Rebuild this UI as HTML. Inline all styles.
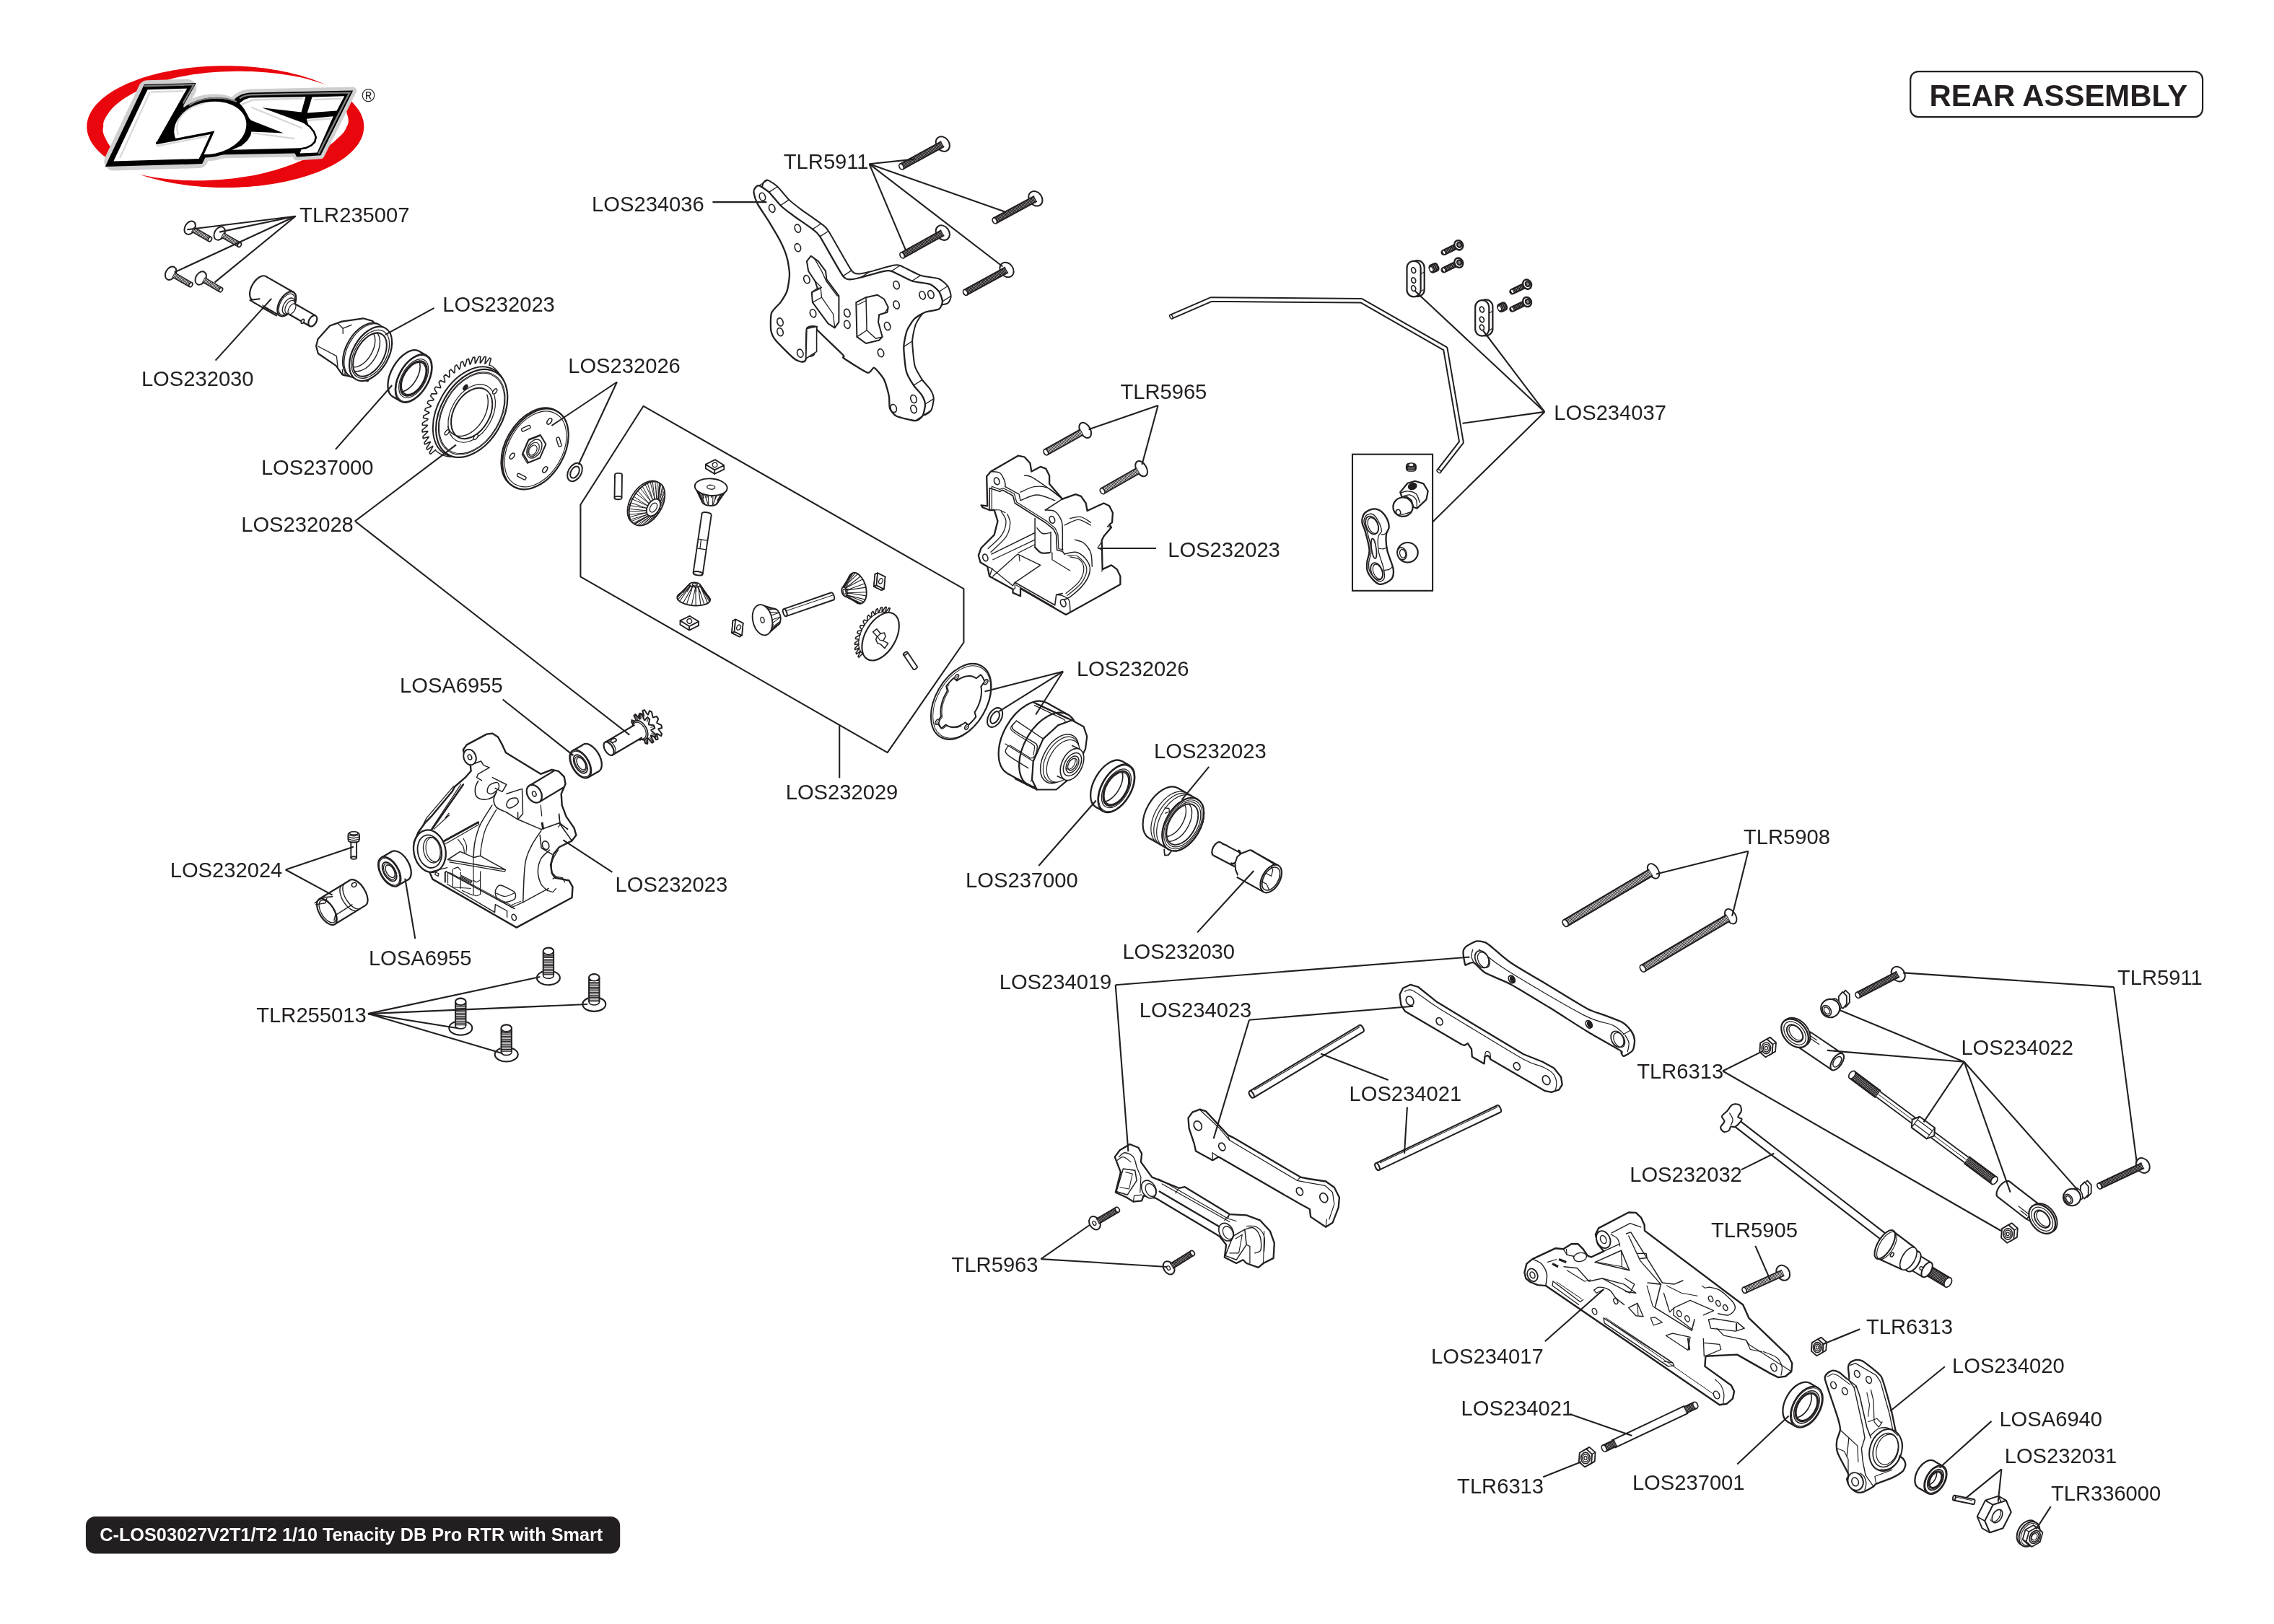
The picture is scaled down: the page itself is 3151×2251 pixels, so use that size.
<!DOCTYPE html>
<html><head><meta charset="utf-8"><title>REAR ASSEMBLY</title>
<style>
html,body{margin:0;padding:0;background:#fff;}
body{width:3151px;height:2251px;overflow:hidden;}
svg{display:block;font-family:"Liberation Sans",Arial,Helvetica,sans-serif;will-change:transform;transform:translateZ(0);}
</style></head><body>
<svg xmlns="http://www.w3.org/2000/svg" width="3151" height="2251" viewBox="0 0 3151 2251">
<rect width="3151" height="2251" fill="#fff"/>
<text x="415.1" y="307.5" font-size="29.17" font-weight="normal" fill="#231f20" text-anchor="start" >TLR235007</text>
<text x="613.2" y="431.6" font-size="29.17" font-weight="normal" fill="#231f20" text-anchor="start" >LOS232023</text>
<text x="195.9" y="535.0" font-size="29.17" font-weight="normal" fill="#231f20" text-anchor="start" >LOS232030</text>
<text x="1085.8" y="233.9" font-size="29.17" font-weight="normal" fill="#231f20" text-anchor="start" >TLR5911</text>
<text x="820.1" y="293.0" font-size="29.17" font-weight="normal" fill="#231f20" text-anchor="start" >LOS234036</text>
<text x="787.2" y="517.3" font-size="29.17" font-weight="normal" fill="#231f20" text-anchor="start" >LOS232026</text>
<text x="1552.4" y="553.1" font-size="29.17" font-weight="normal" fill="#231f20" text-anchor="start" >TLR5965</text>
<text x="2153.3" y="582.4" font-size="29.17" font-weight="normal" fill="#231f20" text-anchor="start" >LOS234037</text>
<text x="361.9" y="658.0" font-size="29.17" font-weight="normal" fill="#231f20" text-anchor="start" >LOS237000</text>
<text x="334.2" y="736.7" font-size="29.17" font-weight="normal" fill="#231f20" text-anchor="start" >LOS232028</text>
<text x="554.0" y="960.3" font-size="29.17" font-weight="normal" fill="#231f20" text-anchor="start" >LOSA6955</text>
<text x="235.7" y="1215.9" font-size="29.17" font-weight="normal" fill="#231f20" text-anchor="start" >LOS232024</text>
<text x="1088.7" y="1108.1" font-size="29.17" font-weight="normal" fill="#231f20" text-anchor="start" >LOS232029</text>
<text x="1491.9" y="937.4" font-size="29.17" font-weight="normal" fill="#231f20" text-anchor="start" >LOS232026</text>
<text x="1618.2" y="771.8" font-size="29.17" font-weight="normal" fill="#231f20" text-anchor="start" >LOS232023</text>
<text x="1599.0" y="1050.8" font-size="29.17" font-weight="normal" fill="#231f20" text-anchor="start" >LOS232023</text>
<text x="2416.0" y="1170.0" font-size="29.17" font-weight="normal" fill="#231f20" text-anchor="start" >TLR5908</text>
<text x="510.9" y="1337.7" font-size="29.17" font-weight="normal" fill="#231f20" text-anchor="start" >LOSA6955</text>
<text x="355.3" y="1416.9" font-size="29.17" font-weight="normal" fill="#231f20" text-anchor="start" >TLR255013</text>
<text x="852.6" y="1236.2" font-size="29.17" font-weight="normal" fill="#231f20" text-anchor="start" >LOS232023</text>
<text x="1338.1" y="1230.3" font-size="29.17" font-weight="normal" fill="#231f20" text-anchor="start" >LOS237000</text>
<text x="1384.7" y="1370.7" font-size="29.17" font-weight="normal" fill="#231f20" text-anchor="start" >LOS234019</text>
<text x="1318.6" y="1762.8" font-size="29.17" font-weight="normal" fill="#231f20" text-anchor="start" >TLR5963</text>
<text x="1555.4" y="1328.6" font-size="29.17" font-weight="normal" fill="#231f20" text-anchor="start" >LOS232030</text>
<text x="1578.7" y="1409.5" font-size="29.17" font-weight="normal" fill="#231f20" text-anchor="start" >LOS234023</text>
<text x="1869.5" y="1526.3" font-size="29.17" font-weight="normal" fill="#231f20" text-anchor="start" >LOS234021</text>
<text x="2268.2" y="1494.9" font-size="29.17" font-weight="normal" fill="#231f20" text-anchor="start" >TLR6313</text>
<text x="2258.2" y="1637.9" font-size="29.17" font-weight="normal" fill="#231f20" text-anchor="start" >LOS232032</text>
<text x="2371.0" y="1715.0" font-size="29.17" font-weight="normal" fill="#231f20" text-anchor="start" >TLR5905</text>
<text x="2933.9" y="1365.1" font-size="29.17" font-weight="normal" fill="#231f20" text-anchor="start" >TLR5911</text>
<text x="2717.4" y="1461.5" font-size="29.17" font-weight="normal" fill="#231f20" text-anchor="start" >LOS234022</text>
<text x="1983.1" y="1889.7" font-size="29.17" font-weight="normal" fill="#231f20" text-anchor="start" >LOS234017</text>
<text x="2024.6" y="1961.8" font-size="29.17" font-weight="normal" fill="#231f20" text-anchor="start" >LOS234021</text>
<text x="2019.1" y="2070.2" font-size="29.17" font-weight="normal" fill="#231f20" text-anchor="start" >TLR6313</text>
<text x="2261.9" y="2064.6" font-size="29.17" font-weight="normal" fill="#231f20" text-anchor="start" >LOS237001</text>
<text x="2586.0" y="1848.9" font-size="29.17" font-weight="normal" fill="#231f20" text-anchor="start" >TLR6313</text>
<text x="2705.0" y="1903.0" font-size="29.17" font-weight="normal" fill="#231f20" text-anchor="start" >LOS234020</text>
<text x="2770.4" y="1976.7" font-size="29.17" font-weight="normal" fill="#231f20" text-anchor="start" >LOSA6940</text>
<text x="2777.7" y="2027.9" font-size="29.17" font-weight="normal" fill="#231f20" text-anchor="start" >LOS232031</text>
<text x="2841.9" y="2080.0" font-size="29.17" font-weight="normal" fill="#231f20" text-anchor="start" >TLR336000</text>
<rect x="2647.2" y="99.1" width="404.9" height="63" rx="11" ry="11" fill="#fff" stroke="#231f20" stroke-width="2.2"/>
<text x="2673.5" y="146.8" font-size="41.9" font-weight="bold" fill="#231f20" text-anchor="start" >REAR ASSEMBLY</text>
<rect x="118.9" y="2102" width="740.3" height="51.5" rx="13" ry="13" fill="#231f20"/>
<text x="138.3" y="2136.4" font-size="25.25" font-weight="bold" fill="#fff" text-anchor="start" >C-LOS03027V2T1/T2 1/10 Tenacity DB Pro RTR with Smart</text>
<path d="M169.6,232.1 L164.7,229.6 L160.0,227.0 L155.6,224.4 L151.4,221.6 L147.4,218.8 L143.7,216.0 L140.2,213.0 L137.0,210.1 L134.1,207.0 L131.5,203.9 L129.1,200.8 L127.0,197.7 L125.2,194.5 L123.6,191.2 L122.4,188.0 L121.4,184.7 L120.8,181.4 L120.4,178.1 L120.3,174.8 L120.5,171.6 L121.0,168.3 L121.8,165.0 L122.9,161.7 L124.3,158.5 L126.0,155.3 L127.9,152.1 L130.1,148.9 L132.6,145.8 L135.4,142.8 L138.5,139.8 L141.8,136.8 L145.4,133.9 L149.2,131.1 L153.3,128.3 L157.6,125.6 L162.1,123.0 L166.9,120.5 L171.9,118.0 L177.2,115.6 L182.6,113.4 L188.2,111.2 L194.0,109.1 L200.0,107.1 L206.2,105.3 L212.5,103.5 L219.0,101.8 L225.6,100.3 L232.4,98.9 L239.3,97.5 L246.2,96.4 L253.3,95.3 L260.5,94.3 L267.8,93.5 L275.1,92.8 L282.5,92.2 L289.9,91.8 L297.4,91.5 L304.8,91.3 L312.3,91.2 L319.8,91.3 L327.3,91.5 L334.8,91.8 L342.2,92.2 L349.6,92.8 L356.9,93.5 L364.2,94.3 L371.4,95.3 L378.4,96.4 L385.4,97.6 L392.3,98.9 L399.1,100.3 L405.7,101.9 L412.2,103.5 L418.5,105.3 L424.6,107.2 L430.6,109.1 L436.5,111.2 L442.1,113.4 L447.5,115.7 L452.7,118.0 L452.7,118.0 L447.3,116.0 L441.8,114.2 L436.0,112.4 L430.1,110.7 L424.0,109.1 L417.8,107.6 L411.4,106.3 L404.9,105.1 L398.2,103.9 L391.5,102.9 L384.6,102.0 L377.6,101.3 L370.6,100.6 L363.5,99.9 L356.3,99.5 L349.0,99.1 L341.8,98.9 L334.4,98.8 L327.1,98.8 L319.7,98.9 L312.3,99.2 L305.0,99.5 L297.7,100.0 L290.4,100.6 L283.1,101.3 L275.9,102.2 L268.8,103.1 L261.7,104.2 L254.8,105.4 L247.9,106.7 L241.2,108.3 L234.6,110.1 L228.2,111.9 L221.9,113.8 L215.8,115.8 L209.9,117.9 L204.1,120.2 L198.6,122.5 L193.3,124.8 L188.2,127.3 L183.3,129.8 L178.7,132.4 L174.4,135.1 L170.3,137.8 L166.5,140.6 L163.0,143.3 L159.8,146.1 L156.9,148.8 L154.3,151.6 L152.1,154.3 L150.1,156.9 L148.5,159.4 L147.0,161.7 L145.7,163.9 L144.8,165.9 L144.0,167.8 L143.5,169.5 L143.2,171.2 L143.1,172.6 L143.1,174.0 L143.3,175.3 L143.0,176.6 L142.7,178.0 L142.5,179.5 L142.6,181.2 L142.8,183.0 L143.3,185.0 L144.0,187.2 L145.0,189.5 L146.3,191.9 L147.6,194.7 L149.2,197.7 L151.1,200.8 L153.4,203.9 L156.0,207.1 L159.0,210.3 L162.3,213.5 L165.9,216.7 L169.8,219.9 L174.0,223.1 Z" fill="#e9070d" stroke="none" stroke-width="0" stroke-linejoin="round" stroke-linecap="round" />
<path d="M463.6,123.6 L467.8,126.1 L471.8,128.6 L475.6,131.2 L479.1,133.8 L482.5,136.5 L485.6,139.2 L488.5,142.0 L491.1,144.9 L493.5,147.7 L495.7,150.7 L497.7,153.6 L499.4,156.6 L500.8,159.6 L502.0,162.6 L503.0,165.6 L503.7,168.7 L504.1,171.7 L504.3,174.8 L504.2,177.9 L503.9,180.9 L503.3,184.0 L502.5,187.0 L501.5,190.1 L500.1,193.1 L498.6,196.1 L496.8,199.0 L494.7,202.0 L492.4,204.8 L489.9,207.7 L487.1,210.5 L484.1,213.3 L480.9,216.0 L477.4,218.7 L473.8,221.3 L469.9,223.8 L465.8,226.3 L461.5,228.7 L457.0,231.1 L452.3,233.3 L447.5,235.5 L442.4,237.7 L437.2,239.7 L431.8,241.6 L426.3,243.5 L420.6,245.3 L414.8,247.0 L408.8,248.6 L402.7,250.1 L396.5,251.4 L390.2,252.7 L383.8,253.9 L377.3,255.0 L370.7,256.0 L364.0,256.9 L357.2,257.7 L350.4,258.3 L343.6,258.9 L336.7,259.3 L329.7,259.7 L322.8,259.9 L315.8,260.0 L308.8,260.0 L301.9,259.9 L294.9,259.7 L288.0,259.3 L281.1,258.9 L274.2,258.3 L267.4,257.7 L260.6,256.9 L254.0,256.0 L247.4,255.0 L240.8,253.9 L234.4,252.7 L228.1,251.5 L221.9,250.1 L215.8,248.6 L209.8,247.0 L204.0,245.3 L198.3,243.5 L192.8,241.7 L192.8,241.7 L198.5,242.9 L204.4,244.1 L210.3,245.2 L216.4,246.2 L222.6,247.0 L228.9,247.8 L235.2,248.5 L241.7,249.1 L248.2,249.5 L254.8,249.9 L261.5,250.1 L268.2,250.2 L274.9,250.2 L281.7,250.2 L288.5,250.0 L295.3,249.6 L302.1,249.2 L308.9,248.7 L315.7,248.1 L322.5,247.4 L329.2,246.5 L335.9,245.6 L342.5,244.6 L349.1,243.4 L355.6,242.2 L362.0,240.8 L368.3,239.3 L374.5,237.6 L380.6,235.9 L386.6,234.1 L392.4,232.2 L398.1,230.2 L403.6,228.2 L409.0,226.2 L414.2,224.1 L419.3,221.9 L424.2,219.7 L428.8,217.4 L433.3,215.1 L437.5,212.7 L441.6,210.5 L445.6,208.4 L449.3,206.2 L452.8,204.0 L456.0,201.8 L459.0,199.6 L461.7,197.4 L464.2,195.3 L466.4,193.1 L468.4,191.2 L470.4,189.5 L472.2,187.8 L473.7,186.3 L475.1,184.8 L476.2,183.4 L477.2,182.0 L478.0,180.8 L478.7,179.6 L479.3,178.5 L479.7,177.5 L480.1,176.4 L480.5,175.3 L481.3,174.1 L481.9,172.8 L482.4,171.2 L482.7,169.4 L482.8,167.5 L482.7,165.3 L482.4,163.0 L481.7,160.5 L480.8,157.9 L480.1,154.7 L479.2,151.1 L478.1,147.4 L476.5,143.6 L474.6,139.7 L472.3,135.7 L469.8,131.7 L466.8,127.7 L463.6,123.6 Z" fill="#e9070d" stroke="none" stroke-width="0" stroke-linejoin="round" stroke-linecap="round" />
<path d="M204.5,124.2 L259.2,122.7 L216.1,198.7 L293.5,184.2 L275.6,220.0 L157.3,223.5 Z" fill="#cfcfcf" stroke="#cfcfcf" stroke-width="26" stroke-linejoin="round"/>
<ellipse cx="291" cy="176.8" rx="60.5" ry="46" transform="rotate(-11 291 176.8)" fill="#cfcfcf"/>
<path d="M300,214.5 L408.4,212.6 L411.3,217.4 L444.4,215.3 L489.2,125.6 L346.4,128.6 C336,129.5 329,133 324,139 L300,150 Z" fill="#cfcfcf" stroke="#cfcfcf" stroke-width="10" stroke-linejoin="round"/>
<path d="M204.5,124.2 L259.2,122.7 L216.1,198.7 L293.5,184.2 L275.6,220.0 L157.3,223.5 Z" fill="#000" stroke="#000" stroke-width="14.5" stroke-linejoin="miter" stroke-miterlimit="6"/>
<path d="M199.5,119.3 L268.5,117.2 L252,146" fill="none" stroke="#7d7d7d" stroke-width="2.2"/>
<path d="M300,214.5 L408.4,212.6 L411.3,217.4 L444.4,215.3 L489.2,125.6 L346.4,128.6 C336,129.5 329,133 324,139 L300,150 Z" fill="#000"/>
<path d="M332,136.5 C338,132.5 342,131.6 348,131.4 L484.4,128.4 L441.5,213" fill="none" stroke="#7d7d7d" stroke-width="2.4"/>
<path d="M253,140 L216.1,198.7 L262,192 Z" fill="#000"/>
<ellipse cx="291" cy="176.8" rx="55.5" ry="41" transform="rotate(-11 291 176.8)" fill="#000"/>
<path d="M262,146 C280,134 310,133 328,141" fill="none" stroke="#7d7d7d" stroke-width="2.2"/>
<ellipse cx="291.3" cy="177.3" rx="50.5" ry="36" transform="rotate(-11 291.3 177.3)" fill="#fff"/>
<path d="M247,187 C240,168 255,149 283,143" fill="none" stroke="#d6d6d6" stroke-width="2"/>
<path d="M204.5,124.2 L259.2,122.7 L216.1,198.7 L293.5,184.2 L275.6,220.0 L157.3,223.5 Z" fill="#fff"/>
<path d="M216.1,198.7 L294.5,183.8 L277.5,221" fill="none" stroke="#000" stroke-width="3.4" stroke-linejoin="miter"/>
<path d="M209,127.5 L254,126.3" fill="none" stroke="#d9d9d9" stroke-width="2.6"/>
<path d="M207.5,128 L166,219" fill="none" stroke="#d9d9d9" stroke-width="2.2"/>
<path d="M217,202.5 L287,189" fill="none" stroke="#d9d9d9" stroke-width="2.4"/>
<path d="M432.5,134.4 L477.2,133.2 L466.6,153.5 L425.8,156.6 Z" fill="#fff" stroke="none" stroke-width="0" stroke-linejoin="round" stroke-linecap="round" />
<path d="M424.8,164.8 L461.8,161.3 L439.5,211.6 L415.6,212.6 L417.6,206.7 L428.7,177.7 Z" fill="#fff" stroke="none" stroke-width="0" stroke-linejoin="round" stroke-linecap="round" />
<path d="M420.5,170.5 L428.7,176.8 L434.0,183.5 L436.4,190.3 L435.0,196.1 L430.6,200.5 L423.8,203.7 L415.1,205.3" fill="none" stroke="#000" stroke-width="5.2" stroke-linejoin="round"/>
<path d="M331.9,142.9 L338.7,138.1 L346.4,135.6 L423.4,134.2 L417.6,155.5 L362.9,149.2 L420.5,170.5 L428.7,176.8 L434.0,183.5 L436.4,190.3 L435.0,196.1 L430.6,200.5 L423.8,203.7 L415.1,205.3 L321.3,207.7 L334.8,201.9 L342.6,195.1 L347.4,187.4 L348.4,182.6 L392.9,184.5 L348.4,167.1 L345.5,164.2 L342.6,158.4 L338.7,151.6 L334.8,146.3 Z" fill="#fff" stroke="none" stroke-width="0" stroke-linejoin="round" stroke-linecap="round" />
<path d="M334.8,144.8 L350.3,138.5 L420.0,136.6" fill="none" stroke="#d6d6d6" stroke-width="2.4"/>
<path d="M350.3,184.5 L408.4,192.2" fill="none" stroke="#d6d6d6" stroke-width="2.2"/>
<path d="M348.4,148.7 L419.0,177.7" fill="none" stroke="#d6d6d6" stroke-width="2.0"/>
<path d="M435.4,138.1 L473.2,136.6" fill="none" stroke="#d6d6d6" stroke-width="2.4"/>
<path d="M425.8,167.1 L458.7,164.2" fill="none" stroke="#d6d6d6" stroke-width="2.4"/>
<text x="501.3" y="141.0" font-size="25.0" font-weight="normal" fill="#231f20" text-anchor="start" >®</text>
<ellipse cx="263.2" cy="315.7" rx="6.9" ry="9.8" transform="rotate(29.8 263.2 315.7)" fill="#fff" stroke="#231f20" stroke-width="2.0"/>
<line x1="267.0" y1="317.9" x2="290.9" y2="331.6" stroke="#231f20" stroke-width="8.2"/>
<line x1="267.0" y1="317.9" x2="290.9" y2="331.6" stroke="#fff" stroke-width="4.9"/>
<line x1="267.0" y1="317.9" x2="290.9" y2="331.6" stroke="#231f20" stroke-width="4.9" stroke-dasharray="1.05 0.85"/>
<ellipse cx="290.9" cy="331.6" rx="2.3" ry="3.3" transform="rotate(29.8 290.9 331.6)" fill="#fff" stroke="#231f20" stroke-width="1.7"/>
<ellipse cx="304.2" cy="323.5" rx="6.9" ry="9.8" transform="rotate(29.8 304.2 323.5)" fill="#fff" stroke="#231f20" stroke-width="2.0"/>
<line x1="308.0" y1="325.7" x2="331.9" y2="339.3" stroke="#231f20" stroke-width="8.2"/>
<line x1="308.0" y1="325.7" x2="331.9" y2="339.3" stroke="#fff" stroke-width="4.9"/>
<line x1="308.0" y1="325.7" x2="331.9" y2="339.3" stroke="#231f20" stroke-width="4.9" stroke-dasharray="1.05 0.85"/>
<ellipse cx="331.9" cy="339.3" rx="2.3" ry="3.3" transform="rotate(29.8 331.9 339.3)" fill="#fff" stroke="#231f20" stroke-width="1.7"/>
<ellipse cx="236.6" cy="378.7" rx="6.9" ry="9.8" transform="rotate(30.1 236.6 378.7)" fill="#fff" stroke="#231f20" stroke-width="2.0"/>
<line x1="240.4" y1="380.9" x2="264.3" y2="394.7" stroke="#231f20" stroke-width="8.2"/>
<line x1="240.4" y1="380.9" x2="264.3" y2="394.7" stroke="#fff" stroke-width="4.9"/>
<line x1="240.4" y1="380.9" x2="264.3" y2="394.7" stroke="#231f20" stroke-width="4.9" stroke-dasharray="1.05 0.85"/>
<ellipse cx="264.3" cy="394.7" rx="2.3" ry="3.3" transform="rotate(30.1 264.3 394.7)" fill="#fff" stroke="#231f20" stroke-width="1.7"/>
<ellipse cx="278.2" cy="385.5" rx="6.9" ry="9.8" transform="rotate(30.3 278.2 385.5)" fill="#fff" stroke="#231f20" stroke-width="2.0"/>
<line x1="282.0" y1="387.7" x2="305.9" y2="401.7" stroke="#231f20" stroke-width="8.2"/>
<line x1="282.0" y1="387.7" x2="305.9" y2="401.7" stroke="#fff" stroke-width="4.9"/>
<line x1="282.0" y1="387.7" x2="305.9" y2="401.7" stroke="#231f20" stroke-width="4.9" stroke-dasharray="1.05 0.85"/>
<ellipse cx="305.9" cy="401.7" rx="2.3" ry="3.3" transform="rotate(30.3 305.9 401.7)" fill="#fff" stroke="#231f20" stroke-width="1.7"/>
<ellipse cx="359.0" cy="399.4" rx="10.3" ry="18.8" transform="rotate(29.9 359.0 399.4)" fill="#fff" stroke="#231f20" stroke-width="2.2"/>
<path d="M349.7,415.7 L387.9,437.6 L406.6,405.0 L368.4,383.1 Z" fill="#fff" stroke="none" stroke-width="0" stroke-linejoin="round" stroke-linecap="round" />
<line x1="349.7" y1="415.7" x2="387.9" y2="437.6" stroke="#231f20" stroke-width="2.2" />
<line x1="368.4" y1="383.1" x2="406.6" y2="405.0" stroke="#231f20" stroke-width="2.2" />
<ellipse cx="397.3" cy="421.3" rx="10.3" ry="18.8" transform="rotate(29.9 397.3 421.3)" fill="#fff" stroke="#231f20" stroke-width="2.2"/>
<path d="M359.6,414.3 L346.5,416.1 L365.1,427.2" fill="#fff" stroke="#231f20" stroke-width="2.0" stroke-linejoin="round" stroke-linecap="round" />
<path d="M349.8,418.5 L376.2,433.0" fill="none" stroke="#231f20" stroke-width="1.4" stroke-linejoin="round" stroke-linecap="round" />
<path d="M365.1,427.2 L382.9,437.4" fill="none" stroke="#231f20" stroke-width="2.2" stroke-linejoin="round" stroke-linecap="round" />
<ellipse cx="397.3" cy="421.9" rx="8.9" ry="16.2" transform="rotate(30.0 397.3 421.9)" fill="none" stroke="#231f20" stroke-width="1.2"/>
<ellipse cx="399.7" cy="424.1" rx="6.7" ry="12.2" transform="rotate(30.0 399.7 424.1)" fill="#fff" stroke="#231f20" stroke-width="1.3"/>
<ellipse cx="401.7" cy="425.4" rx="5.5" ry="10.0" transform="rotate(30.0 401.7 425.4)" fill="#fff" stroke="#231f20" stroke-width="1.2"/>
<path d="M399.8,435.2 L429.2,452.0 L437.4,437.6 L408.1,420.8 Z" fill="#fff" stroke="none" stroke-width="0" stroke-linejoin="round" stroke-linecap="round" />
<line x1="399.8" y1="435.2" x2="429.2" y2="452.0" stroke="#231f20" stroke-width="2.2" />
<line x1="408.1" y1="420.8" x2="437.4" y2="437.6" stroke="#231f20" stroke-width="2.2" />
<ellipse cx="433.3" cy="444.8" rx="5.1" ry="8.3" transform="rotate(29.8 433.3 444.8)" fill="#fff" stroke="#231f20" stroke-width="2.2"/>
<ellipse cx="404.5" cy="428.3" rx="4.2" ry="8.3" transform="rotate(30.0 404.5 428.3)" fill="none" stroke="#231f20" stroke-width="1.2"/>
<ellipse cx="419.4" cy="445.4" rx="1.8" ry="3.2" transform="rotate(25.0 419.4 445.4)" fill="#fff" stroke="#231f20" stroke-width="1.6"/>
<path d="M473.6,445.6 L457.1,451.5 L440.5,470.1 L438.1,479.7 L440.8,490.0 L465.6,506.9 L474.4,519.3 L509.6,528.1 L543.3,476.8 L516.0,444.8 L503.2,441.3 Z" fill="#fff" stroke="#231f20" stroke-width="2.2" stroke-linejoin="round" stroke-linecap="round" />
<path d="M457.1,451.5 L468.0,448.0 L475.2,455.2 L475.2,462.4" fill="none" stroke="#231f20" stroke-width="1.3" stroke-linejoin="round" stroke-linecap="round" />
<path d="M475.2,455.2 L487.2,450.4" fill="none" stroke="#231f20" stroke-width="1.3" stroke-linejoin="round" stroke-linecap="round" />
<path d="M440.8,480.0 L466.4,493.6 L468.0,508.9" fill="none" stroke="#231f20" stroke-width="1.3" stroke-linejoin="round" stroke-linecap="round" />
<path d="M474.4,512.1 L475.2,520.1 L478.4,520.9 L477.9,516.9" fill="none" stroke="#231f20" stroke-width="1.4" stroke-linejoin="round" stroke-linecap="round" />
<ellipse cx="504.5" cy="485.2" rx="24.6" ry="41.0" transform="rotate(30.0 504.5 485.2)" fill="#fff" stroke="#231f20" stroke-width="2.0"/>
<ellipse cx="506.4" cy="486.4" rx="24.6" ry="41.0" transform="rotate(30.0 506.4 486.4)" fill="#fff" stroke="#231f20" stroke-width="1.2"/>
<ellipse cx="513.6" cy="490.4" rx="24.6" ry="41.0" transform="rotate(30.0 513.6 490.4)" fill="#fff" stroke="#231f20" stroke-width="2.2"/>
<ellipse cx="513.3" cy="490.9" rx="21.9" ry="36.5" transform="rotate(30.0 513.3 490.9)" fill="none" stroke="#231f20" stroke-width="1.3"/>
<ellipse cx="512.5" cy="491.6" rx="19.1" ry="33.0" transform="rotate(30.0 512.5 491.6)" fill="#fff" stroke="#231f20" stroke-width="2.0"/>
<clipPath id="cpins"><ellipse cx="512.5" cy="491.6" rx="19.1" ry="33" transform="rotate(30 512.5 491.6)"/></clipPath>
<g clip-path="url(#cpins)">
<ellipse cx="504.5" cy="486.4" rx="18.0" ry="31.0" transform="rotate(30.0 504.5 486.4)" fill="none" stroke="#231f20" stroke-width="1.4"/>
<ellipse cx="500.0" cy="483.2" rx="16.2" ry="28.0" transform="rotate(30.0 500.0 483.2)" fill="none" stroke="#231f20" stroke-width="1.4"/>
</g>
<ellipse cx="562.8" cy="518.5" rx="20.4" ry="36.5" transform="rotate(30.0 562.8 518.5)" fill="#fff" stroke="#231f20" stroke-width="2.3"/>
<path d="M544.6,550.1 L554.9,556.1 L591.4,492.9 L581.1,486.9 Z" fill="#fff" stroke="none" stroke-width="0" stroke-linejoin="round" stroke-linecap="round" />
<line x1="544.6" y1="550.1" x2="554.9" y2="556.1" stroke="#231f20" stroke-width="2.3" />
<line x1="581.1" y1="486.9" x2="591.4" y2="492.9" stroke="#231f20" stroke-width="2.3" />
<ellipse cx="573.2" cy="524.5" rx="20.4" ry="36.5" transform="rotate(30.0 573.2 524.5)" fill="#fff" stroke="#231f20" stroke-width="2.3"/>
<ellipse cx="573.2" cy="524.5" rx="19.6" ry="35.0" transform="rotate(30.0 573.2 524.5)" fill="none" stroke="#231f20" stroke-width="1.0"/>
<ellipse cx="573.2" cy="524.5" rx="16.5" ry="29.5" transform="rotate(30.0 573.2 524.5)" fill="none" stroke="#231f20" stroke-width="1.2"/>
<ellipse cx="573.2" cy="524.5" rx="14.8" ry="26.5" transform="rotate(30.0 573.2 524.5)" fill="#fff" stroke="#231f20" stroke-width="2.3"/>
<clipPath id="cp573_524"><ellipse cx="573.2" cy="524.5" rx="14.8" ry="26.5" transform="rotate(30 573.2 524.5)"/></clipPath>
<g clip-path="url(#cp573_524)">
<ellipse cx="563.7" cy="519.0" rx="14.8" ry="26.5" transform="rotate(30.0 563.7 519.0)" fill="none" stroke="#231f20" stroke-width="1.6"/>
</g>
<ellipse cx="573.2" cy="524.5" rx="13.7" ry="24.5" transform="rotate(30.0 573.2 524.5)" fill="none" stroke="#231f20" stroke-width="1.6"/>
<ellipse cx="644.9" cy="567.8" rx="45.8" ry="70.5" transform="rotate(30.0 644.9 567.8)" fill="#fff" stroke="#231f20" stroke-width="1.4"/>
<path d="M603.6,623.5 L596.5,629.5 L595.0,627.7 L599.8,618.9 L599.4,618.4 L592.1,623.3 L590.9,621.2 L596.5,612.9 L596.2,612.3 L588.7,616.0 L587.8,613.7 L594.0,606.0 L593.9,605.3 L586.4,607.8 L585.9,605.2 L592.6,598.4 L592.5,597.6 L585.2,598.9 L585.1,596.1 L592.2,590.2 L592.2,589.3 L585.2,589.3 L585.4,586.3 L592.8,581.5 L592.9,580.6 L586.4,579.3 L586.9,576.3 L594.5,572.5 L594.7,571.6 L588.7,569.1 L589.6,566.0 L597.1,563.5 L597.4,562.6 L592.1,558.8 L593.3,555.8 L600.6,554.6 L601.0,553.7 L596.5,548.8 L598.0,545.8 L605.0,545.9 L605.5,545.0 L601.9,539.1 L603.6,536.3 L610.2,537.6 L610.8,536.8 L608.1,529.9 L610.1,527.3 L616.1,529.9 L616.7,529.2 L615.0,521.5 L617.2,519.2 L622.5,523.0 L623.1,522.3 L622.5,514.0 L624.8,512.0 L629.3,516.9 L630.0,516.3 L630.4,507.5 L632.9,505.8 L636.5,511.8 L637.2,511.4 L638.7,502.3 L641.2,500.9 L643.8,507.8 L644.6,507.5 L647.0,498.2 L649.5,497.3 L651.2,505.0 L651.9,504.8 L655.3,495.6 L657.8,495.1 L658.4,503.4 L659.1,503.3 L663.4,494.3 L665.8,494.2 L665.3,503.0 L666.0,503.1 L671.2,494.5 L673.4,494.8 L671.9,503.9 L672.5,504.1 L678.4,496.1 L680.4,496.9 L677.9,506.1 L678.5,506.4" fill="#fff" stroke="#231f20" stroke-width="1.6" stroke-linejoin="round" stroke-linecap="round" />
<ellipse cx="650.7" cy="570.9" rx="43.9" ry="67.5" transform="rotate(30.0 650.7 570.9)" fill="#fff" stroke="#231f20" stroke-width="2.0"/>
<ellipse cx="653.7" cy="572.9" rx="42.8" ry="65.8" transform="rotate(30.0 653.7 572.9)" fill="#fff" stroke="#231f20" stroke-width="2.2"/>
<ellipse cx="653.7" cy="572.9" rx="40.0" ry="61.5" transform="rotate(30.0 653.7 572.9)" fill="none" stroke="#231f20" stroke-width="1.1"/>
<ellipse cx="653.7" cy="572.9" rx="39.0" ry="60.0" transform="rotate(30.0 653.7 572.9)" fill="none" stroke="#231f20" stroke-width="1.1"/>
<ellipse cx="653.7" cy="572.9" rx="28.3" ry="43.5" transform="rotate(30.0 653.7 572.9)" fill="none" stroke="#231f20" stroke-width="1.2"/>
<ellipse cx="653.7" cy="572.9" rx="24.7" ry="38.0" transform="rotate(30.0 653.7 572.9)" fill="#fff" stroke="#231f20" stroke-width="2.0"/>
<path d="M674.9,547.1 L675.5,549.3 L675.9,551.6 L676.2,554.0 L676.3,556.5 L676.2,559.1 L676.0,561.8 L675.6,564.5 L675.0,567.3 L674.2,570.0 L673.3,572.8 L672.2,575.5 L671.0,578.2 L669.6,580.9 L668.1,583.4 L666.4,585.9 L664.7,588.3 L662.8,590.6 L660.9,592.7 L658.8,594.7 L656.7,596.5 L654.6,598.2 L652.4,599.7 L650.1,601.0 L647.9,602.1 L645.7,603.0 L643.4,603.7 L641.2,604.2 L639.1,604.5 L636.9,604.5 L634.9,604.4 L632.9,604.0 L631.1,603.4 L629.3,602.6 L627.6,601.6 L626.1,600.4 L624.7,599.0 L623.4,597.4 L622.3,595.7 L621.4,593.8 L620.6,591.7" fill="none" stroke="#231f20" stroke-width="1.4" stroke-linejoin="round" stroke-linecap="round" />
<ellipse cx="685.7" cy="542.5" rx="2.2" ry="4.2" transform="rotate(35.0 685.7 542.5)" fill="#fff" stroke="#231f20" stroke-width="1.4"/>
<ellipse cx="659.3" cy="605.7" rx="2.2" ry="4.2" transform="rotate(35.0 659.3 605.7)" fill="#fff" stroke="#231f20" stroke-width="1.4"/>
<ellipse cx="619.3" cy="599.3" rx="2.2" ry="4.2" transform="rotate(35.0 619.3 599.3)" fill="#fff" stroke="#231f20" stroke-width="1.4"/>
<ellipse cx="644.9" cy="536.9" rx="2.2" ry="4.2" transform="rotate(35.0 644.9 536.9)" fill="#231f20" stroke="#231f20" stroke-width="1.4"/>
<ellipse cx="740.1" cy="621.2" rx="39.7" ry="60.2" transform="rotate(30.0 740.1 621.2)" fill="#fff" stroke="#231f20" stroke-width="2.0"/>
<ellipse cx="742.0" cy="622.4" rx="39.7" ry="60.2" transform="rotate(30.0 742.0 622.4)" fill="#fff" stroke="#231f20" stroke-width="2.2"/>
<ellipse cx="742.0" cy="622.4" rx="37.3" ry="56.5" transform="rotate(30.0 742.0 622.4)" fill="none" stroke="#231f20" stroke-width="1.1"/>
<path d="M748.1,634.8 L732.2,641.2 L724.5,628.4 L732.7,609.3 L748.7,602.9 L756.4,615.7 Z" fill="#fff" stroke="#231f20" stroke-width="2.0" stroke-linejoin="round" stroke-linecap="round" />
<path d="M731.0,642.7 L723.3,629.9 L731.5,610.8 L747.5,604.4" fill="none" stroke="#231f20" stroke-width="1.2" stroke-linejoin="round" stroke-linecap="round" />
<ellipse cx="740.4" cy="622.0" rx="9.2" ry="14.0" transform="rotate(30.0 740.4 622.0)" fill="#fff" stroke="#231f20" stroke-width="1.4"/>
<ellipse cx="739.4" cy="623.0" rx="6.9" ry="10.5" transform="rotate(30.0 739.4 623.0)" fill="none" stroke="#231f20" stroke-width="1.2"/>
<ellipse cx="738.4" cy="624.0" rx="5.0" ry="7.5" transform="rotate(30.0 738.4 624.0)" fill="none" stroke="#231f20" stroke-width="1.2"/>
<rect x="768.0" y="610.4" width="13" height="4.4" rx="1.5" transform="rotate(73.3 774.5 612.6)" fill="#fff" stroke="#231f20" stroke-width="1.4"/>
<ellipse cx="755.2" cy="651.0" rx="2.6" ry="4.6" transform="rotate(35.0 755.2 651.0)" fill="#fff" stroke="#231f20" stroke-width="1.5"/>
<rect x="716.3" y="658.5" width="13" height="4.4" rx="1.5" transform="rotate(206.7 722.8 660.7)" fill="#fff" stroke="#231f20" stroke-width="1.4"/>
<ellipse cx="709.6" cy="632.1" rx="2.6" ry="4.6" transform="rotate(35.0 709.6 632.1)" fill="#fff" stroke="#231f20" stroke-width="1.5"/>
<rect x="722.3" y="591.6" width="13" height="4.4" rx="1.5" transform="rotate(-24.8 728.8 593.8)" fill="#fff" stroke="#231f20" stroke-width="1.4"/>
<ellipse cx="761.3" cy="584.0" rx="2.6" ry="4.6" transform="rotate(35.0 761.3 584.0)" fill="#fff" stroke="#231f20" stroke-width="1.5"/>
<ellipse cx="796.5" cy="654.5" rx="9.0" ry="13.6" transform="rotate(30.0 796.5 654.5)" fill="#fff" stroke="#231f20" stroke-width="2.0"/>
<ellipse cx="796.5" cy="654.5" rx="5.3" ry="8.8" transform="rotate(30.0 796.5 654.5)" fill="#fff" stroke="#231f20" stroke-width="2.0"/>
<ellipse cx="857.0" cy="658.1" rx="2.2" ry="5.0" transform="rotate(90.9 857.0 658.1)" fill="#fff" stroke="#231f20" stroke-width="1.9"/>
<path d="M852.0,658.0 L851.5,690.0 L861.5,690.2 L862.0,658.1 Z" fill="#fff" stroke="none" stroke-width="0" stroke-linejoin="round" stroke-linecap="round" />
<line x1="852.0" y1="658.0" x2="851.5" y2="690.0" stroke="#231f20" stroke-width="1.9" />
<line x1="862.0" y1="658.1" x2="861.5" y2="690.2" stroke="#231f20" stroke-width="1.9" />
<ellipse cx="856.5" cy="690.1" rx="2.2" ry="5.0" transform="rotate(90.9 856.5 690.1)" fill="#fff" stroke="#231f20" stroke-width="1.9"/>
<ellipse cx="894.1" cy="696.5" rx="20.5" ry="33.0" transform="rotate(-148.0 894.1 696.5)" fill="#fff" stroke="#231f20" stroke-width="1.8"/>
<path d="M909.5,686.1 L911.6,668.5 L876.6,724.5 L891.5,714.9 Z" fill="#fff" stroke="none" stroke-width="0" stroke-linejoin="round" stroke-linecap="round" />
<line x1="909.5" y1="686.1" x2="911.6" y2="668.5" stroke="#231f20" stroke-width="1.8" />
<line x1="876.6" y1="724.5" x2="891.5" y2="714.9" stroke="#231f20" stroke-width="1.8" />
<line x1="892.7" y1="693.2" x2="879.0" y2="682.3" stroke="#231f20" stroke-width="1.0" />
<line x1="894.1" y1="691.5" x2="879.0" y2="682.3" stroke="#231f20" stroke-width="1.0" />
<line x1="895.9" y1="689.6" x2="885.1" y2="675.4" stroke="#231f20" stroke-width="1.0" />
<line x1="897.4" y1="688.3" x2="885.1" y2="675.4" stroke="#231f20" stroke-width="1.0" />
<line x1="899.4" y1="687.0" x2="891.9" y2="670.3" stroke="#231f20" stroke-width="1.0" />
<line x1="901.0" y1="686.1" x2="891.9" y2="670.3" stroke="#231f20" stroke-width="1.0" />
<line x1="903.0" y1="685.4" x2="898.9" y2="667.2" stroke="#231f20" stroke-width="1.0" />
<line x1="904.6" y1="685.1" x2="898.9" y2="667.2" stroke="#231f20" stroke-width="1.0" />
<line x1="906.4" y1="685.1" x2="905.6" y2="666.5" stroke="#231f20" stroke-width="1.0" />
<line x1="907.8" y1="685.3" x2="905.6" y2="666.5" stroke="#231f20" stroke-width="1.0" />
<line x1="909.3" y1="686.0" x2="911.2" y2="668.3" stroke="#231f20" stroke-width="1.0" />
<line x1="910.4" y1="686.8" x2="911.2" y2="668.3" stroke="#231f20" stroke-width="1.0" />
<line x1="911.5" y1="688.0" x2="915.5" y2="672.3" stroke="#231f20" stroke-width="1.0" />
<line x1="912.3" y1="689.3" x2="915.5" y2="672.3" stroke="#231f20" stroke-width="1.0" />
<line x1="912.9" y1="691.1" x2="918.1" y2="678.3" stroke="#231f20" stroke-width="1.0" />
<line x1="913.1" y1="692.8" x2="918.1" y2="678.3" stroke="#231f20" stroke-width="1.0" />
<line x1="913.2" y1="695.0" x2="918.7" y2="685.8" stroke="#231f20" stroke-width="1.0" />
<line x1="913.0" y1="696.9" x2="918.7" y2="685.8" stroke="#231f20" stroke-width="1.0" />
<line x1="912.5" y1="699.3" x2="917.3" y2="694.1" stroke="#231f20" stroke-width="1.0" />
<line x1="911.8" y1="701.2" x2="917.3" y2="694.1" stroke="#231f20" stroke-width="1.0" />
<line x1="910.8" y1="703.6" x2="914.1" y2="702.6" stroke="#231f20" stroke-width="1.0" />
<line x1="909.8" y1="705.6" x2="914.1" y2="702.6" stroke="#231f20" stroke-width="1.0" />
<line x1="908.3" y1="707.8" x2="909.2" y2="710.7" stroke="#231f20" stroke-width="1.0" />
<line x1="906.9" y1="709.5" x2="909.2" y2="710.7" stroke="#231f20" stroke-width="1.0" />
<line x1="905.1" y1="711.3" x2="903.1" y2="717.5" stroke="#231f20" stroke-width="1.0" />
<line x1="903.6" y1="712.6" x2="903.1" y2="717.5" stroke="#231f20" stroke-width="1.0" />
<line x1="901.6" y1="714.0" x2="896.3" y2="722.7" stroke="#231f20" stroke-width="1.0" />
<line x1="900.0" y1="714.8" x2="896.3" y2="722.7" stroke="#231f20" stroke-width="1.0" />
<line x1="898.0" y1="715.6" x2="889.3" y2="725.8" stroke="#231f20" stroke-width="1.0" />
<line x1="896.4" y1="715.9" x2="889.3" y2="725.8" stroke="#231f20" stroke-width="1.0" />
<line x1="894.6" y1="715.9" x2="882.7" y2="726.4" stroke="#231f20" stroke-width="1.0" />
<line x1="893.2" y1="715.7" x2="882.7" y2="726.4" stroke="#231f20" stroke-width="1.0" />
<line x1="891.7" y1="715.0" x2="877.0" y2="724.7" stroke="#231f20" stroke-width="1.0" />
<line x1="890.6" y1="714.2" x2="877.0" y2="724.7" stroke="#231f20" stroke-width="1.0" />
<line x1="889.5" y1="712.9" x2="872.7" y2="720.6" stroke="#231f20" stroke-width="1.0" />
<line x1="888.8" y1="711.7" x2="872.7" y2="720.6" stroke="#231f20" stroke-width="1.0" />
<line x1="888.2" y1="709.8" x2="870.1" y2="714.7" stroke="#231f20" stroke-width="1.0" />
<line x1="887.9" y1="708.2" x2="870.1" y2="714.7" stroke="#231f20" stroke-width="1.0" />
<line x1="887.8" y1="706.0" x2="869.5" y2="707.2" stroke="#231f20" stroke-width="1.0" />
<line x1="888.0" y1="704.1" x2="869.5" y2="707.2" stroke="#231f20" stroke-width="1.0" />
<line x1="888.5" y1="701.7" x2="870.9" y2="698.9" stroke="#231f20" stroke-width="1.0" />
<line x1="889.2" y1="699.7" x2="870.9" y2="698.9" stroke="#231f20" stroke-width="1.0" />
<line x1="890.2" y1="697.3" x2="874.1" y2="690.3" stroke="#231f20" stroke-width="1.0" />
<line x1="891.3" y1="695.4" x2="874.1" y2="690.3" stroke="#231f20" stroke-width="1.0" />
<ellipse cx="900.5" cy="700.5" rx="10.5" ry="17.0" transform="rotate(-148.0 900.5 700.5)" fill="#fff" stroke="#231f20" stroke-width="1.8"/>
<ellipse cx="896.5" cy="698.0" rx="20.8" ry="33.5" transform="rotate(31.4 896.5 698.0)" fill="#fff" stroke="#231f20" stroke-width="1.8"/>
<path d="M879.0,726.6 L898.7,714.6 L912.3,692.4 L914.0,669.4 Z" fill="#fff" stroke="none" stroke-width="0" stroke-linejoin="round" stroke-linecap="round" />
<line x1="879.0" y1="726.6" x2="898.7" y2="714.6" stroke="#231f20" stroke-width="1.8" />
<line x1="912.3" y1="692.4" x2="914.0" y2="669.4" stroke="#231f20" stroke-width="1.8" />
<line x1="912.0" y1="712.2" x2="911.5" y2="709.0" stroke="#231f20" stroke-width="1.0" />
<line x1="909.3" y1="715.6" x2="911.5" y2="709.0" stroke="#231f20" stroke-width="1.0" />
<line x1="905.9" y1="719.3" x2="909.1" y2="711.7" stroke="#231f20" stroke-width="1.0" />
<line x1="902.8" y1="721.9" x2="909.1" y2="711.7" stroke="#231f20" stroke-width="1.0" />
<line x1="899.0" y1="724.6" x2="906.5" y2="713.8" stroke="#231f20" stroke-width="1.0" />
<line x1="895.8" y1="726.3" x2="906.5" y2="713.8" stroke="#231f20" stroke-width="1.0" />
<line x1="891.9" y1="727.7" x2="903.7" y2="715.0" stroke="#231f20" stroke-width="1.0" />
<line x1="888.8" y1="728.4" x2="903.7" y2="715.0" stroke="#231f20" stroke-width="1.0" />
<line x1="885.2" y1="728.5" x2="901.1" y2="715.3" stroke="#231f20" stroke-width="1.0" />
<line x1="882.5" y1="728.0" x2="901.1" y2="715.3" stroke="#231f20" stroke-width="1.0" />
<line x1="879.4" y1="726.8" x2="898.9" y2="714.7" stroke="#231f20" stroke-width="1.0" />
<line x1="877.2" y1="725.2" x2="898.9" y2="714.7" stroke="#231f20" stroke-width="1.0" />
<line x1="875.0" y1="722.7" x2="897.2" y2="713.1" stroke="#231f20" stroke-width="1.0" />
<line x1="873.6" y1="720.2" x2="897.2" y2="713.1" stroke="#231f20" stroke-width="1.0" />
<line x1="872.4" y1="716.7" x2="896.1" y2="710.7" stroke="#231f20" stroke-width="1.0" />
<line x1="871.8" y1="713.4" x2="896.1" y2="710.7" stroke="#231f20" stroke-width="1.0" />
<line x1="871.6" y1="709.1" x2="895.9" y2="707.8" stroke="#231f20" stroke-width="1.0" />
<line x1="872.0" y1="705.4" x2="895.9" y2="707.8" stroke="#231f20" stroke-width="1.0" />
<line x1="873.0" y1="700.6" x2="896.4" y2="704.5" stroke="#231f20" stroke-width="1.0" />
<line x1="874.2" y1="696.7" x2="896.4" y2="704.5" stroke="#231f20" stroke-width="1.0" />
<line x1="876.2" y1="691.9" x2="897.6" y2="701.1" stroke="#231f20" stroke-width="1.0" />
<line x1="878.2" y1="688.2" x2="897.6" y2="701.1" stroke="#231f20" stroke-width="1.0" />
<line x1="881.0" y1="683.7" x2="899.5" y2="698.0" stroke="#231f20" stroke-width="1.0" />
<line x1="883.7" y1="680.4" x2="899.5" y2="698.0" stroke="#231f20" stroke-width="1.0" />
<line x1="887.2" y1="676.7" x2="901.9" y2="695.2" stroke="#231f20" stroke-width="1.0" />
<line x1="890.2" y1="674.1" x2="901.9" y2="695.2" stroke="#231f20" stroke-width="1.0" />
<line x1="894.0" y1="671.4" x2="904.6" y2="693.2" stroke="#231f20" stroke-width="1.0" />
<line x1="897.2" y1="669.7" x2="904.6" y2="693.2" stroke="#231f20" stroke-width="1.0" />
<line x1="901.1" y1="668.2" x2="907.3" y2="691.9" stroke="#231f20" stroke-width="1.0" />
<line x1="904.2" y1="667.6" x2="907.3" y2="691.9" stroke="#231f20" stroke-width="1.0" />
<line x1="907.8" y1="667.5" x2="909.9" y2="691.6" stroke="#231f20" stroke-width="1.0" />
<line x1="910.6" y1="667.9" x2="909.9" y2="691.6" stroke="#231f20" stroke-width="1.0" />
<line x1="913.6" y1="669.2" x2="912.1" y2="692.3" stroke="#231f20" stroke-width="1.0" />
<line x1="915.8" y1="670.7" x2="912.1" y2="692.3" stroke="#231f20" stroke-width="1.0" />
<line x1="918.0" y1="673.2" x2="913.9" y2="693.9" stroke="#231f20" stroke-width="1.0" />
<line x1="919.4" y1="675.7" x2="913.9" y2="693.9" stroke="#231f20" stroke-width="1.0" />
<line x1="920.7" y1="679.3" x2="914.9" y2="696.2" stroke="#231f20" stroke-width="1.0" />
<line x1="921.2" y1="682.5" x2="914.9" y2="696.2" stroke="#231f20" stroke-width="1.0" />
<line x1="921.4" y1="686.9" x2="915.2" y2="699.2" stroke="#231f20" stroke-width="1.0" />
<line x1="921.0" y1="690.6" x2="915.2" y2="699.2" stroke="#231f20" stroke-width="1.0" />
<line x1="920.1" y1="695.3" x2="914.6" y2="702.5" stroke="#231f20" stroke-width="1.0" />
<line x1="918.8" y1="699.3" x2="914.6" y2="702.5" stroke="#231f20" stroke-width="1.0" />
<line x1="916.8" y1="704.0" x2="913.4" y2="705.8" stroke="#231f20" stroke-width="1.0" />
<line x1="914.8" y1="707.8" x2="913.4" y2="705.8" stroke="#231f20" stroke-width="1.0" />
<ellipse cx="905.5" cy="703.5" rx="8.1" ry="13.0" transform="rotate(31.4 905.5 703.5)" fill="#fff" stroke="#231f20" stroke-width="1.8"/>
<ellipse cx="905.5" cy="703.5" rx="4.3" ry="7.0" transform="rotate(31.4 905.5 703.5)" fill="#fff" stroke="#231f20" stroke-width="1.3"/>
<path d="M977.8,649.2 L990.8,642.8 L1003.2,650.4 L990.2,656.8 Z" fill="#fff" stroke="#231f20" stroke-width="1.7" stroke-linejoin="round" stroke-linecap="round" />
<path d="M977.8,643.7 L990.8,637.3 L990.8,642.8 L977.8,649.2 Z" fill="#fff" stroke="#231f20" stroke-width="1.7" stroke-linejoin="round" stroke-linecap="round" />
<path d="M990.8,637.3 L1003.2,644.9 L1003.2,650.4 L990.8,642.8 Z" fill="#fff" stroke="#231f20" stroke-width="1.7" stroke-linejoin="round" stroke-linecap="round" />
<path d="M1003.2,644.9 L990.2,651.3 L990.2,656.8 L1003.2,650.4 Z" fill="#fff" stroke="#231f20" stroke-width="1.7" stroke-linejoin="round" stroke-linecap="round" />
<path d="M990.2,651.3 L977.8,643.7 L977.8,649.2 L990.2,656.8 Z" fill="#fff" stroke="#231f20" stroke-width="1.7" stroke-linejoin="round" stroke-linecap="round" />
<path d="M977.8,643.7 L990.8,637.3 L1003.2,644.9 L990.2,651.3 Z" fill="#fff" stroke="#231f20" stroke-width="1.7" stroke-linejoin="round" stroke-linecap="round" />
<ellipse cx="990.5" cy="644.3" rx="3.3" ry="3.3" transform="rotate(-26.2 990.5 644.3)" fill="#fff" stroke="#231f20" stroke-width="1.3"/>
<path d="M942.6,865.8 L955.6,859.4 L968.0,867.0 L955.0,873.4 Z" fill="#fff" stroke="#231f20" stroke-width="1.7" stroke-linejoin="round" stroke-linecap="round" />
<path d="M942.6,860.3 L955.6,853.9 L955.6,859.4 L942.6,865.8 Z" fill="#fff" stroke="#231f20" stroke-width="1.7" stroke-linejoin="round" stroke-linecap="round" />
<path d="M955.6,853.9 L968.0,861.5 L968.0,867.0 L955.6,859.4 Z" fill="#fff" stroke="#231f20" stroke-width="1.7" stroke-linejoin="round" stroke-linecap="round" />
<path d="M968.0,861.5 L955.0,867.9 L955.0,873.4 L968.0,867.0 Z" fill="#fff" stroke="#231f20" stroke-width="1.7" stroke-linejoin="round" stroke-linecap="round" />
<path d="M955.0,867.9 L942.6,860.3 L942.6,865.8 L955.0,873.4 Z" fill="#fff" stroke="#231f20" stroke-width="1.7" stroke-linejoin="round" stroke-linecap="round" />
<path d="M942.6,860.3 L955.6,853.9 L968.0,861.5 L955.0,867.9 Z" fill="#fff" stroke="#231f20" stroke-width="1.7" stroke-linejoin="round" stroke-linecap="round" />
<ellipse cx="955.3" cy="860.9" rx="3.3" ry="3.3" transform="rotate(-26.2 955.3 860.9)" fill="#fff" stroke="#231f20" stroke-width="1.3"/>
<path d="M1015.6,860.2 L1026.0,865.4 L1024.4,882.4 L1014.0,877.2 Z" fill="#fff" stroke="#231f20" stroke-width="1.7" stroke-linejoin="round" stroke-linecap="round" />
<path d="M1019.2,858.6 L1029.6,863.8 L1026.0,865.4 L1015.6,860.2 Z" fill="#fff" stroke="#231f20" stroke-width="1.7" stroke-linejoin="round" stroke-linecap="round" />
<path d="M1029.6,863.8 L1028.0,880.8 L1024.4,882.4 L1026.0,865.4 Z" fill="#fff" stroke="#231f20" stroke-width="1.7" stroke-linejoin="round" stroke-linecap="round" />
<path d="M1028.0,880.8 L1017.6,875.6 L1014.0,877.2 L1024.4,882.4 Z" fill="#fff" stroke="#231f20" stroke-width="1.7" stroke-linejoin="round" stroke-linecap="round" />
<path d="M1017.6,875.6 L1019.2,858.6 L1015.6,860.2 L1014.0,877.2 Z" fill="#fff" stroke="#231f20" stroke-width="1.7" stroke-linejoin="round" stroke-linecap="round" />
<path d="M1019.2,858.6 L1029.6,863.8 L1028.0,880.8 L1017.6,875.6 Z" fill="#fff" stroke="#231f20" stroke-width="1.7" stroke-linejoin="round" stroke-linecap="round" />
<ellipse cx="1023.6" cy="869.7" rx="2.6" ry="3.8" transform="rotate(26.6 1023.6 869.7)" fill="#fff" stroke="#231f20" stroke-width="1.3"/>
<path d="M1212.5,795.9 L1222.9,801.1 L1221.3,818.1 L1210.9,812.9 Z" fill="#fff" stroke="#231f20" stroke-width="1.7" stroke-linejoin="round" stroke-linecap="round" />
<path d="M1216.1,794.3 L1226.5,799.5 L1222.9,801.1 L1212.5,795.9 Z" fill="#fff" stroke="#231f20" stroke-width="1.7" stroke-linejoin="round" stroke-linecap="round" />
<path d="M1226.5,799.5 L1224.9,816.5 L1221.3,818.1 L1222.9,801.1 Z" fill="#fff" stroke="#231f20" stroke-width="1.7" stroke-linejoin="round" stroke-linecap="round" />
<path d="M1224.9,816.5 L1214.5,811.3 L1210.9,812.9 L1221.3,818.1 Z" fill="#fff" stroke="#231f20" stroke-width="1.7" stroke-linejoin="round" stroke-linecap="round" />
<path d="M1214.5,811.3 L1216.1,794.3 L1212.5,795.9 L1210.9,812.9 Z" fill="#fff" stroke="#231f20" stroke-width="1.7" stroke-linejoin="round" stroke-linecap="round" />
<path d="M1216.1,794.3 L1226.5,799.5 L1224.9,816.5 L1214.5,811.3 Z" fill="#fff" stroke="#231f20" stroke-width="1.7" stroke-linejoin="round" stroke-linecap="round" />
<ellipse cx="1220.5" cy="805.4" rx="2.6" ry="3.8" transform="rotate(26.6 1220.5 805.4)" fill="#fff" stroke="#231f20" stroke-width="1.3"/>
<ellipse cx="983.6" cy="695.2" rx="5.7" ry="11.0" transform="rotate(94.6 983.6 695.2)" fill="#fff" stroke="#231f20" stroke-width="1.9"/>
<path d="M962.8,673.4 L972.7,694.4 L994.6,696.1 L1007.7,677.0 Z" fill="#fff" stroke="none" stroke-width="0" stroke-linejoin="round" stroke-linecap="round" />
<line x1="962.8" y1="673.4" x2="972.7" y2="694.4" stroke="#231f20" stroke-width="1.9" />
<line x1="994.6" y1="696.1" x2="1007.7" y2="677.0" stroke="#231f20" stroke-width="1.9" />
<line x1="981.6" y1="686.6" x2="981.8" y2="700.8" stroke="#231f20" stroke-width="1.1" />
<line x1="976.5" y1="685.5" x2="981.8" y2="700.8" stroke="#231f20" stroke-width="1.1" />
<line x1="971.0" y1="683.5" x2="976.7" y2="699.3" stroke="#231f20" stroke-width="1.1" />
<line x1="967.3" y1="681.3" x2="976.7" y2="699.3" stroke="#231f20" stroke-width="1.1" />
<line x1="964.2" y1="678.1" x2="973.4" y2="696.7" stroke="#231f20" stroke-width="1.1" />
<line x1="963.0" y1="675.4" x2="973.4" y2="696.7" stroke="#231f20" stroke-width="1.1" />
<line x1="963.1" y1="672.0" x2="972.8" y2="693.7" stroke="#231f20" stroke-width="1.1" />
<line x1="964.5" y1="669.5" x2="972.8" y2="693.7" stroke="#231f20" stroke-width="1.1" />
<line x1="967.9" y1="666.8" x2="975.1" y2="691.1" stroke="#231f20" stroke-width="1.1" />
<line x1="971.7" y1="665.1" x2="975.1" y2="691.1" stroke="#231f20" stroke-width="1.1" />
<line x1="977.3" y1="663.8" x2="979.8" y2="689.6" stroke="#231f20" stroke-width="1.1" />
<line x1="982.4" y1="663.4" x2="979.8" y2="689.6" stroke="#231f20" stroke-width="1.1" />
<line x1="988.9" y1="663.9" x2="985.4" y2="689.7" stroke="#231f20" stroke-width="1.1" />
<line x1="994.0" y1="664.9" x2="985.4" y2="689.7" stroke="#231f20" stroke-width="1.1" />
<line x1="999.5" y1="667.0" x2="990.6" y2="691.2" stroke="#231f20" stroke-width="1.1" />
<line x1="1003.1" y1="669.2" x2="990.6" y2="691.2" stroke="#231f20" stroke-width="1.1" />
<line x1="1006.2" y1="672.3" x2="993.9" y2="693.8" stroke="#231f20" stroke-width="1.1" />
<line x1="1007.5" y1="675.1" x2="993.9" y2="693.8" stroke="#231f20" stroke-width="1.1" />
<line x1="1007.4" y1="678.4" x2="994.5" y2="696.8" stroke="#231f20" stroke-width="1.1" />
<line x1="1005.9" y1="681.0" x2="994.5" y2="696.8" stroke="#231f20" stroke-width="1.1" />
<line x1="1002.6" y1="683.7" x2="992.1" y2="699.4" stroke="#231f20" stroke-width="1.1" />
<line x1="998.8" y1="685.4" x2="992.1" y2="699.4" stroke="#231f20" stroke-width="1.1" />
<line x1="993.1" y1="686.7" x2="987.5" y2="700.8" stroke="#231f20" stroke-width="1.1" />
<line x1="988.0" y1="687.0" x2="987.5" y2="700.8" stroke="#231f20" stroke-width="1.1" />
<ellipse cx="985.2" cy="675.2" rx="11.7" ry="22.5" transform="rotate(94.6 985.2 675.2)" fill="#fff" stroke="#231f20" stroke-width="1.9"/>
<ellipse cx="985.2" cy="675.2" rx="2.9" ry="5.5" transform="rotate(94.6 985.2 675.2)" fill="#fff" stroke="#231f20" stroke-width="1.3"/>
<ellipse cx="979.1" cy="712.8" rx="2.6" ry="6.6" transform="rotate(98.3 979.1 712.8)" fill="#fff" stroke="#231f20" stroke-width="1.9"/>
<path d="M972.6,711.9 L960.6,793.8 L973.7,795.8 L985.7,713.8 Z" fill="#fff" stroke="none" stroke-width="0" stroke-linejoin="round" stroke-linecap="round" />
<line x1="972.6" y1="711.9" x2="960.6" y2="793.8" stroke="#231f20" stroke-width="1.9" />
<line x1="985.7" y1="713.8" x2="973.7" y2="795.8" stroke="#231f20" stroke-width="1.9" />
<ellipse cx="967.1" cy="794.8" rx="2.6" ry="6.6" transform="rotate(98.3 967.1 794.8)" fill="#fff" stroke="#231f20" stroke-width="1.9"/>
<line x1="966.9" y1="747.1" x2="980.1" y2="749.1" stroke="#231f20" stroke-width="1.4" />
<line x1="965.3" y1="759.9" x2="978.5" y2="761.9" stroke="#231f20" stroke-width="1.4" />
<line x1="971.5" y1="748.1" x2="969.9" y2="760.9" stroke="#231f20" stroke-width="1.2" />
<ellipse cx="961.2" cy="829.7" rx="9.7" ry="23.0" transform="rotate(-85.2 961.2 829.7)" fill="#fff" stroke="#231f20" stroke-width="1.9"/>
<path d="M984.1,831.6 L970.3,811.1 L955.3,809.9 L938.3,827.8 Z" fill="#fff" stroke="none" stroke-width="0" stroke-linejoin="round" stroke-linecap="round" />
<line x1="984.1" y1="831.6" x2="970.3" y2="811.1" stroke="#231f20" stroke-width="1.9" />
<line x1="955.3" y1="809.9" x2="938.3" y2="827.8" stroke="#231f20" stroke-width="1.9" />
<line x1="964.8" y1="820.4" x2="964.0" y2="807.5" stroke="#231f20" stroke-width="1.1" />
<line x1="970.4" y1="821.5" x2="964.0" y2="807.5" stroke="#231f20" stroke-width="1.1" />
<line x1="976.5" y1="823.5" x2="967.8" y2="808.5" stroke="#231f20" stroke-width="1.1" />
<line x1="980.3" y1="825.7" x2="967.8" y2="808.5" stroke="#231f20" stroke-width="1.1" />
<line x1="983.3" y1="828.6" x2="970.0" y2="810.1" stroke="#231f20" stroke-width="1.1" />
<line x1="984.1" y1="831.1" x2="970.0" y2="810.1" stroke="#231f20" stroke-width="1.1" />
<line x1="983.1" y1="834.1" x2="970.0" y2="811.9" stroke="#231f20" stroke-width="1.1" />
<line x1="980.7" y1="836.2" x2="970.0" y2="811.9" stroke="#231f20" stroke-width="1.1" />
<line x1="976.0" y1="838.1" x2="967.6" y2="813.2" stroke="#231f20" stroke-width="1.1" />
<line x1="971.0" y1="839.1" x2="967.6" y2="813.2" stroke="#231f20" stroke-width="1.1" />
<line x1="964.2" y1="839.5" x2="963.8" y2="813.7" stroke="#231f20" stroke-width="1.1" />
<line x1="958.3" y1="839.1" x2="963.8" y2="813.7" stroke="#231f20" stroke-width="1.1" />
<line x1="951.4" y1="837.8" x2="959.6" y2="813.1" stroke="#231f20" stroke-width="1.1" />
<line x1="946.4" y1="836.1" x2="959.6" y2="813.1" stroke="#231f20" stroke-width="1.1" />
<line x1="941.7" y1="833.5" x2="956.5" y2="811.7" stroke="#231f20" stroke-width="1.1" />
<line x1="939.3" y1="831.1" x2="956.5" y2="811.7" stroke="#231f20" stroke-width="1.1" />
<line x1="938.3" y1="828.0" x2="955.3" y2="809.9" stroke="#231f20" stroke-width="1.1" />
<line x1="939.1" y1="825.6" x2="955.3" y2="809.9" stroke="#231f20" stroke-width="1.1" />
<line x1="942.1" y1="823.0" x2="956.6" y2="808.3" stroke="#231f20" stroke-width="1.1" />
<line x1="946.0" y1="821.4" x2="956.6" y2="808.3" stroke="#231f20" stroke-width="1.1" />
<line x1="952.0" y1="820.2" x2="959.8" y2="807.4" stroke="#231f20" stroke-width="1.1" />
<line x1="957.6" y1="819.9" x2="959.8" y2="807.4" stroke="#231f20" stroke-width="1.1" />
<ellipse cx="962.8" cy="810.5" rx="3.1" ry="7.5" transform="rotate(-85.2 962.8 810.5)" fill="#fff" stroke="#231f20" stroke-width="1.9"/>
<ellipse cx="962.8" cy="810.5" rx="1.5" ry="3.5" transform="rotate(-85.2 962.8 810.5)" fill="#fff" stroke="#231f20" stroke-width="1.3"/>
<ellipse cx="1074.1" cy="855.3" rx="7.4" ry="12.0" transform="rotate(-12.8 1074.1 855.3)" fill="#fff" stroke="#231f20" stroke-width="1.9"/>
<path d="M1061.2,880.3 L1076.7,867.0 L1071.4,843.6 L1051.7,838.3 Z" fill="#fff" stroke="none" stroke-width="0" stroke-linejoin="round" stroke-linecap="round" />
<line x1="1061.2" y1="880.3" x2="1076.7" y2="867.0" stroke="#231f20" stroke-width="1.9" />
<line x1="1071.4" y1="843.6" x2="1051.7" y2="838.3" stroke="#231f20" stroke-width="1.9" />
<line x1="1069.9" y1="858.9" x2="1081.6" y2="855.1" stroke="#231f20" stroke-width="1.1" />
<line x1="1070.3" y1="863.9" x2="1081.6" y2="855.1" stroke="#231f20" stroke-width="1.1" />
<line x1="1069.7" y1="869.6" x2="1081.5" y2="861.0" stroke="#231f20" stroke-width="1.1" />
<line x1="1068.4" y1="873.6" x2="1081.5" y2="861.0" stroke="#231f20" stroke-width="1.1" />
<line x1="1065.9" y1="877.5" x2="1079.4" y2="865.4" stroke="#231f20" stroke-width="1.1" />
<line x1="1063.3" y1="879.5" x2="1079.4" y2="865.4" stroke="#231f20" stroke-width="1.1" />
<line x1="1059.6" y1="880.5" x2="1075.8" y2="867.1" stroke="#231f20" stroke-width="1.1" />
<line x1="1056.4" y1="880.0" x2="1075.8" y2="867.1" stroke="#231f20" stroke-width="1.1" />
<line x1="1052.4" y1="877.8" x2="1071.8" y2="865.7" stroke="#231f20" stroke-width="1.1" />
<line x1="1049.5" y1="874.9" x2="1071.8" y2="865.7" stroke="#231f20" stroke-width="1.1" />
<line x1="1046.4" y1="870.2" x2="1068.4" y2="861.4" stroke="#231f20" stroke-width="1.1" />
<line x1="1044.4" y1="865.7" x2="1068.4" y2="861.4" stroke="#231f20" stroke-width="1.1" />
<line x1="1043.0" y1="859.7" x2="1066.5" y2="855.5" stroke="#231f20" stroke-width="1.1" />
<line x1="1042.6" y1="854.7" x2="1066.5" y2="855.5" stroke="#231f20" stroke-width="1.1" />
<line x1="1043.2" y1="849.1" x2="1066.7" y2="849.6" stroke="#231f20" stroke-width="1.1" />
<line x1="1044.5" y1="845.0" x2="1066.7" y2="849.6" stroke="#231f20" stroke-width="1.1" />
<line x1="1047.0" y1="841.2" x2="1068.8" y2="845.2" stroke="#231f20" stroke-width="1.1" />
<line x1="1049.6" y1="839.1" x2="1068.8" y2="845.2" stroke="#231f20" stroke-width="1.1" />
<line x1="1053.3" y1="838.1" x2="1072.3" y2="843.5" stroke="#231f20" stroke-width="1.1" />
<line x1="1056.5" y1="838.6" x2="1072.3" y2="843.5" stroke="#231f20" stroke-width="1.1" />
<line x1="1060.5" y1="840.8" x2="1076.3" y2="845.0" stroke="#231f20" stroke-width="1.1" />
<line x1="1063.5" y1="843.7" x2="1076.3" y2="845.0" stroke="#231f20" stroke-width="1.1" />
<line x1="1066.6" y1="848.4" x2="1079.7" y2="849.2" stroke="#231f20" stroke-width="1.1" />
<line x1="1068.5" y1="852.9" x2="1079.7" y2="849.2" stroke="#231f20" stroke-width="1.1" />
<ellipse cx="1056.5" cy="859.3" rx="13.3" ry="21.5" transform="rotate(-12.8 1056.5 859.3)" fill="#fff" stroke="#231f20" stroke-width="1.9"/>
<ellipse cx="1056.5" cy="859.3" rx="2.5" ry="4.0" transform="rotate(-12.8 1056.5 859.3)" fill="#fff" stroke="#231f20" stroke-width="1.3"/>
<ellipse cx="1153.3" cy="826.5" rx="2.4" ry="5.3" transform="rotate(160.9 1153.3 826.5)" fill="#fff" stroke="#231f20" stroke-width="1.9"/>
<path d="M1151.6,821.5 L1085.9,844.2 L1089.4,854.2 L1155.0,831.5 Z" fill="#fff" stroke="none" stroke-width="0" stroke-linejoin="round" stroke-linecap="round" />
<line x1="1151.6" y1="821.5" x2="1085.9" y2="844.2" stroke="#231f20" stroke-width="1.9" />
<line x1="1155.0" y1="831.5" x2="1089.4" y2="854.2" stroke="#231f20" stroke-width="1.9" />
<ellipse cx="1087.7" cy="849.2" rx="2.4" ry="5.3" transform="rotate(160.9 1087.7 849.2)" fill="#fff" stroke="#231f20" stroke-width="1.9"/>
<line x1="1090.1" y1="846.5" x2="1154.1" y2="824.9" stroke="#231f20" stroke-width="1.0" />
<ellipse cx="1187.7" cy="815.3" rx="12.1" ry="22.0" transform="rotate(164.7 1187.7 815.3)" fill="#fff" stroke="#231f20" stroke-width="1.9"/>
<path d="M1181.9,794.1 L1168.4,813.8 L1171.8,826.4 L1193.5,836.5 Z" fill="#fff" stroke="none" stroke-width="0" stroke-linejoin="round" stroke-linecap="round" />
<line x1="1181.9" y1="794.1" x2="1168.4" y2="813.8" stroke="#231f20" stroke-width="1.9" />
<line x1="1171.8" y1="826.4" x2="1193.5" y2="836.5" stroke="#231f20" stroke-width="1.9" />
<line x1="1175.4" y1="815.9" x2="1166.5" y2="820.3" stroke="#231f20" stroke-width="1.1" />
<line x1="1174.7" y1="810.4" x2="1166.5" y2="820.3" stroke="#231f20" stroke-width="1.1" />
<line x1="1175.0" y1="804.2" x2="1166.4" y2="816.8" stroke="#231f20" stroke-width="1.1" />
<line x1="1176.2" y1="799.9" x2="1166.4" y2="816.8" stroke="#231f20" stroke-width="1.1" />
<line x1="1178.7" y1="796.0" x2="1167.4" y2="814.4" stroke="#231f20" stroke-width="1.1" />
<line x1="1181.4" y1="794.3" x2="1167.4" y2="814.4" stroke="#231f20" stroke-width="1.1" />
<line x1="1185.2" y1="794.0" x2="1169.4" y2="813.8" stroke="#231f20" stroke-width="1.1" />
<line x1="1188.5" y1="795.3" x2="1169.4" y2="813.8" stroke="#231f20" stroke-width="1.1" />
<line x1="1192.5" y1="798.7" x2="1171.5" y2="815.2" stroke="#231f20" stroke-width="1.1" />
<line x1="1195.4" y1="802.7" x2="1171.5" y2="815.2" stroke="#231f20" stroke-width="1.1" />
<line x1="1198.3" y1="808.7" x2="1173.2" y2="818.1" stroke="#231f20" stroke-width="1.1" />
<line x1="1199.9" y1="814.1" x2="1173.2" y2="818.1" stroke="#231f20" stroke-width="1.1" />
<line x1="1200.7" y1="820.8" x2="1174.0" y2="821.7" stroke="#231f20" stroke-width="1.1" />
<line x1="1200.5" y1="825.9" x2="1174.0" y2="821.7" stroke="#231f20" stroke-width="1.1" />
<line x1="1199.0" y1="831.1" x2="1173.5" y2="824.8" stroke="#231f20" stroke-width="1.1" />
<line x1="1197.0" y1="834.3" x2="1173.5" y2="824.8" stroke="#231f20" stroke-width="1.1" />
<line x1="1193.8" y1="836.4" x2="1171.9" y2="826.3" stroke="#231f20" stroke-width="1.1" />
<line x1="1190.6" y1="836.7" x2="1171.9" y2="826.3" stroke="#231f20" stroke-width="1.1" />
<line x1="1186.5" y1="835.0" x2="1169.8" y2="825.9" stroke="#231f20" stroke-width="1.1" />
<line x1="1183.3" y1="832.3" x2="1169.8" y2="825.9" stroke="#231f20" stroke-width="1.1" />
<line x1="1179.7" y1="827.4" x2="1167.8" y2="823.7" stroke="#231f20" stroke-width="1.1" />
<line x1="1177.4" y1="822.5" x2="1167.8" y2="823.7" stroke="#231f20" stroke-width="1.1" />
<ellipse cx="1170.1" cy="820.1" rx="3.6" ry="6.5" transform="rotate(164.7 1170.1 820.1)" fill="#fff" stroke="#231f20" stroke-width="1.9"/>
<ellipse cx="1170.1" cy="820.1" rx="1.9" ry="3.5" transform="rotate(164.7 1170.1 820.1)" fill="#fff" stroke="#231f20" stroke-width="1.3"/>
<path d="M1195.2,906.0 L1190.0,911.2 L1188.9,910.0 L1192.6,903.0 L1192.3,902.6 L1186.8,906.6 L1186.1,904.9 L1190.6,898.5 L1190.5,898.0 L1184.9,900.6 L1184.6,898.5 L1189.8,893.1 L1189.7,892.5 L1184.4,893.4 L1184.6,891.1 L1190.1,886.8 L1190.2,886.2 L1185.4,885.5 L1186.0,883.1 L1191.6,880.2 L1191.8,879.5 L1187.8,877.3 L1188.7,874.8 L1194.1,873.4 L1194.4,872.8 L1191.4,869.1 L1192.7,866.7 L1197.6,866.9 L1198.0,866.3 L1196.1,861.3 L1197.7,859.2 L1201.9,861.0 L1202.4,860.5 L1201.7,854.5 L1203.5,852.6 L1206.8,856.0 L1207.3,855.5 L1207.9,848.8 L1209.8,847.3 L1212.0,852.0 L1212.5,851.7 L1214.3,844.6 L1216.2,843.6 L1217.2,849.4 L1217.7,849.2 L1220.6,842.1 L1222.5,841.7 L1222.2,848.3 L1222.7,848.2 L1226.6,841.4 L1228.3,841.5 L1226.8,848.6 L1227.2,848.7 L1231.9,842.5 L1233.3,843.2 L1230.7,850.4 L1231.0,850.7" fill="#fff" stroke="#231f20" stroke-width="1.6" stroke-linejoin="round" stroke-linecap="round" />
<path d="M1195.2,906.0 L1194.1,905.0 L1193.1,903.8 L1192.2,902.4 L1191.4,900.9 L1190.8,899.3 L1190.3,897.5 L1190.0,895.6 L1189.8,893.6 L1189.7,891.6 L1189.8,889.4 L1190.0,887.2 L1190.4,884.9 L1190.9,882.5 L1191.6,880.2 L1192.3,877.8 L1193.2,875.5 L1194.3,873.1 L1195.4,870.8 L1196.7,868.5 L1198.0,866.3 L1199.5,864.2 L1201.0,862.1 L1202.6,860.2 L1204.3,858.4 L1206.0,856.7 L1207.8,855.1 L1209.6,853.7 L1211.4,852.4 L1213.3,851.3 L1215.1,850.3 L1216.9,849.5 L1218.7,848.9 L1220.5,848.5 L1222.2,848.3 L1223.9,848.2 L1225.5,848.3 L1227.0,848.7 L1228.4,849.2 L1229.8,849.9 L1231.0,850.7" fill="none" stroke="#231f20" stroke-width="1.2" stroke-linejoin="round" stroke-linecap="round" />
<ellipse cx="1220.1" cy="882.3" rx="21.1" ry="36.3" transform="rotate(30.0 1220.1 882.3)" fill="#fff" stroke="#231f20" stroke-width="2.1"/>
<path d="M1209.6,875.9 L1214.8,871.8 L1220.1,878.3 L1225.4,877.1 L1227.1,882.3 L1223.6,888.2 L1230.6,891.7 L1226.0,898.7 L1220.1,892.9 L1216.0,891.7 L1213.7,886.4 L1215.4,882.3 Z" fill="#fff" stroke="#231f20" stroke-width="1.5" stroke-linejoin="round" stroke-linecap="round" />
<path d="M1220.1,878.3 L1216.0,882.3 L1218.9,887.0 L1223.6,888.2" fill="none" stroke="#231f20" stroke-width="1.2" stroke-linejoin="round" stroke-linecap="round" />
<ellipse cx="1268.1" cy="925.6" rx="1.6" ry="3.3" transform="rotate(-124.1 1268.1 925.6)" fill="#fff" stroke="#231f20" stroke-width="1.8"/>
<path d="M1270.8,923.8 L1257.4,903.9 L1251.9,907.6 L1265.4,927.5 Z" fill="#fff" stroke="none" stroke-width="0" stroke-linejoin="round" stroke-linecap="round" />
<line x1="1270.8" y1="923.8" x2="1257.4" y2="903.9" stroke="#231f20" stroke-width="1.8" />
<line x1="1265.4" y1="927.5" x2="1251.9" y2="907.6" stroke="#231f20" stroke-width="1.8" />
<ellipse cx="1254.6" cy="905.8" rx="1.6" ry="3.3" transform="rotate(-124.1 1254.6 905.8)" fill="#fff" stroke="#231f20" stroke-width="1.8"/>
<path d="M641.8,1039.3 L646.7,1032.4 L674.3,1017.6 L682.2,1016.6 L690.0,1021.5 L696.0,1032.4 L700.9,1043.2 L749.2,1072.8 L764.9,1066.8 L773.8,1068.8 L781.7,1076.7 L783.6,1086.6 L777.7,1100.3 L778.7,1116.1 L784.6,1131.9 L795.5,1147.6 L798.4,1157.5 L792.5,1165.4 L774.8,1174.2 L766.9,1184.1 L763.0,1198.9 L764.9,1210.7 L768.9,1216.6 L788.6,1220.5 L793.5,1229.4 L792.5,1244.2 L715.7,1285.6 L599.4,1218.6 L594.5,1206.7 L581.7,1196.9 L574.2,1179.2 L573.8,1167.3 L579.7,1153.5 L589.6,1139.8 L597.4,1131.9 L627.0,1096.4 L630.0,1090.5 L644.7,1077.7 L652.6,1068.8 L651.6,1058.0 L644.7,1051.1 Z" fill="#fff" stroke="#231f20" stroke-width="2.4" stroke-linejoin="round" stroke-linecap="round" />
<ellipse cx="651.0" cy="1049.5" rx="8.5" ry="11.0" transform="rotate(-20.0 651.0 1049.5)" fill="#fff" stroke="#231f20" stroke-width="2.0"/>
<ellipse cx="651.0" cy="1049.5" rx="2.6" ry="3.6" transform="rotate(-20.0 651.0 1049.5)" fill="#fff" stroke="#231f20" stroke-width="1.5"/>
<path d="M658.5,1058.0 L666.4,1055.0 L670.3,1060.9 L678.2,1063.9 L662.5,1072.8 L660.5,1077.7 L667.4,1081.6" fill="none" stroke="#231f20" stroke-width="1.5" stroke-linejoin="round" stroke-linecap="round" />
<path d="M662.5,1082.6 C661.8,1084.3 658.9,1088.9 658.5,1092.5 C658.2,1096.1 658.5,1101.7 660.5,1104.3 C662.5,1106.9 666.7,1108.1 670.3,1108.2 C674.0,1108.4 679.2,1107.1 682.2,1105.3 C685.1,1103.5 687.1,1098.7 688.1,1097.4" fill="none" stroke="#231f20" stroke-width="1.6" stroke-linejoin="round" stroke-linecap="round" />
<path d="M682.2,1077.7 L701.9,1087.5 L696.0,1097.4 L686.1,1092.5" fill="none" stroke="#231f20" stroke-width="1.5" stroke-linejoin="round" stroke-linecap="round" />
<path d="M689.1,1084.6 C686.9,1083.9 680.5,1086.4 678.2,1088.5 C675.9,1090.7 674.8,1095.4 675.3,1097.4 C675.8,1099.4 678.6,1101.2 681.2,1100.3 C683.8,1099.5 689.7,1095.1 691.0,1092.5 C692.3,1089.8 691.2,1085.2 689.1,1084.6 Z" fill="none" stroke="#231f20" stroke-width="1.5" stroke-linejoin="round" stroke-linecap="round" />
<path d="M688.1,1097.4 C687.4,1099.2 684.1,1104.6 684.1,1108.2 C684.1,1111.8 685.1,1116.1 688.1,1119.1 C691.0,1122.0 699.6,1124.8 701.9,1126.0" fill="none" stroke="#231f20" stroke-width="1.6" stroke-linejoin="round" stroke-linecap="round" />
<path d="M701.9,1100.3 L723.5,1093.4 L724.5,1127.9 L717.6,1135.8 L701.9,1126.0" fill="none" stroke="#231f20" stroke-width="1.5" stroke-linejoin="round" stroke-linecap="round" />
<path d="M715.7,1106.3 C713.7,1105.4 708.1,1106.6 705.8,1108.2 C703.5,1109.9 701.7,1114.1 701.9,1116.1 C702.0,1118.1 704.2,1120.5 706.8,1120.0 C709.4,1119.6 716.2,1115.5 717.6,1113.2 C719.1,1110.9 717.6,1107.1 715.7,1106.3 Z" fill="none" stroke="#231f20" stroke-width="1.5" stroke-linejoin="round" stroke-linecap="round" />
<path d="M717.6,1126.0 L717.6,1135.8 L750.1,1149.6" fill="none" stroke="#231f20" stroke-width="1.5" stroke-linejoin="round" stroke-linecap="round" />
<path d="M768.0,1068.3 L733.5,1089.0 L747.1,1111.7 L781.6,1091.0 Z" fill="#fff" stroke="none" stroke-width="0" stroke-linejoin="round" stroke-linecap="round" />
<line x1="768.0" y1="1068.3" x2="733.5" y2="1089.0" stroke="#231f20" stroke-width="2.2" />
<line x1="781.6" y1="1091.0" x2="747.1" y2="1111.7" stroke="#231f20" stroke-width="2.2" />
<ellipse cx="740.3" cy="1100.3" rx="9.5" ry="13.2" transform="rotate(149.0 740.3 1100.3)" fill="#fff" stroke="#231f20" stroke-width="2.2"/>
<ellipse cx="740.3" cy="1100.3" rx="2.6" ry="3.6" transform="rotate(-20.0 740.3 1100.3)" fill="#fff" stroke="#231f20" stroke-width="1.5"/>
<path d="M750.1,1149.6 L774.8,1140.7 L792.5,1165.4" fill="none" stroke="#231f20" stroke-width="1.6" stroke-linejoin="round" stroke-linecap="round" />
<path d="M748.2,1157.5 L750.1,1175.2 L764.9,1184.1" fill="none" stroke="#231f20" stroke-width="1.6" stroke-linejoin="round" stroke-linecap="round" />
<ellipse cx="756.1" cy="1171.7" rx="4.5" ry="6.0" transform="rotate(-20.0 756.1 1171.7)" fill="#fff" stroke="#231f20" stroke-width="1.6"/>
<path d="M774.8,1127.9 L775.8,1140.7 L786.6,1149.6" fill="none" stroke="#231f20" stroke-width="1.4" stroke-linejoin="round" stroke-linecap="round" />
<line x1="751.1" y1="1139.8" x2="752.7" y2="1149.6" stroke="#231f20" stroke-width="3.0" />
<path d="M749.2,1116.1 L750.7,1130.9" fill="none" stroke="#231f20" stroke-width="1.2" stroke-linejoin="round" stroke-linecap="round" />
<path d="M681.9,1116.2 C679.2,1120.6 669.6,1134.4 665.6,1142.8 C661.7,1151.1 659.8,1159.0 658.2,1166.4 C656.6,1173.8 656.4,1183.6 656.0,1187.1" fill="none" stroke="#231f20" stroke-width="1.5" stroke-linejoin="round" stroke-linecap="round" />
<path d="M687.8,1122.1 C685.3,1126.5 676.4,1140.3 673.0,1148.7 C669.6,1157.0 668.3,1166.2 667.1,1172.3 C665.9,1178.5 665.9,1183.4 665.6,1185.6" fill="none" stroke="#231f20" stroke-width="1.3" stroke-linejoin="round" stroke-linecap="round" />
<path d="M749.8,1151.6 C747.6,1155.1 740.2,1164.7 736.5,1172.3 C732.8,1179.9 729.6,1184.4 727.7,1197.4 C725.7,1210.5 725.2,1241.8 724.7,1250.6" fill="none" stroke="#231f20" stroke-width="1.5" stroke-linejoin="round" stroke-linecap="round" />
<path d="M761.7,1178.2 C759.7,1180.2 752.6,1185.1 749.8,1190.0 C747.1,1195.0 745.4,1201.9 745.4,1207.8 C745.4,1213.7 747.6,1221.1 749.8,1225.5 C752.1,1229.9 757.2,1232.9 758.7,1234.4" fill="none" stroke="#231f20" stroke-width="1.5" stroke-linejoin="round" stroke-linecap="round" />
<path d="M773.5,1178.2 C772.1,1180.7 766.8,1188.1 765.4,1193.0 C763.9,1197.9 763.8,1204.1 764.6,1207.8 C765.5,1211.5 769.5,1213.9 770.5,1215.2" fill="none" stroke="#231f20" stroke-width="1.2" stroke-linejoin="round" stroke-linecap="round" />
<path d="M766.1,1218.1 L770.5,1215.2 L779.4,1216.6 L782.4,1222.6" fill="none" stroke="#231f20" stroke-width="1.3" stroke-linejoin="round" stroke-linecap="round" />
<path d="M758.7,1234.4 L766.1,1236.6 L770.5,1231.4" fill="none" stroke="#231f20" stroke-width="1.2" stroke-linejoin="round" stroke-linecap="round" />
<path d="M724.7,1250.6 L760.2,1231.4" fill="none" stroke="#231f20" stroke-width="1.4" stroke-linejoin="round" stroke-linecap="round" />
<path d="M724.7,1250.6 L708.5,1258.0" fill="none" stroke="#231f20" stroke-width="1.3" stroke-linejoin="round" stroke-linecap="round" />
<path d="M707.0,1255.1 L721.8,1249.2" fill="none" stroke="#231f20" stroke-width="1.0" stroke-linejoin="round" stroke-linecap="round" />
<path d="M599.1,1148.7 L642.0,1087.3" fill="none" stroke="#231f20" stroke-width="2.4" stroke-linejoin="round" stroke-linecap="round" />
<path d="M596.9,1150.4 L638.7,1086.9" fill="none" stroke="#231f20" stroke-width="1.1" stroke-linejoin="round" stroke-linecap="round" />
<path d="M601.3,1149.4 L622.8,1129.5 L616.8,1133.9 L622.0,1127.2" fill="none" stroke="#231f20" stroke-width="1.1" stroke-linejoin="round" stroke-linecap="round" />
<path d="M584.3,1147.2 L591.0,1133.9 L628.7,1089.6" fill="none" stroke="#231f20" stroke-width="1.3" stroke-linejoin="round" stroke-linecap="round" />
<path d="M615.4,1165.7 L662.7,1139.8" fill="none" stroke="#231f20" stroke-width="2.8" stroke-linejoin="round" stroke-linecap="round" />
<path d="M617.6,1169.6 L663.8,1142.8 L662.7,1139.8" fill="none" stroke="#231f20" stroke-width="1.2" stroke-linejoin="round" stroke-linecap="round" />
<path d="M620.5,1191.5 L700.3,1205.6 L665.6,1186.3 L656.7,1188.6 L637.5,1180.4 L620.5,1191.5" fill="none" stroke="#231f20" stroke-width="1.5" stroke-linejoin="round" stroke-linecap="round" />
<path d="M622.8,1194.8 L699.6,1208.1 L700.3,1205.6" fill="none" stroke="#231f20" stroke-width="1.2" stroke-linejoin="round" stroke-linecap="round" />
<path d="M634.6,1163.4 C635.8,1165.2 640.5,1170.6 642.0,1173.8 C643.4,1177.0 643.2,1181.2 643.4,1182.7" fill="none" stroke="#231f20" stroke-width="1.2" stroke-linejoin="round" stroke-linecap="round" />
<path d="M642.0,1162.0 C642.7,1163.7 645.8,1168.9 646.4,1172.3 C647.0,1175.8 645.8,1180.9 645.7,1182.7" fill="none" stroke="#231f20" stroke-width="1.1" stroke-linejoin="round" stroke-linecap="round" />
<ellipse cx="595.4" cy="1179.7" rx="22.0" ry="29.5" transform="rotate(-12.0 595.4 1179.7)" fill="#fff" stroke="#231f20" stroke-width="2.3"/>
<ellipse cx="595.4" cy="1180.2" rx="16.5" ry="23.0" transform="rotate(-12.0 595.4 1180.2)" fill="#fff" stroke="#231f20" stroke-width="1.8"/>
<ellipse cx="598.4" cy="1178.2" rx="11.5" ry="18.0" transform="rotate(-12.0 598.4 1178.2)" fill="none" stroke="#231f20" stroke-width="1.3"/>
<ellipse cx="600.9" cy="1177.7" rx="10.5" ry="17.0" transform="rotate(-12.0 600.9 1177.7)" fill="none" stroke="#231f20" stroke-width="1.1"/>
<path d="M598.4,1207.8 L619.8,1202.6" fill="none" stroke="#231f20" stroke-width="1.2" stroke-linejoin="round" stroke-linecap="round" />
<path d="M616.8,1209.3 L616.8,1222.6" fill="none" stroke="#231f20" stroke-width="2.0" stroke-linejoin="round" stroke-linecap="round" />
<path d="M620.5,1210.7 L620.5,1224.0" fill="none" stroke="#231f20" stroke-width="1.2" stroke-linejoin="round" stroke-linecap="round" />
<path d="M627.2,1204.8 L627.2,1229.9" fill="none" stroke="#231f20" stroke-width="1.2" stroke-linejoin="round" stroke-linecap="round" />
<path d="M638.3,1209.3 L638.3,1231.4" fill="none" stroke="#231f20" stroke-width="1.2" stroke-linejoin="round" stroke-linecap="round" />
<path d="M628.7,1204.1 L634.6,1201.9 L638.3,1206.3" fill="none" stroke="#231f20" stroke-width="1.2" stroke-linejoin="round" stroke-linecap="round" />
<line x1="637.8" y1="1214.4" x2="653.8" y2="1222.6" stroke="#231f20" stroke-width="4.2" />
<line x1="637.8" y1="1214.4" x2="653.8" y2="1222.6" stroke="#fff" stroke-width="2.6" stroke-dasharray="0.5 1.3"/>
<path d="M656.0,1188.6 L656.0,1240.3" fill="none" stroke="#231f20" stroke-width="1.2" stroke-linejoin="round" stroke-linecap="round" />
<path d="M665.6,1207.8 L665.6,1239.5" fill="none" stroke="#231f20" stroke-width="1.2" stroke-linejoin="round" stroke-linecap="round" />
<path d="M656.0,1220.3 C656.7,1220.7 658.8,1222.7 660.4,1222.6 C662.0,1222.4 664.7,1220.1 665.6,1219.6" fill="none" stroke="#231f20" stroke-width="1.1" stroke-linejoin="round" stroke-linecap="round" />
<path d="M656.0,1240.3 C656.7,1240.5 658.8,1241.9 660.4,1241.8 C662.0,1241.6 664.7,1239.9 665.6,1239.5" fill="none" stroke="#231f20" stroke-width="1.1" stroke-linejoin="round" stroke-linecap="round" />
<path d="M617.6,1207.8 L712.9,1259.5" fill="none" stroke="#231f20" stroke-width="1.6" stroke-linejoin="round" stroke-linecap="round" />
<path d="M619.8,1225.5 L685.6,1264.7 L686.3,1253.6 L702.6,1262.5 L702.6,1271.3" fill="none" stroke="#231f20" stroke-width="1.4" stroke-linejoin="round" stroke-linecap="round" />
<path d="M622.8,1209.3 L711.4,1256.5" fill="none" stroke="#231f20" stroke-width="1.0" stroke-linejoin="round" stroke-linecap="round" />
<path d="M628.7,1229.9 L652.3,1231.4" fill="none" stroke="#231f20" stroke-width="1.0" stroke-linejoin="round" stroke-linecap="round" />
<path d="M640.5,1234.4 L655.3,1241.0" fill="none" stroke="#231f20" stroke-width="1.1" stroke-linejoin="round" stroke-linecap="round" />
<path d="M686.3,1237.3 C686.1,1235.4 686.8,1232.8 687.8,1231.4 C688.8,1230.0 690.3,1226.3 693.7,1227.0 C697.0,1227.7 710.3,1234.0 712.9,1236.6 C715.5,1239.2 714.7,1244.3 712.9,1246.2 C711.1,1248.1 702.8,1250.6 699.6,1250.6 C696.4,1250.6 691.0,1248.0 689.3,1246.2 C687.5,1244.4 686.5,1239.3 686.3,1237.3 Z" fill="none" stroke="#231f20" stroke-width="1.5" stroke-linejoin="round" stroke-linecap="round" />
<path d="M687.8,1238.1 C689.7,1238.8 695.5,1242.5 699.6,1242.5 C703.7,1242.5 710.1,1238.8 712.2,1238.1" fill="none" stroke="#231f20" stroke-width="1.2" stroke-linejoin="round" stroke-linecap="round" />
<path d="M603.5,1209.3 L608.0,1210.7 L607.2,1214.4 L602.8,1212.2 L603.5,1209.3" fill="none" stroke="#231f20" stroke-width="1.2" stroke-linejoin="round" stroke-linecap="round" />
<ellipse cx="712.2" cy="1271.6" rx="3.0" ry="4.4" transform="rotate(-20.0 712.2 1271.6)" fill="#fff" stroke="#231f20" stroke-width="1.5"/>
<path d="M774.2,1129.5 L776.4,1142.8 L786.8,1148.7" fill="none" stroke="#231f20" stroke-width="1.2" stroke-linejoin="round" stroke-linecap="round" />
<path d="M776.4,1142.8 L773.5,1146.4" fill="none" stroke="#231f20" stroke-width="1.1" stroke-linejoin="round" stroke-linecap="round" />
<ellipse cx="819.0" cy="1050.5" rx="11.8" ry="21.5" transform="rotate(150.0 819.0 1050.5)" fill="#fff" stroke="#231f20" stroke-width="2.3"/>
<path d="M808.3,1031.9 L793.6,1040.4 L815.1,1077.6 L829.8,1069.1 Z" fill="#fff" stroke="none" stroke-width="0" stroke-linejoin="round" stroke-linecap="round" />
<line x1="808.3" y1="1031.9" x2="793.6" y2="1040.4" stroke="#231f20" stroke-width="2.3" />
<line x1="829.8" y1="1069.1" x2="815.1" y2="1077.6" stroke="#231f20" stroke-width="2.3" />
<ellipse cx="804.3" cy="1059.0" rx="11.8" ry="21.5" transform="rotate(150.0 804.3 1059.0)" fill="#fff" stroke="#231f20" stroke-width="2.3"/>
<ellipse cx="804.3" cy="1059.0" rx="10.8" ry="19.6" transform="rotate(-30.0 804.3 1059.0)" fill="none" stroke="#231f20" stroke-width="1.0"/>
<ellipse cx="804.3" cy="1059.0" rx="7.7" ry="14.0" transform="rotate(-30.0 804.3 1059.0)" fill="#fff" stroke="#231f20" stroke-width="1.8"/>
<ellipse cx="804.3" cy="1059.0" rx="6.3" ry="11.5" transform="rotate(-30.0 804.3 1059.0)" fill="none" stroke="#231f20" stroke-width="1.2"/>
<ellipse cx="805.3" cy="1058.5" rx="5.1" ry="9.3" transform="rotate(-30.0 805.3 1058.5)" fill="none" stroke="#231f20" stroke-width="1.4"/>
<path d="M910.6,1002.3 L916.4,1005.1 L917.2,1009.0 L912.4,1010.2 L912.4,1011.0 L917.1,1017.2 L916.1,1020.1 L910.3,1016.9 L909.9,1017.3 L911.7,1024.5 L909.2,1025.3 L904.7,1018.9 L904.0,1018.8 L902.3,1024.3 L899.2,1022.7 L897.7,1015.5 L897.0,1014.9 L892.4,1016.6 L889.9,1013.2 L891.9,1008.0 L891.5,1007.1 L885.8,1004.3 L884.9,1000.4 L889.7,999.2 L889.7,998.4 L885.0,992.2 L886.1,989.4 L891.8,992.5 L892.2,992.1 L890.4,984.9 L893.0,984.1 L897.4,990.5 L898.1,990.6 L899.9,985.2 L903.0,986.8 L904.5,993.9 L905.1,994.5 L909.8,992.9 L912.2,996.3 L910.2,1001.4 Z" fill="#fff" stroke="#231f20" stroke-width="2.0" stroke-linejoin="round" stroke-linecap="round" />
<path d="M899.3,1004.6 L905.7,1005.2 L907.3,1009.1 L902.4,1011.9 L902.5,1012.8 L908.9,1018.2 L908.6,1021.7 L902.0,1019.3 L901.7,1019.9 L905.7,1028.1 L903.6,1029.8 L897.8,1023.1 L897.2,1023.2 L897.3,1031.0 L894.2,1030.3 L891.4,1021.8 L890.8,1021.4 L886.9,1025.9 L884.0,1023.0 L885.3,1016.0 L884.8,1015.3 L878.4,1014.6 L876.8,1010.7 L881.8,1007.9 L881.6,1007.1 L875.2,1001.6 L875.5,998.1 L882.2,1000.5 L882.4,1000.0 L878.4,991.8 L880.5,990.0 L886.3,996.7 L886.9,996.6 L886.8,988.8 L889.9,989.6 L892.7,998.0 L893.4,998.4 L897.2,994.0 L900.2,996.9 L898.8,1003.8 Z" fill="#fff" stroke="#231f20" stroke-width="2.0" stroke-linejoin="round" stroke-linecap="round" />
<line x1="901.2" y1="1008.2" x2="906.6" y2="1007.2" stroke="#231f20" stroke-width="1.1" />
<line x1="902.7" y1="1016.3" x2="908.9" y2="1020.0" stroke="#231f20" stroke-width="1.1" />
<line x1="900.1" y1="1022.0" x2="904.8" y2="1029.0" stroke="#231f20" stroke-width="1.1" />
<line x1="894.4" y1="1023.0" x2="895.8" y2="1030.7" stroke="#231f20" stroke-width="1.1" />
<line x1="887.9" y1="1019.1" x2="885.4" y2="1024.5" stroke="#231f20" stroke-width="1.1" />
<line x1="882.9" y1="1011.7" x2="877.6" y2="1012.7" stroke="#231f20" stroke-width="1.1" />
<line x1="881.5" y1="1003.5" x2="875.3" y2="999.8" stroke="#231f20" stroke-width="1.1" />
<line x1="884.1" y1="997.9" x2="879.4" y2="990.8" stroke="#231f20" stroke-width="1.1" />
<line x1="889.7" y1="996.8" x2="888.3" y2="989.1" stroke="#231f20" stroke-width="1.1" />
<line x1="896.3" y1="1000.7" x2="898.7" y2="995.3" stroke="#231f20" stroke-width="1.1" />
<ellipse cx="887.1" cy="1012.1" rx="9.0" ry="14.5" transform="rotate(-30.0 887.1 1012.1)" fill="#fff" stroke="#231f20" stroke-width="1.8"/>
<ellipse cx="886.1" cy="1012.7" rx="7.8" ry="12.6" transform="rotate(-30.0 886.1 1012.7)" fill="none" stroke="#231f20" stroke-width="1.2"/>
<path d="M879.4,1004.7 L838.4,1029.0 L848.7,1046.5 L889.8,1022.3 Z" fill="#fff" stroke="none" stroke-width="0" stroke-linejoin="round" stroke-linecap="round" />
<line x1="879.4" y1="1004.7" x2="838.4" y2="1029.0" stroke="#231f20" stroke-width="2.2" />
<line x1="889.8" y1="1022.3" x2="848.7" y2="1046.5" stroke="#231f20" stroke-width="2.2" />
<ellipse cx="843.6" cy="1037.7" rx="5.6" ry="10.2" transform="rotate(149.4 843.6 1037.7)" fill="#fff" stroke="#231f20" stroke-width="2.2"/>
<path d="M841.0,1027.4 L841.4,1027.2 L841.8,1027.1 L842.2,1027.0 L842.7,1027.0 L843.2,1027.0 L843.7,1027.1 L844.2,1027.2 L844.8,1027.4 L845.3,1027.7 L845.9,1028.0 L846.4,1028.4 L847.0,1028.8 L847.5,1029.2 L848.1,1029.7 L848.6,1030.3 L849.1,1030.8 L849.6,1031.4 L850.1,1032.1 L850.5,1032.7 L850.9,1033.4 L851.3,1034.1 L851.7,1034.8 L852.0,1035.6 L852.3,1036.3 L852.5,1037.0 L852.7,1037.7 L852.9,1038.5 L853.0,1039.2 L853.1,1039.8 L853.1,1040.5 L853.1,1041.1 L853.0,1041.7 L852.9,1042.3 L852.8,1042.8 L852.6,1043.3 L852.4,1043.8 L852.2,1044.2 L851.9,1044.5 L851.5,1044.8 L851.2,1045.1" fill="none" stroke="#231f20" stroke-width="1.2" stroke-linejoin="round" stroke-linecap="round" />
<ellipse cx="850.2" cy="1026.3" rx="4.0" ry="2.4" transform="rotate(-20.0 850.2 1026.3)" fill="#fff" stroke="#231f20" stroke-width="1.7"/>
<ellipse cx="759.9" cy="1355.3" rx="16.0" ry="9.9" transform="rotate(0.0 759.9 1355.3)" fill="#fff" stroke="#231f20" stroke-width="2.1"/>
<rect x="751.9" y="1316.4" width="16" height="34.9" fill="#fff" stroke="none"/>
<line x1="759.9" y1="1317.4" x2="759.9" y2="1352.3" stroke="#231f20" stroke-width="14.5" stroke-dasharray="1.35 0.95"/>
<path d="M752.7,1352.3 L752.7,1318.4 A7.2,5 0 0 1 767.1,1318.4 L767.1,1352.3" fill="none" stroke="#231f20" stroke-width="2.0"/>
<ellipse cx="759.9" cy="1318.4" rx="7.2" ry="4.6" transform="rotate(0.0 759.9 1318.4)" fill="#fff" stroke="#231f20" stroke-width="1.8"/>
<path d="M752.7,1352.3 A7.2,4 0 0 0 767.1,1352.3" fill="none" stroke="#231f20" stroke-width="1.6"/>
<ellipse cx="823.3" cy="1392.0" rx="16.0" ry="9.9" transform="rotate(0.0 823.3 1392.0)" fill="#fff" stroke="#231f20" stroke-width="2.1"/>
<rect x="815.3" y="1353.0" width="16" height="35.0" fill="#fff" stroke="none"/>
<line x1="823.3" y1="1354.0" x2="823.3" y2="1389.0" stroke="#231f20" stroke-width="14.5" stroke-dasharray="1.35 0.95"/>
<path d="M816.1,1389.0 L816.1,1355.0 A7.2,5 0 0 1 830.5,1355.0 L830.5,1389.0" fill="none" stroke="#231f20" stroke-width="2.0"/>
<ellipse cx="823.3" cy="1355.0" rx="7.2" ry="4.6" transform="rotate(0.0 823.3 1355.0)" fill="#fff" stroke="#231f20" stroke-width="1.8"/>
<path d="M816.1,1389.0 A7.2,4 0 0 0 830.5,1389.0" fill="none" stroke="#231f20" stroke-width="1.6"/>
<ellipse cx="638.3" cy="1424.9" rx="16.0" ry="9.9" transform="rotate(0.0 638.3 1424.9)" fill="#fff" stroke="#231f20" stroke-width="2.1"/>
<rect x="630.3" y="1386.6" width="16" height="34.3" fill="#fff" stroke="none"/>
<line x1="638.3" y1="1387.6" x2="638.3" y2="1421.9" stroke="#231f20" stroke-width="14.5" stroke-dasharray="1.35 0.95"/>
<path d="M631.1,1421.9 L631.1,1388.6 A7.2,5 0 0 1 645.5,1388.6 L645.5,1421.9" fill="none" stroke="#231f20" stroke-width="2.0"/>
<ellipse cx="638.3" cy="1388.6" rx="7.2" ry="4.6" transform="rotate(0.0 638.3 1388.6)" fill="#fff" stroke="#231f20" stroke-width="1.8"/>
<path d="M631.1,1421.9 A7.2,4 0 0 0 645.5,1421.9" fill="none" stroke="#231f20" stroke-width="1.6"/>
<ellipse cx="701.7" cy="1461.6" rx="16.0" ry="9.9" transform="rotate(0.0 701.7 1461.6)" fill="#fff" stroke="#231f20" stroke-width="2.1"/>
<rect x="693.7" y="1423.2" width="16" height="34.4" fill="#fff" stroke="none"/>
<line x1="701.7" y1="1424.2" x2="701.7" y2="1458.6" stroke="#231f20" stroke-width="14.5" stroke-dasharray="1.35 0.95"/>
<path d="M694.5,1458.6 L694.5,1425.2 A7.2,5 0 0 1 708.9,1425.2 L708.9,1458.6" fill="none" stroke="#231f20" stroke-width="2.0"/>
<ellipse cx="701.7" cy="1425.2" rx="7.2" ry="4.6" transform="rotate(0.0 701.7 1425.2)" fill="#fff" stroke="#231f20" stroke-width="1.8"/>
<path d="M694.5,1458.6 A7.2,4 0 0 0 708.9,1458.6" fill="none" stroke="#231f20" stroke-width="1.6"/>
<ellipse cx="490.2" cy="1166.0" rx="1.8" ry="3.9" transform="rotate(90.0 490.2 1166.0)" fill="#fff" stroke="#231f20" stroke-width="1.9"/>
<path d="M486.3,1166.0 L486.3,1189.1 L494.1,1189.1 L494.1,1166.0 Z" fill="#fff" stroke="none" stroke-width="0" stroke-linejoin="round" stroke-linecap="round" />
<line x1="486.3" y1="1166.0" x2="486.3" y2="1189.1" stroke="#231f20" stroke-width="1.9" />
<line x1="494.1" y1="1166.0" x2="494.1" y2="1189.1" stroke="#231f20" stroke-width="1.9" />
<ellipse cx="490.2" cy="1189.1" rx="1.8" ry="3.9" transform="rotate(90.0 490.2 1189.1)" fill="#fff" stroke="#231f20" stroke-width="1.9"/>
<rect x="482.4" y="1153.4" width="15.6" height="14" rx="4.5" fill="#fff" stroke="#231f20" stroke-width="1.9"/>
<path d="M482.4,1156.9 Q490.2,1160.4 498.0,1156.9" fill="none" stroke="#231f20" stroke-width="1.5"/>
<path d="M482.4,1159.9 Q490.2,1163.4 498.0,1159.9" fill="none" stroke="#231f20" stroke-width="1.5"/>
<path d="M482.4,1162.9 Q490.2,1166.4 498.0,1162.9" fill="none" stroke="#231f20" stroke-width="1.5"/>
<path d="M482.4,1165.9 Q490.2,1169.4 498.0,1165.9" fill="none" stroke="#231f20" stroke-width="1.5"/>
<ellipse cx="490.2" cy="1154.9" rx="5.5" ry="2.2" transform="rotate(0.0 490.2 1154.9)" fill="#fff" stroke="#231f20" stroke-width="1.5"/>
<ellipse cx="495.7" cy="1237.4" rx="10.2" ry="20.5" transform="rotate(148.4 495.7 1237.4)" fill="#fff" stroke="#231f20" stroke-width="2.2"/>
<path d="M485.0,1220.0 L442.1,1246.3 L463.6,1281.3 L506.5,1254.9 Z" fill="#fff" stroke="none" stroke-width="0" stroke-linejoin="round" stroke-linecap="round" />
<line x1="485.0" y1="1220.0" x2="442.1" y2="1246.3" stroke="#231f20" stroke-width="2.2" />
<line x1="506.5" y1="1254.9" x2="463.6" y2="1281.3" stroke="#231f20" stroke-width="2.2" />
<ellipse cx="452.9" cy="1263.8" rx="10.2" ry="20.5" transform="rotate(148.4 452.9 1263.8)" fill="#fff" stroke="#231f20" stroke-width="2.2"/>
<ellipse cx="453.9" cy="1263.3" rx="8.8" ry="17.5" transform="rotate(-31.6 453.9 1263.3)" fill="none" stroke="#231f20" stroke-width="1.3"/>
<path d="M499.5,1259.2 L498.8,1259.6 L498.0,1259.8 L497.1,1260.0 L496.3,1260.0 L495.3,1259.9 L494.3,1259.7 L493.3,1259.4 L492.3,1259.0 L491.2,1258.5 L490.2,1257.9 L489.1,1257.1 L488.0,1256.3 L486.9,1255.4 L485.8,1254.4 L484.8,1253.4 L483.8,1252.2 L482.8,1251.0 L481.8,1249.8 L480.9,1248.4 L480.0,1247.1 L479.2,1245.7 L478.4,1244.3 L477.7,1242.9 L477.1,1241.4 L476.6,1240.0 L476.1,1238.6 L475.7,1237.2 L475.4,1235.8 L475.1,1234.5 L475.0,1233.2 L474.9,1231.9 L474.9,1230.8 L475.0,1229.6 L475.2,1228.6 L475.5,1227.6 L475.8,1226.8 L476.3,1226.0 L476.8,1225.3 L477.3,1224.7 L478.0,1224.3" fill="none" stroke="#231f20" stroke-width="1.4" stroke-linejoin="round" stroke-linecap="round" />
<path d="M495.5,1261.7 L494.8,1262.1 L494.0,1262.3 L493.1,1262.5 L492.3,1262.5 L491.3,1262.4 L490.3,1262.2 L489.3,1261.9 L488.3,1261.5 L487.2,1261.0 L486.2,1260.4 L485.1,1259.6 L484.0,1258.8 L482.9,1257.9 L481.8,1256.9 L480.8,1255.9 L479.8,1254.7 L478.8,1253.5 L477.8,1252.3 L476.9,1250.9 L476.0,1249.6 L475.2,1248.2 L474.4,1246.8 L473.7,1245.4 L473.1,1243.9 L472.6,1242.5 L472.1,1241.1 L471.7,1239.7 L471.4,1238.3 L471.1,1237.0 L471.0,1235.7 L470.9,1234.4 L470.9,1233.3 L471.0,1232.1 L471.2,1231.1 L471.5,1230.1 L471.8,1229.3 L472.3,1228.5 L472.8,1227.8 L473.3,1227.2 L474.0,1226.8" fill="none" stroke="#231f20" stroke-width="1.4" stroke-linejoin="round" stroke-linecap="round" />
<ellipse cx="490.7" cy="1226.4" rx="3.5" ry="2.8" transform="rotate(-30.0 490.7 1226.4)" fill="#fff" stroke="#231f20" stroke-width="1.5"/>
<path d="M436.4,1251.7 L446.3,1244.0 L460.6,1242.9" fill="none" stroke="#231f20" stroke-width="1.6" stroke-linejoin="round" stroke-linecap="round" />
<path d="M437.5,1253.9 L450.7,1251.7 L452.9,1245.1" fill="none" stroke="#231f20" stroke-width="1.4" stroke-linejoin="round" stroke-linecap="round" />
<path d="M467.2,1267.1 L488.0,1253.9" fill="none" stroke="#231f20" stroke-width="1.3" stroke-linejoin="round" stroke-linecap="round" />
<path d="M462.8,1275.9 L465.0,1267.1 L467.2,1267.1" fill="none" stroke="#231f20" stroke-width="1.3" stroke-linejoin="round" stroke-linecap="round" />
<ellipse cx="554.2" cy="1199.8" rx="12.4" ry="22.5" transform="rotate(149.9 554.2 1199.8)" fill="#fff" stroke="#231f20" stroke-width="2.3"/>
<path d="M542.9,1180.3 L528.4,1188.7 L551.0,1227.6 L565.5,1219.2 Z" fill="#fff" stroke="none" stroke-width="0" stroke-linejoin="round" stroke-linecap="round" />
<line x1="542.9" y1="1180.3" x2="528.4" y2="1188.7" stroke="#231f20" stroke-width="2.3" />
<line x1="565.5" y1="1219.2" x2="551.0" y2="1227.6" stroke="#231f20" stroke-width="2.3" />
<ellipse cx="539.7" cy="1208.2" rx="12.4" ry="22.5" transform="rotate(149.9 539.7 1208.2)" fill="#fff" stroke="#231f20" stroke-width="2.3"/>
<ellipse cx="539.7" cy="1208.2" rx="11.3" ry="20.5" transform="rotate(-30.0 539.7 1208.2)" fill="none" stroke="#231f20" stroke-width="1.0"/>
<ellipse cx="539.7" cy="1208.2" rx="8.0" ry="14.5" transform="rotate(-30.0 539.7 1208.2)" fill="#fff" stroke="#231f20" stroke-width="1.8"/>
<ellipse cx="539.7" cy="1208.2" rx="6.6" ry="12.0" transform="rotate(-30.0 539.7 1208.2)" fill="none" stroke="#231f20" stroke-width="1.2"/>
<ellipse cx="540.7" cy="1207.7" rx="5.3" ry="9.6" transform="rotate(-30.0 540.7 1207.7)" fill="none" stroke="#231f20" stroke-width="1.4"/>
<path d="M1056.4,259.8 C1056.1,257.5 1057.3,254.1 1058.0,253.0 C1058.8,251.9 1061.7,249.0 1063.7,249.6 C1065.8,250.2 1074.2,255.8 1077.4,258.7 C1080.6,261.6 1089.8,273.5 1093.3,276.9 C1096.9,280.3 1105.7,287.1 1110.4,290.6 C1115.2,294.1 1133.8,306.8 1137.8,310.0 C1141.8,313.1 1143.5,313.3 1148.0,320.2 C1152.5,327.1 1175.3,368.6 1179.9,374.9 C1184.5,381.2 1188.6,379.2 1191.3,379.4 C1194.0,379.6 1200.1,377.9 1205.0,376.7 C1209.8,375.5 1232.4,369.0 1236.9,368.0 C1241.4,367.1 1243.0,366.6 1247.1,368.0 C1251.2,369.5 1269.9,379.8 1275.6,381.7 C1281.3,383.7 1296.6,384.7 1300.6,386.3 C1304.6,387.8 1311.3,394.0 1313.2,396.5 C1315.0,399.1 1317.7,407.6 1317.7,410.2 C1317.7,412.7 1315.7,418.9 1313.2,420.4 C1310.6,422.0 1297.4,423.5 1293.8,425.0 C1290.2,426.4 1281.7,431.4 1279.0,434.1 C1276.3,436.8 1270.3,445.9 1268.7,450.0 C1267.2,454.2 1264.3,466.8 1264.2,472.8 C1264.1,478.9 1266.2,501.3 1267.6,507.0 C1269.1,512.7 1275.6,522.8 1277.9,526.4 C1280.2,529.9 1287.5,537.2 1289.2,540.0 C1290.9,542.8 1293.7,549.5 1293.8,552.6 C1293.9,555.6 1291.8,566.1 1290.4,568.5 C1288.9,570.9 1284.0,575.3 1280.1,575.3 C1276.2,575.4 1257.7,570.8 1253.9,569.0 C1250.2,567.1 1245.9,561.2 1244.8,558.2 C1243.7,555.3 1244.5,545.4 1243.7,541.2 C1242.8,536.9 1239.0,522.6 1236.9,518.4 C1234.7,514.2 1225.6,503.0 1223.2,502.0 C1220.8,501.0 1218.6,510.2 1214.1,508.8 C1209.6,507.4 1184.7,491.4 1181.0,488.8 C1177.4,486.1 1183.8,488.3 1179.9,484.2 C1176.0,480.1 1148.5,454.2 1144.6,450.0 C1140.7,445.9 1145.0,445.3 1143.5,445.0 C1141.9,444.8 1131.4,443.1 1129.8,447.8 C1128.2,452.5 1129.4,484.3 1128.7,489.2 C1127.9,494.1 1124.8,493.8 1123.0,493.8 C1121.1,493.7 1115.5,492.0 1111.6,488.8 C1107.7,485.6 1089.9,467.8 1086.5,463.7 C1083.2,459.6 1080.7,454.1 1080.1,450.0 C1079.5,446.0 1079.4,430.3 1080.8,426.1 C1082.2,422.0 1091.0,414.6 1093.3,411.3 C1095.7,408.0 1101.1,399.5 1102.5,395.4 C1103.8,391.2 1105.9,377.5 1105.9,372.6 C1105.9,367.7 1103.8,354.7 1102.5,349.8 C1101.1,345.0 1096.0,332.4 1093.3,327.0 C1090.7,321.7 1080.8,305.3 1077.4,299.7 C1074.0,294.1 1063.7,278.9 1061.5,274.6 C1059.2,270.4 1056.8,262.1 1056.4,259.8 Z" fill="#fff" stroke="#231f20" stroke-width="2.0" stroke-linejoin="round" stroke-linecap="round" />
<path d="M1044.6,267.6 C1044.2,265.3 1045.4,261.8 1046.2,260.8 C1047.0,259.7 1049.8,256.7 1051.9,257.3 C1054.0,257.9 1062.4,263.5 1065.6,266.4 C1068.7,269.4 1078.0,281.3 1081.5,284.7 C1085.0,288.1 1093.8,294.8 1098.6,298.3 C1103.3,301.9 1121.9,314.5 1125.9,317.7 C1129.9,320.9 1131.7,321.0 1136.2,327.9 C1140.7,334.9 1163.4,376.3 1168.1,382.6 C1172.7,388.9 1176.8,387.0 1179.5,387.2 C1182.1,387.4 1188.3,385.7 1193.1,384.4 C1198.0,383.2 1220.5,376.7 1225.0,375.8 C1229.5,374.9 1231.1,374.3 1235.3,375.8 C1239.4,377.2 1258.0,387.5 1263.7,389.5 C1269.4,391.4 1284.8,392.4 1288.8,394.0 C1292.8,395.6 1299.5,401.7 1301.3,404.3 C1303.1,406.8 1305.9,415.4 1305.9,417.9 C1305.9,420.5 1303.9,426.6 1301.3,428.2 C1298.8,429.8 1285.6,431.3 1282.0,432.7 C1278.3,434.2 1269.8,439.2 1267.2,441.8 C1264.5,444.5 1258.5,453.7 1256.9,457.8 C1255.3,461.9 1252.5,474.5 1252.3,480.6 C1252.2,486.6 1254.3,509.0 1255.8,514.7 C1257.2,520.4 1263.7,530.6 1266.0,534.1 C1268.3,537.6 1275.7,545.0 1277.4,547.8 C1279.1,550.6 1281.8,557.3 1282.0,560.3 C1282.1,563.3 1280.0,573.8 1278.5,576.2 C1277.1,578.7 1272.2,583.0 1268.3,583.1 C1264.4,583.1 1245.9,578.5 1242.1,576.7 C1238.3,574.9 1234.1,569.0 1233.0,566.0 C1231.9,563.0 1232.7,553.2 1231.8,548.9 C1231.0,544.7 1227.2,530.3 1225.0,526.1 C1222.8,521.9 1213.8,510.7 1211.3,509.7 C1208.9,508.7 1206.7,518.0 1202.2,516.6 C1197.7,515.2 1172.8,499.1 1169.2,496.5 C1165.6,493.9 1172.0,496.1 1168.1,492.0 C1164.2,487.8 1136.6,462.0 1132.8,457.8 C1128.9,453.6 1133.2,453.0 1131.6,452.8 C1130.0,452.5 1119.5,450.8 1117.9,455.5 C1116.4,460.2 1117.5,492.1 1116.8,497.0 C1116.1,501.9 1112.9,501.6 1111.1,501.5 C1109.3,501.5 1103.6,499.7 1099.7,496.5 C1095.8,493.3 1078.0,475.6 1074.7,471.5 C1071.3,467.3 1068.9,461.8 1068.3,457.8 C1067.7,453.8 1067.6,438.0 1069.0,433.9 C1070.4,429.7 1079.2,422.3 1081.5,419.1 C1083.8,415.8 1089.3,407.3 1090.6,403.1 C1092.0,399.0 1094.0,385.2 1094.0,380.3 C1094.0,375.5 1092.0,362.4 1090.6,357.6 C1089.3,352.7 1084.2,340.1 1081.5,334.8 C1078.8,329.4 1069.0,313.0 1065.6,307.4 C1062.2,301.9 1051.8,286.6 1049.6,282.4 C1047.4,278.1 1045.0,269.9 1044.6,267.6 Z" fill="#fff" stroke="#231f20" stroke-width="2.3" stroke-linejoin="round" stroke-linecap="round" />
<line x1="1051.9" y1="257.3" x2="1063.7" y2="249.6" stroke="#231f20" stroke-width="1.3" />
<line x1="1065.6" y1="266.4" x2="1077.4" y2="258.7" stroke="#231f20" stroke-width="1.3" />
<line x1="1081.5" y1="284.7" x2="1093.3" y2="276.9" stroke="#231f20" stroke-width="1.3" />
<line x1="1125.9" y1="317.7" x2="1137.8" y2="310.0" stroke="#231f20" stroke-width="1.3" />
<line x1="1136.2" y1="327.9" x2="1148.0" y2="320.2" stroke="#231f20" stroke-width="1.3" />
<line x1="1168.1" y1="382.6" x2="1179.9" y2="374.9" stroke="#231f20" stroke-width="1.3" />
<line x1="1193.1" y1="384.4" x2="1205.0" y2="376.7" stroke="#231f20" stroke-width="1.3" />
<line x1="1235.3" y1="375.8" x2="1247.1" y2="368.0" stroke="#231f20" stroke-width="1.3" />
<line x1="1263.7" y1="389.5" x2="1275.6" y2="381.7" stroke="#231f20" stroke-width="1.3" />
<line x1="1301.3" y1="404.3" x2="1313.2" y2="396.5" stroke="#231f20" stroke-width="1.3" />
<line x1="1305.9" y1="417.9" x2="1317.7" y2="410.2" stroke="#231f20" stroke-width="1.3" />
<line x1="1267.2" y1="441.8" x2="1279.0" y2="434.1" stroke="#231f20" stroke-width="1.3" />
<line x1="1252.3" y1="480.6" x2="1264.2" y2="472.8" stroke="#231f20" stroke-width="1.3" />
<line x1="1266.0" y1="534.1" x2="1277.9" y2="526.4" stroke="#231f20" stroke-width="1.3" />
<line x1="1282.0" y1="560.3" x2="1293.8" y2="552.6" stroke="#231f20" stroke-width="1.3" />
<line x1="1278.5" y1="576.2" x2="1290.4" y2="568.5" stroke="#231f20" stroke-width="1.3" />
<line x1="1268.3" y1="583.1" x2="1280.1" y2="575.3" stroke="#231f20" stroke-width="1.3" />
<path d="M1117.9,455.5 L1131.6,452.8 L1131.6,487.4 L1116.8,497.0 Z" fill="#fff" stroke="#231f20" stroke-width="1.6" stroke-linejoin="round" stroke-linecap="round" />
<ellipse cx="1056.4" cy="272.8" rx="4.0" ry="5.6" transform="rotate(-18.0 1056.4 272.8)" fill="#fff" stroke="#231f20" stroke-width="1.7"/>
<ellipse cx="1069.7" cy="288.8" rx="4.0" ry="5.6" transform="rotate(-18.0 1069.7 288.8)" fill="#fff" stroke="#231f20" stroke-width="1.7"/>
<ellipse cx="1105.4" cy="316.6" rx="4.0" ry="5.6" transform="rotate(-18.0 1105.4 316.6)" fill="#fff" stroke="#231f20" stroke-width="1.7"/>
<ellipse cx="1105.4" cy="343.2" rx="4.0" ry="5.6" transform="rotate(-18.0 1105.4 343.2)" fill="#fff" stroke="#231f20" stroke-width="1.7"/>
<ellipse cx="1117.9" cy="387.2" rx="4.0" ry="5.6" transform="rotate(-18.0 1117.9 387.2)" fill="#fff" stroke="#231f20" stroke-width="1.7"/>
<ellipse cx="1126.6" cy="434.3" rx="4.0" ry="5.6" transform="rotate(-18.0 1126.6 434.3)" fill="#fff" stroke="#231f20" stroke-width="1.7"/>
<ellipse cx="1081.0" cy="446.4" rx="4.0" ry="5.6" transform="rotate(-18.0 1081.0 446.4)" fill="#fff" stroke="#231f20" stroke-width="1.7"/>
<ellipse cx="1081.0" cy="460.1" rx="4.0" ry="5.6" transform="rotate(-18.0 1081.0 460.1)" fill="#fff" stroke="#231f20" stroke-width="1.7"/>
<ellipse cx="1108.8" cy="489.7" rx="4.0" ry="5.6" transform="rotate(-18.0 1108.8 489.7)" fill="#fff" stroke="#231f20" stroke-width="1.7"/>
<ellipse cx="1173.8" cy="433.9" rx="4.0" ry="5.6" transform="rotate(-18.0 1173.8 433.9)" fill="#fff" stroke="#231f20" stroke-width="1.7"/>
<ellipse cx="1173.8" cy="449.8" rx="4.0" ry="5.6" transform="rotate(-18.0 1173.8 449.8)" fill="#fff" stroke="#231f20" stroke-width="1.7"/>
<ellipse cx="1242.1" cy="395.1" rx="4.0" ry="5.6" transform="rotate(-18.0 1242.1 395.1)" fill="#fff" stroke="#231f20" stroke-width="1.7"/>
<ellipse cx="1242.1" cy="422.5" rx="4.0" ry="5.6" transform="rotate(-18.0 1242.1 422.5)" fill="#fff" stroke="#231f20" stroke-width="1.7"/>
<ellipse cx="1229.6" cy="452.1" rx="4.0" ry="5.6" transform="rotate(-18.0 1229.6 452.1)" fill="#fff" stroke="#231f20" stroke-width="1.7"/>
<ellipse cx="1220.5" cy="489.2" rx="4.0" ry="5.6" transform="rotate(-18.0 1220.5 489.2)" fill="#fff" stroke="#231f20" stroke-width="1.7"/>
<ellipse cx="1278.1" cy="409.3" rx="4.0" ry="5.6" transform="rotate(-18.0 1278.1 409.3)" fill="#fff" stroke="#231f20" stroke-width="1.7"/>
<ellipse cx="1289.9" cy="408.1" rx="4.0" ry="5.6" transform="rotate(-18.0 1289.9 408.1)" fill="#fff" stroke="#231f20" stroke-width="1.7"/>
<ellipse cx="1266.0" cy="553.0" rx="4.0" ry="5.6" transform="rotate(-18.0 1266.0 553.0)" fill="#fff" stroke="#231f20" stroke-width="1.7"/>
<ellipse cx="1266.0" cy="567.1" rx="4.0" ry="5.6" transform="rotate(-18.0 1266.0 567.1)" fill="#fff" stroke="#231f20" stroke-width="1.7"/>
<ellipse cx="1238.2" cy="566.0" rx="4.0" ry="5.6" transform="rotate(-18.0 1238.2 566.0)" fill="#fff" stroke="#231f20" stroke-width="1.7"/>
<path d="M1123.6,354.8 L1117.9,362.1 L1120.2,375.8 L1129.3,389.5 L1132.8,399.7 L1124.8,405.4 L1125.9,419.1 L1147.6,448.7 L1156.7,454.4 L1162.4,446.4 L1162.4,410.0 L1145.3,387.2 L1144.1,375.8 L1133.9,362.1 Z" fill="#fff" stroke="#231f20" stroke-width="2.0" stroke-linejoin="round" stroke-linecap="round" />
<path d="M1123.6,354.8 L1128.2,357.6 L1138.5,375.8 L1144.8,389.5 L1160.1,410.0 L1162.4,410.0" fill="none" stroke="#231f20" stroke-width="1.3" stroke-linejoin="round" stroke-linecap="round" />
<path d="M1129.3,389.5 L1138.5,398.6 L1132.8,399.7" fill="none" stroke="#231f20" stroke-width="1.3" stroke-linejoin="round" stroke-linecap="round" />
<path d="M1124.8,405.4 L1137.3,399.7 L1138.5,412.2 L1154.4,435.0 L1156.7,454.4" fill="none" stroke="#231f20" stroke-width="1.3" stroke-linejoin="round" stroke-linecap="round" />
<path d="M1125.9,419.1 L1138.5,412.2" fill="none" stroke="#231f20" stroke-width="1.3" stroke-linejoin="round" stroke-linecap="round" />
<path d="M1186.3,419.1 L1200.0,412.2 L1215.9,408.8 L1225.0,414.5 L1230.7,425.9 L1229.6,432.7 L1218.2,436.2 L1217.0,446.4 L1222.7,466.9 L1218.2,471.5 L1200.0,476.0 L1187.4,466.9 Z" fill="#fff" stroke="#231f20" stroke-width="2.0" stroke-linejoin="round" stroke-linecap="round" />
<path d="M1200.0,412.2 L1201.1,457.8 L1213.6,469.2 L1222.7,466.9" fill="none" stroke="#231f20" stroke-width="1.5" stroke-linejoin="round" stroke-linecap="round" />
<path d="M1187.4,466.9 L1201.1,457.8" fill="none" stroke="#231f20" stroke-width="1.3" stroke-linejoin="round" stroke-linecap="round" />
<path d="M1188.6,422.5 L1200.0,416.8" fill="none" stroke="#231f20" stroke-width="1.2" stroke-linejoin="round" stroke-linecap="round" />
<path d="M1218.2,436.2 L1226.2,433.9 L1230.7,425.9" fill="none" stroke="#231f20" stroke-width="1.2" stroke-linejoin="round" stroke-linecap="round" />
<ellipse cx="1306.3" cy="199.6" rx="8.8" ry="11.0" transform="rotate(143.3 1306.3 199.6)" fill="#fff" stroke="#231f20" stroke-width="2.0"/>
<line x1="1306.3" y1="199.6" x2="1249.0" y2="231.0" stroke="#231f20" stroke-width="10.0"/>
<line x1="1306.3" y1="199.6" x2="1249.0" y2="231.0" stroke="#fff" stroke-width="6.0" stroke-dasharray="0.42 1.5"/>
<ellipse cx="1249.0" cy="231.0" rx="2.8" ry="4.2" transform="rotate(151.3 1249.0 231.0)" fill="#fff" stroke="#231f20" stroke-width="1.7"/>
<ellipse cx="1434.9" cy="275.3" rx="8.8" ry="11.0" transform="rotate(143.5 1434.9 275.3)" fill="#fff" stroke="#231f20" stroke-width="2.0"/>
<line x1="1434.9" y1="275.3" x2="1378.3" y2="306.0" stroke="#231f20" stroke-width="10.0"/>
<line x1="1434.9" y1="275.3" x2="1378.3" y2="306.0" stroke="#fff" stroke-width="6.0" stroke-dasharray="0.42 1.5"/>
<ellipse cx="1378.3" cy="306.0" rx="2.8" ry="4.2" transform="rotate(151.5 1378.3 306.0)" fill="#fff" stroke="#231f20" stroke-width="1.7"/>
<ellipse cx="1306.3" cy="322.6" rx="8.8" ry="11.0" transform="rotate(142.8 1306.3 322.6)" fill="#fff" stroke="#231f20" stroke-width="2.0"/>
<line x1="1306.3" y1="322.6" x2="1250.1" y2="354.0" stroke="#231f20" stroke-width="10.0"/>
<line x1="1306.3" y1="322.6" x2="1250.1" y2="354.0" stroke="#fff" stroke-width="6.0" stroke-dasharray="0.42 1.5"/>
<ellipse cx="1250.1" cy="354.0" rx="2.8" ry="4.2" transform="rotate(150.8 1250.1 354.0)" fill="#fff" stroke="#231f20" stroke-width="1.7"/>
<ellipse cx="1395.0" cy="374.0" rx="8.8" ry="11.0" transform="rotate(143.3 1395.0 374.0)" fill="#fff" stroke="#231f20" stroke-width="2.0"/>
<line x1="1395.0" y1="374.0" x2="1337.7" y2="405.4" stroke="#231f20" stroke-width="10.0"/>
<line x1="1395.0" y1="374.0" x2="1337.7" y2="405.4" stroke="#fff" stroke-width="6.0" stroke-dasharray="0.42 1.5"/>
<ellipse cx="1337.7" cy="405.4" rx="2.8" ry="4.2" transform="rotate(151.3 1337.7 405.4)" fill="#fff" stroke="#231f20" stroke-width="1.7"/>
<path d="M1367.2,660.2 L1373.0,653.6 L1411.1,631.6 L1419.7,633.5 L1427.4,642.1 L1429.3,653.6 L1441.7,646.9 L1449.3,649.7 L1454.1,659.3 L1454.1,670.7 L1472.2,691.7 L1490.4,685.1 L1498.0,687.9 L1504.7,697.5 L1506.6,708.0 L1529.5,697.5 L1537.2,701.3 L1541.9,710.8 L1541.0,724.2 L1537.2,727.1 L1540.0,730.9 L1529.5,743.3 L1526.7,749.0 L1527.6,789.1 L1540.0,783.4 L1547.7,789.1 L1552.4,798.7 L1552.4,810.1 L1477.0,852.1 L1414.0,815.8 L1414.0,826.3 L1403.5,821.6 L1403.5,816.8 L1371.1,798.7 L1368.2,785.3 L1358.6,779.6 L1355.8,770.0 L1359.6,759.5 L1377.7,741.4 L1382.5,722.3 L1377.7,707.0 L1371.1,707.0 L1361.5,703.2 L1359.6,700.3 L1368.2,701.3 Z" fill="#fff" stroke="#231f20" stroke-width="2.3" stroke-linejoin="round" stroke-linecap="round" />
<path d="M1371.1,707.0 L1371.1,676.5 L1385.4,681.2 L1389.2,679.3 L1403.5,687.0 L1406.4,697.5 L1448.4,724.2 L1459.8,733.7 L1463.7,741.4 L1464.6,762.4 L1472.2,764.3 L1475.1,768.1" fill="none" stroke="#231f20" stroke-width="1.6" stroke-linejoin="round" stroke-linecap="round" />
<path d="M1374.3,707.0 L1374.3,674.2 L1385.4,678.4 L1390.1,676.5 L1405.4,684.5 L1408.7,695.9 L1449.9,721.9 L1462.1,732.2 L1465.9,740.4 L1466.9,760.5 L1473.2,762.0" fill="none" stroke="#231f20" stroke-width="1.2" stroke-linejoin="round" stroke-linecap="round" />
<ellipse cx="1381.2" cy="666.9" rx="3.6" ry="5.0" transform="rotate(-20.0 1381.2 666.9)" fill="#fff" stroke="#231f20" stroke-width="1.6"/>
<path d="M1373.0,653.6 C1375.0,653.9 1382.2,653.2 1385.4,655.5 C1388.6,657.7 1390.8,663.7 1392.1,666.9 C1393.3,670.1 1392.8,673.3 1393.0,674.6" fill="none" stroke="#231f20" stroke-width="1.5" stroke-linejoin="round" stroke-linecap="round" />
<path d="M1393.0,674.6 L1412.1,685.1 L1414.0,693.7" fill="none" stroke="#231f20" stroke-width="1.4" stroke-linejoin="round" stroke-linecap="round" />
<path d="M1419.7,659.3 C1421.3,659.6 1423.9,658.3 1429.3,661.2 C1434.7,664.1 1445.0,671.4 1452.2,676.5 C1459.4,681.6 1468.9,689.2 1472.2,691.7" fill="none" stroke="#231f20" stroke-width="1.5" stroke-linejoin="round" stroke-linecap="round" />
<path d="M1414.0,682.2 C1417.2,680.9 1426.7,675.5 1433.1,674.6 C1439.5,673.6 1446.5,674.2 1452.2,676.5 C1457.9,678.7 1464.9,686.0 1467.5,687.9" fill="none" stroke="#231f20" stroke-width="1.3" stroke-linejoin="round" stroke-linecap="round" />
<path d="M1414.0,693.7 C1417.8,692.4 1429.0,686.0 1436.9,686.0 C1444.9,686.0 1457.6,692.4 1461.7,693.7" fill="none" stroke="#231f20" stroke-width="1.3" stroke-linejoin="round" stroke-linecap="round" />
<path d="M1448.4,707.0 L1472.2,691.7" fill="none" stroke="#231f20" stroke-width="1.5" stroke-linejoin="round" stroke-linecap="round" />
<ellipse cx="1457.9" cy="720.4" rx="3.6" ry="5.0" transform="rotate(-20.0 1457.9 720.4)" fill="#fff" stroke="#231f20" stroke-width="1.6"/>
<path d="M1448.4,707.0 C1450.6,707.3 1458.1,706.7 1461.7,708.9 C1465.4,711.2 1468.6,716.6 1470.3,720.4 C1472.1,724.2 1471.9,724.8 1472.2,731.8 C1472.6,738.8 1472.2,757.3 1472.2,762.4" fill="none" stroke="#231f20" stroke-width="1.5" stroke-linejoin="round" stroke-linecap="round" />
<path d="M1482.7,718.5 C1485.3,718.2 1493.2,715.6 1498.0,716.6 C1502.8,717.5 1509.2,722.9 1511.4,724.2" fill="none" stroke="#231f20" stroke-width="1.3" stroke-linejoin="round" stroke-linecap="round" />
<path d="M1475.1,728.0 C1478.3,726.7 1488.2,720.4 1494.2,720.4 C1500.2,720.4 1508.5,726.7 1511.4,728.0" fill="none" stroke="#231f20" stroke-width="1.3" stroke-linejoin="round" stroke-linecap="round" />
<path d="M1537.2,727.1 L1534.3,729.9 L1540.0,730.9" fill="none" stroke="#231f20" stroke-width="1.2" stroke-linejoin="round" stroke-linecap="round" />
<path d="M1434.1,718.5 L1434.1,758.6" fill="none" stroke="#231f20" stroke-width="1.5" stroke-linejoin="round" stroke-linecap="round" />
<path d="M1456.0,737.6 L1456.0,766.2" fill="none" stroke="#231f20" stroke-width="1.5" stroke-linejoin="round" stroke-linecap="round" />
<path d="M1436.9,731.8 C1438.2,733.1 1441.5,738.4 1444.6,739.5 C1447.6,740.6 1453.3,738.7 1455.1,738.5" fill="none" stroke="#231f20" stroke-width="1.4" stroke-linejoin="round" stroke-linecap="round" />
<path d="M1434.1,758.6 C1435.5,759.8 1439.3,764.9 1442.6,766.2 C1446.0,767.5 1452.2,766.2 1454.1,766.2" fill="none" stroke="#231f20" stroke-width="2.2" stroke-linejoin="round" stroke-linecap="round" />
<path d="M1373.9,768.1 L1434.1,738.5" fill="none" stroke="#231f20" stroke-width="1.4" stroke-linejoin="round" stroke-linecap="round" />
<path d="M1375.8,775.8 L1434.1,748.1" fill="none" stroke="#231f20" stroke-width="1.2" stroke-linejoin="round" stroke-linecap="round" />
<path d="M1411.1,766.2 L1434.1,754.7" fill="none" stroke="#231f20" stroke-width="1.2" stroke-linejoin="round" stroke-linecap="round" />
<path d="M1371.1,798.7 L1374.9,788.2 L1368.2,785.3" fill="none" stroke="#231f20" stroke-width="1.4" stroke-linejoin="round" stroke-linecap="round" />
<path d="M1375.8,798.7 L1410.2,768.1 L1441.7,783.4 L1406.4,807.3 L1406.4,815.8 L1403.5,816.8" fill="none" stroke="#231f20" stroke-width="1.4" stroke-linejoin="round" stroke-linecap="round" />
<path d="M1406.4,807.3 L1461.7,838.8 L1463.7,824.4 L1472.2,822.5" fill="none" stroke="#231f20" stroke-width="1.6" stroke-linejoin="round" stroke-linecap="round" />
<path d="M1408.3,811.1 L1460.8,841.6" fill="none" stroke="#231f20" stroke-width="1.2" stroke-linejoin="round" stroke-linecap="round" />
<path d="M1371.1,798.7 L1403.5,816.8" fill="none" stroke="#231f20" stroke-width="1.2" stroke-linejoin="round" stroke-linecap="round" />
<path d="M1374.3,788.2 L1403.5,812.0 L1405.4,808.2" fill="none" stroke="#231f20" stroke-width="1.3" stroke-linejoin="round" stroke-linecap="round" />
<path d="M1412.1,770.0 L1413.1,777.7" fill="none" stroke="#231f20" stroke-width="1.2" stroke-linejoin="round" stroke-linecap="round" />
<path d="M1457.9,766.2 L1457.9,775.8 L1482.7,791.0" fill="none" stroke="#231f20" stroke-width="1.3" stroke-linejoin="round" stroke-linecap="round" />
<path d="M1387.3,708.9 C1388.4,711.2 1393.8,716.9 1394.0,722.3 C1394.1,727.7 1392.4,735.0 1388.2,741.4 C1384.1,747.7 1372.3,757.3 1369.1,760.5" fill="none" stroke="#231f20" stroke-width="1.3" stroke-linejoin="round" stroke-linecap="round" />
<path d="M1395.9,712.7 C1396.5,714.8 1400.0,719.9 1399.7,725.2 C1399.4,730.4 1398.4,737.6 1394.0,744.2 C1389.5,750.9 1376.5,761.8 1373.0,765.3" fill="none" stroke="#231f20" stroke-width="1.3" stroke-linejoin="round" stroke-linecap="round" />
<path d="M1377.7,707.0 C1379.0,707.0 1382.8,706.4 1385.4,707.0 C1387.9,707.7 1391.7,710.2 1393.0,710.8" fill="none" stroke="#231f20" stroke-width="1.2" stroke-linejoin="round" stroke-linecap="round" />
<ellipse cx="1365.3" cy="772.9" rx="3.4" ry="5.0" transform="rotate(-20.0 1365.3 772.9)" fill="#fff" stroke="#231f20" stroke-width="1.6"/>
<path d="M1475.1,768.1 C1477.7,767.6 1485.6,764.3 1490.4,765.3 C1495.2,766.2 1500.4,769.9 1503.7,773.8 C1507.1,777.8 1510.6,783.4 1510.4,789.1 C1510.3,794.8 1507.4,801.8 1502.8,808.2 C1498.2,814.6 1488.2,823.3 1482.7,827.3 C1477.3,831.3 1472.4,831.3 1470.3,832.1" fill="none" stroke="#231f20" stroke-width="1.5" stroke-linejoin="round" stroke-linecap="round" />
<path d="M1482.7,771.9 C1485.0,772.6 1492.9,772.9 1496.1,775.8 C1499.3,778.6 1502.0,784.0 1501.8,789.1 C1501.7,794.2 1499.3,800.7 1495.2,806.3 C1491.0,811.9 1480.0,819.8 1477.0,822.5" fill="none" stroke="#231f20" stroke-width="1.2" stroke-linejoin="round" stroke-linecap="round" />
<path d="M1478.9,770.0 C1481.3,770.2 1488.8,768.1 1493.2,771.0 C1497.7,773.8 1504.7,781.2 1505.7,787.2 C1506.6,793.3 1503.4,800.9 1499.0,807.3 C1494.5,813.6 1482.3,822.4 1478.9,825.4" fill="none" stroke="#231f20" stroke-width="1.2" stroke-linejoin="round" stroke-linecap="round" />
<path d="M1489.4,748.1 C1491.5,748.9 1498.2,749.8 1501.8,752.8 C1505.5,755.9 1509.5,760.8 1511.4,766.2 C1513.3,771.6 1513.0,782.1 1513.3,785.3" fill="none" stroke="#231f20" stroke-width="1.4" stroke-linejoin="round" stroke-linecap="round" />
<ellipse cx="1473.2" cy="835.9" rx="3.6" ry="5.2" transform="rotate(-20.0 1473.2 835.9)" fill="#fff" stroke="#231f20" stroke-width="1.6"/>
<path d="M1463.7,824.4 C1464.9,824.6 1468.4,824.3 1471.3,825.4 C1474.2,826.5 1478.9,828.3 1480.8,831.1 C1482.7,834.0 1482.4,839.7 1482.7,842.6 C1483.1,845.4 1482.7,847.4 1482.7,848.3" fill="none" stroke="#231f20" stroke-width="1.4" stroke-linejoin="round" stroke-linecap="round" />
<path d="M1526.7,750.9 L1520.9,759.5 L1527.6,762.4" fill="none" stroke="#231f20" stroke-width="1.2" stroke-linejoin="round" stroke-linecap="round" />
<path d="M1527.6,789.1 L1526.7,792.0" fill="none" stroke="#231f20" stroke-width="1.2" stroke-linejoin="round" stroke-linecap="round" />
<ellipse cx="1503.7" cy="596.3" rx="7.1" ry="11.5" transform="rotate(150.7 1503.7 596.3)" fill="#fff" stroke="#231f20" stroke-width="2.0"/>
<line x1="1499.2" y1="598.8" x2="1449.3" y2="626.8" stroke="#231f20" stroke-width="10.2"/>
<line x1="1499.2" y1="598.8" x2="1449.3" y2="626.8" stroke="#fff" stroke-width="6.1"/>
<line x1="1499.2" y1="598.8" x2="1449.3" y2="626.8" stroke="#231f20" stroke-width="6.1" stroke-dasharray="1.05 0.85"/>
<ellipse cx="1449.3" cy="626.8" rx="2.9" ry="4.3" transform="rotate(150.7 1449.3 626.8)" fill="#fff" stroke="#231f20" stroke-width="1.7"/>
<ellipse cx="1581.6" cy="649.7" rx="7.1" ry="11.5" transform="rotate(150.1 1581.6 649.7)" fill="#fff" stroke="#231f20" stroke-width="2.0"/>
<line x1="1577.1" y1="652.3" x2="1527.6" y2="680.7" stroke="#231f20" stroke-width="10.2"/>
<line x1="1577.1" y1="652.3" x2="1527.6" y2="680.7" stroke="#fff" stroke-width="6.1"/>
<line x1="1577.1" y1="652.3" x2="1527.6" y2="680.7" stroke="#231f20" stroke-width="6.1" stroke-dasharray="1.05 0.85"/>
<ellipse cx="1527.6" cy="680.7" rx="2.9" ry="4.3" transform="rotate(150.1 1527.6 680.7)" fill="#fff" stroke="#231f20" stroke-width="1.7"/>
<path d="M1622.9,439.0 L1678.3,415.0 L1886.4,416.8 L2002.8,483.4 L2025.0,612.9 L1993.8,653.0" fill="none" stroke="#231f20" stroke-width="7.6" stroke-linejoin="round" stroke-linecap="butt"/>
<path d="M1622.9,439.0 L1678.3,415.0 L1886.4,416.8 L2002.8,483.4 L2025.0,612.9 L1993.8,653.0" fill="none" stroke="#fff" stroke-width="3.6" stroke-linejoin="round" stroke-linecap="butt"/>
<ellipse cx="1622.9" cy="439.0" rx="1.8" ry="3.2" transform="rotate(-25.0 1622.9 439.0)" fill="#fff" stroke="#231f20" stroke-width="1.5"/>
<ellipse cx="1993.8" cy="653.0" rx="1.9" ry="3.2" transform="rotate(-50.0 1993.8 653.0)" fill="#fff" stroke="#231f20" stroke-width="1.5"/>
<rect x="1954.3" y="361.1" width="19.4" height="49.9" rx="9.6" fill="#fff" stroke="#231f20" stroke-width="2.2"/>
<rect x="1949.5" y="361.8" width="19.1" height="49.6" rx="9.5" fill="#fff" stroke="#231f20" stroke-width="2.2"/>
<line x1="1968.6" y1="379.7" x2="1973.6" y2="376.9" stroke="#231f20" stroke-width="1.2" />
<line x1="1968.6" y1="404.1" x2="1972.6" y2="401.3" stroke="#231f20" stroke-width="1.2" />
<ellipse cx="1958.7" cy="374.7" rx="2.9" ry="3.9" transform="rotate(-20.0 1958.7 374.7)" fill="#fff" stroke="#231f20" stroke-width="1.7"/>
<ellipse cx="1958.7" cy="388.6" rx="2.9" ry="3.9" transform="rotate(-20.0 1958.7 388.6)" fill="#fff" stroke="#231f20" stroke-width="1.7"/>
<ellipse cx="1958.7" cy="399.7" rx="2.9" ry="3.9" transform="rotate(-20.0 1958.7 399.7)" fill="#fff" stroke="#231f20" stroke-width="1.7"/>
<rect x="2049.0" y="415.4" width="19.4" height="49.9" rx="9.6" fill="#fff" stroke="#231f20" stroke-width="2.2"/>
<rect x="2044.2" y="416.1" width="19.1" height="49.6" rx="9.5" fill="#fff" stroke="#231f20" stroke-width="2.2"/>
<line x1="2063.3" y1="434.0" x2="2068.3" y2="431.2" stroke="#231f20" stroke-width="1.2" />
<line x1="2063.3" y1="458.4" x2="2067.3" y2="455.6" stroke="#231f20" stroke-width="1.2" />
<ellipse cx="2053.4" cy="429.0" rx="2.9" ry="3.9" transform="rotate(-20.0 2053.4 429.0)" fill="#fff" stroke="#231f20" stroke-width="1.7"/>
<ellipse cx="2053.4" cy="442.9" rx="2.9" ry="3.9" transform="rotate(-20.0 2053.4 442.9)" fill="#fff" stroke="#231f20" stroke-width="1.7"/>
<ellipse cx="2053.4" cy="454.0" rx="2.9" ry="3.9" transform="rotate(-20.0 2053.4 454.0)" fill="#fff" stroke="#231f20" stroke-width="1.7"/>
<line x1="2000.8" y1="349.8" x2="2021.3" y2="339.8" stroke="#231f20" stroke-width="8.6" stroke-linecap="round"/>
<line x1="2000.8" y1="349.8" x2="2021.3" y2="339.8" stroke="#fff" stroke-width="4.2" stroke-dasharray="0.4 1.9"/>
<ellipse cx="2021.3" cy="339.8" rx="5.8" ry="6.8" transform="rotate(-26.0 2021.3 339.8)" fill="#fff" stroke="#231f20" stroke-width="2.4"/>
<ellipse cx="2022.1" cy="339.4" rx="2.9" ry="3.5" transform="rotate(-26.0 2022.1 339.4)" fill="#888" stroke="#231f20" stroke-width="2.2"/>
<ellipse cx="2000.8" cy="349.8" rx="1.9" ry="3.1" transform="rotate(-26.0 2000.8 349.8)" fill="#fff" stroke="#231f20" stroke-width="1.2"/>
<line x1="2000.8" y1="374.2" x2="2021.3" y2="364.2" stroke="#231f20" stroke-width="8.6" stroke-linecap="round"/>
<line x1="2000.8" y1="374.2" x2="2021.3" y2="364.2" stroke="#fff" stroke-width="4.2" stroke-dasharray="0.4 1.9"/>
<ellipse cx="2021.3" cy="364.2" rx="5.8" ry="6.8" transform="rotate(-26.0 2021.3 364.2)" fill="#fff" stroke="#231f20" stroke-width="2.4"/>
<ellipse cx="2022.1" cy="363.8" rx="2.9" ry="3.5" transform="rotate(-26.0 2022.1 363.8)" fill="#888" stroke="#231f20" stroke-width="2.2"/>
<ellipse cx="2000.8" cy="374.2" rx="1.9" ry="3.1" transform="rotate(-26.0 2000.8 374.2)" fill="#fff" stroke="#231f20" stroke-width="1.2"/>
<line x1="2095.6" y1="404.1" x2="2116.1" y2="394.1" stroke="#231f20" stroke-width="8.6" stroke-linecap="round"/>
<line x1="2095.6" y1="404.1" x2="2116.1" y2="394.1" stroke="#fff" stroke-width="4.2" stroke-dasharray="0.4 1.9"/>
<ellipse cx="2116.1" cy="394.1" rx="5.8" ry="6.8" transform="rotate(-26.0 2116.1 394.1)" fill="#fff" stroke="#231f20" stroke-width="2.4"/>
<ellipse cx="2116.9" cy="393.7" rx="2.9" ry="3.5" transform="rotate(-26.0 2116.9 393.7)" fill="#888" stroke="#231f20" stroke-width="2.2"/>
<ellipse cx="2095.6" cy="404.1" rx="1.9" ry="3.1" transform="rotate(-26.0 2095.6 404.1)" fill="#fff" stroke="#231f20" stroke-width="1.2"/>
<line x1="2095.6" y1="428.5" x2="2116.1" y2="418.5" stroke="#231f20" stroke-width="8.6" stroke-linecap="round"/>
<line x1="2095.6" y1="428.5" x2="2116.1" y2="418.5" stroke="#fff" stroke-width="4.2" stroke-dasharray="0.4 1.9"/>
<ellipse cx="2116.1" cy="418.5" rx="5.8" ry="6.8" transform="rotate(-26.0 2116.1 418.5)" fill="#fff" stroke="#231f20" stroke-width="2.4"/>
<ellipse cx="2116.9" cy="418.1" rx="2.9" ry="3.5" transform="rotate(-26.0 2116.9 418.1)" fill="#888" stroke="#231f20" stroke-width="2.2"/>
<ellipse cx="2095.6" cy="428.5" rx="1.9" ry="3.1" transform="rotate(-26.0 2095.6 428.5)" fill="#fff" stroke="#231f20" stroke-width="1.2"/>
<rect x="1980.0" y="364.9" width="14" height="13" rx="4.5" transform="rotate(-25 1987.0 371.4)" fill="#231f20"/>
<line x1="1983.0" y1="371.4" x2="1993.0" y2="371.4" transform="rotate(-25 1987.0 371.4)" stroke="#fff" stroke-width="7.5" stroke-dasharray="0.4 2.1"/>
<ellipse cx="1983.2" cy="373.2" rx="2.4" ry="3.6" transform="rotate(-25.0 1983.2 373.2)" fill="#fff" stroke="#231f20" stroke-width="1.2"/>
<rect x="2074.7" y="419.2" width="14" height="13" rx="4.5" transform="rotate(-25 2081.7 425.7)" fill="#231f20"/>
<line x1="2077.7" y1="425.7" x2="2087.7" y2="425.7" transform="rotate(-25 2081.7 425.7)" stroke="#fff" stroke-width="7.5" stroke-dasharray="0.4 2.1"/>
<ellipse cx="2077.9" cy="427.5" rx="2.4" ry="3.6" transform="rotate(-25.0 2077.9 427.5)" fill="#fff" stroke="#231f20" stroke-width="1.2"/>
<rect x="1949.4" y="640.3" width="12" height="15" rx="4.5" transform="rotate(90 1955.4 647.8)" fill="#231f20"/>
<line x1="1952.4" y1="647.8" x2="1960.4" y2="647.8" transform="rotate(90 1955.4 647.8)" stroke="#fff" stroke-width="9.5" stroke-dasharray="0.4 2.1"/>
<ellipse cx="1955.4" cy="644.2" rx="2.4" ry="3.6" transform="rotate(90.0 1955.4 644.2)" fill="#fff" stroke="#231f20" stroke-width="1.2"/>
<path d="M1940.2,682.1 L1950.5,669.8 L1960.8,666.8 L1972.5,670.4 L1978.7,680.8 L1976.4,692.4 L1963.4,704.7 L1958.3,702.7 L1955.7,693.7 L1949.2,688.5 L1942.7,689.8 Z" fill="#fff" stroke="#231f20" stroke-width="2.2" stroke-linejoin="round" stroke-linecap="round" />
<path d="M1940.8,683.3 C1942.4,682.9 1946.9,680.5 1950.5,680.8 C1954.1,681.0 1959.3,682.1 1962.1,684.6 C1964.9,687.2 1966.4,694.3 1967.3,696.3" fill="none" stroke="#231f20" stroke-width="1.4" stroke-linejoin="round" stroke-linecap="round" />
<path d="M1942.7,688.5 C1944.5,688.1 1949.9,685.3 1953.1,685.9 C1956.3,686.6 1960.4,689.4 1962.1,692.4 C1963.9,695.4 1963.2,702.1 1963.4,704.0" fill="none" stroke="#231f20" stroke-width="1.3" stroke-linejoin="round" stroke-linecap="round" />
<ellipse cx="1957.2" cy="674.0" rx="5.8" ry="4.4" transform="rotate(-20.0 1957.2 674.0)" fill="#231f20" stroke="#231f20" stroke-width="1.5"/>
<ellipse cx="1944.0" cy="702.7" rx="13.6" ry="13.2" transform="rotate(0.0 1944.0 702.7)" fill="#fff" stroke="#231f20" stroke-width="2.2"/>
<path d="M1932.4,709.2 C1934.1,709.9 1938.8,713.1 1942.7,713.1 C1946.7,713.1 1954.1,709.9 1956.3,709.2" fill="none" stroke="#231f20" stroke-width="1.3" stroke-linejoin="round" stroke-linecap="round" />
<ellipse cx="1937.6" cy="709.9" rx="3.0" ry="3.6" transform="rotate(-20.0 1937.6 709.9)" fill="#fff" stroke="#231f20" stroke-width="1.5"/>
<path d="M1887.8,718.3 C1888.4,715.7 1889.0,712.7 1891.7,710.5 C1894.4,708.3 1900.2,705.5 1904.0,705.3 C1907.7,705.1 1911.3,706.8 1914.3,709.2 C1917.3,711.6 1920.3,715.9 1922.1,719.5 C1923.8,723.2 1924.9,727.5 1924.6,731.2 C1924.4,734.8 1921.2,736.4 1920.8,741.5 C1920.3,746.7 1920.4,754.5 1922.1,762.2 C1923.7,770.0 1929.3,781.6 1930.5,788.1 C1931.6,794.5 1930.8,797.8 1929.2,801.0 C1927.6,804.2 1923.7,806.0 1920.8,807.5 C1917.9,808.9 1914.7,810.4 1911.7,809.8 C1908.7,809.1 1905.5,806.6 1902.7,803.6 C1899.9,800.6 1896.3,796.0 1894.9,791.9 C1893.5,787.9 1893.8,784.0 1894.3,779.0 C1894.7,774.1 1897.9,769.3 1897.5,762.2 C1897.1,755.1 1893.3,742.4 1891.7,736.4 C1890.1,730.3 1888.4,729.0 1887.8,726.0 C1887.1,723.0 1887.1,720.8 1887.8,718.3 Z" fill="#fff" stroke="#231f20" stroke-width="2.3" stroke-linejoin="round" stroke-linecap="round" />
<path d="M1890.4,719.5 C1891.0,717.5 1892.2,714.8 1894.3,713.7 C1896.3,712.7 1900.0,711.5 1902.7,713.1 C1905.4,714.7 1908.5,719.5 1910.4,723.4 C1912.4,727.3 1914.4,732.9 1914.3,736.4 C1914.2,739.8 1910.4,739.4 1909.8,744.1 C1909.1,748.9 1909.2,757.7 1910.4,764.8 C1911.6,771.9 1915.6,780.7 1916.9,786.8 C1918.2,792.8 1919.0,797.8 1918.2,801.0 C1917.3,804.2 1914.0,806.2 1911.7,806.2 C1909.5,806.2 1907.0,803.6 1904.6,801.0 C1902.2,798.4 1898.8,794.3 1897.5,790.7 C1896.2,787.0 1896.4,783.8 1896.8,779.0 C1897.3,774.3 1900.5,769.3 1900.1,762.2 C1899.6,755.1 1895.9,742.4 1894.3,736.4 C1892.6,730.3 1891.0,728.8 1890.4,726.0 C1889.7,723.2 1889.7,721.6 1890.4,719.5 Z" fill="none" stroke="#231f20" stroke-width="1.3" stroke-linejoin="round" stroke-linecap="round" />
<ellipse cx="1901.1" cy="728.0" rx="8.2" ry="13.0" transform="rotate(-22.0 1901.1 728.0)" fill="#fff" stroke="#231f20" stroke-width="1.8"/>
<ellipse cx="1902.6" cy="728.5" rx="6.6" ry="11.5" transform="rotate(-22.0 1902.6 728.5)" fill="none" stroke="#231f20" stroke-width="1.2"/>
<ellipse cx="1907.6" cy="791.9" rx="7.6" ry="12.3" transform="rotate(-22.0 1907.6 791.9)" fill="#fff" stroke="#231f20" stroke-width="1.8"/>
<ellipse cx="1909.1" cy="792.4" rx="6.0" ry="10.8" transform="rotate(-22.0 1909.1 792.4)" fill="none" stroke="#231f20" stroke-width="1.2"/>
<ellipse cx="1903.7" cy="760.3" rx="3.2" ry="14.0" transform="rotate(-8.0 1903.7 760.3)" fill="#fff" stroke="#231f20" stroke-width="1.6"/>
<path d="M1914.3,740.9 C1915.1,740.8 1917.6,740.9 1918.8,740.2 C1920.1,739.6 1921.3,737.5 1921.8,737.0" fill="none" stroke="#231f20" stroke-width="1.2" stroke-linejoin="round" stroke-linecap="round" />
<path d="M1911.1,760.3 C1912.0,760.4 1915.1,761.2 1916.9,760.9 C1918.7,760.6 1921.0,758.8 1921.8,758.3" fill="none" stroke="#231f20" stroke-width="1.2" stroke-linejoin="round" stroke-linecap="round" />
<path d="M1916.9,790.7 C1918.2,790.4 1922.5,790.2 1924.6,789.4 C1926.8,788.5 1929.0,786.1 1929.8,785.5" fill="none" stroke="#231f20" stroke-width="1.2" stroke-linejoin="round" stroke-linecap="round" />
<ellipse cx="1950.5" cy="765.8" rx="14.2" ry="13.8" transform="rotate(0.0 1950.5 765.8)" fill="#fff" stroke="#231f20" stroke-width="2.2"/>
<ellipse cx="1942.7" cy="767.4" rx="6.2" ry="8.6" transform="rotate(-15.0 1942.7 767.4)" fill="#fff" stroke="#231f20" stroke-width="1.6"/>
<ellipse cx="1943.7" cy="767.4" rx="4.0" ry="6.0" transform="rotate(-15.0 1943.7 767.4)" fill="none" stroke="#231f20" stroke-width="1.3"/>
<ellipse cx="1331.7" cy="972.4" rx="35.3" ry="56.9" transform="rotate(30.0 1331.7 972.4)" fill="#fff" stroke="#231f20" stroke-width="2.1"/>
<ellipse cx="1332.7" cy="973.0" rx="33.8" ry="54.5" transform="rotate(30.0 1332.7 973.0)" fill="none" stroke="#231f20" stroke-width="1.0"/>
<path d="M1352.4,984.3 L1350.6,987.2 L1352.3,993.6 L1349.8,996.8 L1347.2,999.7 L1344.5,1002.5 L1341.7,1005.0 L1337.6,1001.3 L1335.2,1003.0 L1332.7,1004.4 L1330.3,1005.6 L1327.8,1006.6 L1325.4,1007.3 L1323.0,1007.7 L1320.7,1007.8 L1318.5,1007.7 L1316.4,1007.3 L1314.3,1006.7 L1312.5,1005.8 L1310.7,1004.6 L1304.5,1009.6 L1302.8,1007.6 L1301.3,1005.3 L1300.1,1002.8 L1299.1,1000.1 L1304.1,992.9 L1303.7,990.3 L1303.5,987.6 L1303.5,984.7 L1303.7,981.8 L1304.2,978.7 L1304.9,975.7 L1305.7,972.6 L1306.8,969.5 L1308.0,966.4 L1309.5,963.4 L1311.1,960.5 L1312.8,957.6 L1311.2,951.2 L1313.6,948.1 L1316.2,945.1 L1318.9,942.3 L1321.7,939.8 L1325.8,943.5 L1328.3,941.8 L1330.7,940.4 L1333.2,939.2 L1335.6,938.3 L1338.1,937.6 L1340.4,937.2 L1342.7,937.0 L1345.0,937.1 L1347.1,937.5 L1349.1,938.2 L1351.0,939.1 L1352.7,940.2 L1359.0,935.3 L1360.6,937.2 L1362.1,939.5 L1363.3,942.0 L1364.3,944.7 L1359.3,951.9 L1359.8,954.5 L1360.0,957.3 L1359.9,960.1 L1359.7,963.1 L1359.3,966.1 L1358.6,969.1 L1357.7,972.2 L1356.7,975.3 L1355.4,978.4 L1354.0,981.4 Z" fill="#fff" stroke="#231f20" stroke-width="2.0" stroke-linejoin="round" stroke-linecap="round" />
<path d="M1331.9,1006.5 L1329.4,1007.5 L1327.0,1008.2 L1324.6,1008.6 L1322.3,1008.7 L1320.1,1008.6 L1318.0,1008.2 L1315.9,1007.6 L1314.1,1006.7 L1312.3,1005.5 L1306.1,1010.5 L1304.4,1008.5 L1302.9,1006.2 L1301.7,1003.7 L1300.7,1001.0 L1305.7,993.8 L1305.3,991.2 L1305.1,988.5 L1305.1,985.6 L1305.3,982.7 L1305.8,979.6 L1306.5,976.6 L1307.3,973.5 L1308.4,970.4 L1309.6,967.3 L1311.1,964.3 L1312.7,961.4 L1314.4,958.5 L1312.8,952.1 L1315.2,949.0" fill="none" stroke="#231f20" stroke-width="1.0" stroke-linejoin="round" stroke-linecap="round" />
<ellipse cx="1325.7" cy="938.3" rx="2.3" ry="3.8" transform="rotate(30.0 1325.7 938.3)" fill="#fff" stroke="#231f20" stroke-width="1.5"/>
<line x1="1324.2" y1="940.3" x2="1327.2" y2="936.3" stroke="#231f20" stroke-width="1.0" />
<ellipse cx="1366.2" cy="945.2" rx="2.3" ry="3.8" transform="rotate(30.0 1366.2 945.2)" fill="#fff" stroke="#231f20" stroke-width="1.5"/>
<line x1="1364.7" y1="947.2" x2="1367.7" y2="943.2" stroke="#231f20" stroke-width="1.0" />
<ellipse cx="1298.6" cy="1000.9" rx="2.3" ry="3.8" transform="rotate(30.0 1298.6 1000.9)" fill="#fff" stroke="#231f20" stroke-width="1.5"/>
<line x1="1297.1" y1="1002.9" x2="1300.1" y2="998.9" stroke="#231f20" stroke-width="1.0" />
<ellipse cx="1339.5" cy="1007.8" rx="2.3" ry="3.8" transform="rotate(30.0 1339.5 1007.8)" fill="#fff" stroke="#231f20" stroke-width="1.5"/>
<line x1="1338.0" y1="1009.8" x2="1341.0" y2="1005.8" stroke="#231f20" stroke-width="1.0" />
<ellipse cx="1378.6" cy="994.5" rx="9.0" ry="14.5" transform="rotate(30.0 1378.6 994.5)" fill="#fff" stroke="#231f20" stroke-width="2.0"/>
<ellipse cx="1378.6" cy="994.5" rx="5.1" ry="9.2" transform="rotate(30.0 1378.6 994.5)" fill="#fff" stroke="#231f20" stroke-width="2.0"/>
<ellipse cx="1423.8" cy="1023.4" rx="33.6" ry="56.0" transform="rotate(29.3 1423.8 1023.4)" fill="#fff" stroke="#231f20" stroke-width="2.3"/>
<path d="M1396.4,1072.2 L1424.9,1088.2 L1479.7,990.6 L1451.2,974.6 Z" fill="#fff" stroke="none" stroke-width="0" stroke-linejoin="round" stroke-linecap="round" />
<line x1="1396.4" y1="1072.2" x2="1424.9" y2="1088.2" stroke="#231f20" stroke-width="2.3" />
<line x1="1451.2" y1="974.6" x2="1479.7" y2="990.6" stroke="#231f20" stroke-width="2.3" />
<ellipse cx="1452.3" cy="1039.4" rx="33.6" ry="56.0" transform="rotate(29.3 1452.3 1039.4)" fill="#fff" stroke="#231f20" stroke-width="2.3"/>
<path d="M1485.2,998.3 L1501.6,1007.2 L1506.2,1020.7 L1504.1,1037.9 L1493.8,1060.3 L1481.7,1079.3 L1463.6,1094.5 L1436.9,1094.5 L1430.0,1081.0 L1431.7,1055.2 L1445.5,1024.1 L1466.2,1005.2 Z" fill="#fff" stroke="#231f20" stroke-width="2.2" stroke-linejoin="round" stroke-linecap="round" />
<path d="M1431.7,973.3 L1485.2,998.3" fill="none" stroke="#231f20" stroke-width="2.2" stroke-linejoin="round" stroke-linecap="round" />
<path d="M1406.7,1079.3 L1436.9,1094.5" fill="none" stroke="#231f20" stroke-width="2.2" stroke-linejoin="round" stroke-linecap="round" />
<path d="M1466.2,1005.2 L1485.2,998.3" fill="none" stroke="#231f20" stroke-width="1.3" stroke-linejoin="round" stroke-linecap="round" />
<path d="M1445.5,1024.1 L1408.4,999.1" fill="none" stroke="#231f20" stroke-width="1.3" stroke-linejoin="round" stroke-linecap="round" />
<path d="M1431.7,1055.2 L1392.9,1031.0" fill="none" stroke="#231f20" stroke-width="1.3" stroke-linejoin="round" stroke-linecap="round" />
<path d="M1430.0,1081.0 L1428.3,1082.8" fill="none" stroke="#231f20" stroke-width="1.3" stroke-linejoin="round" stroke-linecap="round" />
<path d="M1466.2,1005.2 L1445.5,1024.1 L1431.7,1055.2 L1430.0,1081.0" fill="none" stroke="#231f20" stroke-width="1.3" stroke-linejoin="round" stroke-linecap="round" />
<path d="M1408.4,999.1 C1407.6,1001.0 1399.4,1005.5 1403.3,1010.3 C1407.2,1015.2 1426.1,1024.7 1431.7,1028.4 C1437.3,1032.2 1436.2,1030.3 1436.9,1032.8 C1437.6,1035.2 1436.9,1040.2 1436.0,1043.1 C1435.2,1046.0 1433.3,1048.7 1431.7,1050.0 C1430.1,1051.3 1427.4,1050.7 1426.6,1050.9" fill="none" stroke="#231f20" stroke-width="1.4" stroke-linejoin="round" stroke-linecap="round" />
<path d="M1405.9,1001.7 C1405.1,1003.4 1397.5,1007.2 1401.6,1012.1 C1405.6,1017.0 1424.7,1027.0 1430.0,1031.0 C1435.3,1035.1 1433.2,1033.6 1433.4,1036.2 C1433.7,1038.8 1432.0,1044.8 1431.7,1046.6" fill="none" stroke="#231f20" stroke-width="1.1" stroke-linejoin="round" stroke-linecap="round" />
<path d="M1397.2,1033.6 C1396.8,1035.5 1390.1,1039.7 1394.7,1044.8 C1399.3,1050.0 1419.8,1061.4 1424.8,1064.7" fill="none" stroke="#231f20" stroke-width="1.4" stroke-linejoin="round" stroke-linecap="round" />
<path d="M1399.0,1032.8 L1426.6,1050.0" fill="none" stroke="#231f20" stroke-width="1.1" stroke-linejoin="round" stroke-linecap="round" />
<path d="M1433.4,977.6 L1474.8,997.4 L1476.6,1000.9" fill="none" stroke="#231f20" stroke-width="1.2" stroke-linejoin="round" stroke-linecap="round" />
<path d="M1436.0,975.9 L1480.0,996.6" fill="none" stroke="#231f20" stroke-width="1.2" stroke-linejoin="round" stroke-linecap="round" />
<line x1="1408.4" y1="1079.3" x2="1433.4" y2="1092.2" stroke="#231f20" stroke-width="3.0" />
<ellipse cx="1468.3" cy="1051.7" rx="22.2" ry="37.0" transform="rotate(30.0 1468.3 1051.7)" fill="#fff" stroke="#231f20" stroke-width="1.5"/>
<ellipse cx="1470.3" cy="1052.9" rx="20.7" ry="34.5" transform="rotate(30.0 1470.3 1052.9)" fill="none" stroke="#231f20" stroke-width="1.2"/>
<ellipse cx="1473.3" cy="1054.7" rx="19.2" ry="32.0" transform="rotate(30.0 1473.3 1054.7)" fill="#fff" stroke="#231f20" stroke-width="1.2"/>
<path d="M1464.6,1075.5 L1475.3,1080.6 L1495.8,1038.3 L1485.1,1033.2 Z" fill="#fff" stroke="none" stroke-width="0" stroke-linejoin="round" stroke-linecap="round" />
<line x1="1464.6" y1="1075.5" x2="1475.3" y2="1080.6" stroke="#231f20" stroke-width="1.6" />
<line x1="1485.1" y1="1033.2" x2="1495.8" y2="1038.3" stroke="#231f20" stroke-width="1.6" />
<ellipse cx="1485.5" cy="1059.5" rx="14.1" ry="23.5" transform="rotate(25.8 1485.5 1059.5)" fill="#fff" stroke="#231f20" stroke-width="1.6"/>
<ellipse cx="1486.0" cy="1059.5" rx="10.5" ry="17.5" transform="rotate(30.0 1486.0 1059.5)" fill="#fff" stroke="#231f20" stroke-width="1.5"/>
<ellipse cx="1486.0" cy="1059.5" rx="7.5" ry="12.5" transform="rotate(30.0 1486.0 1059.5)" fill="none" stroke="#231f20" stroke-width="1.4"/>
<ellipse cx="1486.0" cy="1059.5" rx="5.4" ry="9.0" transform="rotate(30.0 1486.0 1059.5)" fill="#fff" stroke="#231f20" stroke-width="1.4"/>
<path d="M1489.8,1052.7 L1489.9,1053.2 L1490.0,1053.7 L1490.0,1054.2 L1490.0,1054.7 L1490.0,1055.3 L1489.9,1055.9 L1489.8,1056.5 L1489.7,1057.1 L1489.5,1057.7 L1489.3,1058.3 L1489.1,1058.9 L1488.9,1059.5 L1488.6,1060.1 L1488.3,1060.7 L1487.9,1061.3 L1487.5,1061.8 L1487.1,1062.4 L1486.7,1062.9 L1486.3,1063.4 L1485.9,1063.8 L1485.4,1064.2 L1485.0,1064.6 L1484.5,1065.0 L1484.0,1065.3 L1483.5,1065.6 L1483.0,1065.8 L1482.6,1066.0 L1482.1,1066.2 L1481.6,1066.3 L1481.2,1066.3 L1480.7,1066.3 L1480.3,1066.3 L1479.9,1066.2 L1479.5,1066.1 L1479.1,1065.9 L1478.8,1065.7 L1478.5,1065.5 L1478.2,1065.2 L1477.9,1064.9 L1477.7,1064.5" fill="none" stroke="#231f20" stroke-width="1.1" stroke-linejoin="round" stroke-linecap="round" />
<ellipse cx="1536.5" cy="1086.8" rx="20.4" ry="36.5" transform="rotate(30.0 1536.5 1086.8)" fill="#fff" stroke="#231f20" stroke-width="2.3"/>
<path d="M1518.3,1118.4 L1528.6,1124.4 L1565.1,1061.1 L1554.8,1055.1 Z" fill="#fff" stroke="none" stroke-width="0" stroke-linejoin="round" stroke-linecap="round" />
<line x1="1518.3" y1="1118.4" x2="1528.6" y2="1124.4" stroke="#231f20" stroke-width="2.3" />
<line x1="1554.8" y1="1055.1" x2="1565.1" y2="1061.1" stroke="#231f20" stroke-width="2.3" />
<ellipse cx="1546.9" cy="1092.8" rx="20.4" ry="36.5" transform="rotate(30.0 1546.9 1092.8)" fill="#fff" stroke="#231f20" stroke-width="2.3"/>
<ellipse cx="1546.9" cy="1092.8" rx="19.6" ry="35.0" transform="rotate(30.0 1546.9 1092.8)" fill="none" stroke="#231f20" stroke-width="1.0"/>
<ellipse cx="1546.9" cy="1092.8" rx="16.5" ry="29.5" transform="rotate(30.0 1546.9 1092.8)" fill="none" stroke="#231f20" stroke-width="1.2"/>
<ellipse cx="1546.9" cy="1092.8" rx="14.8" ry="26.5" transform="rotate(30.0 1546.9 1092.8)" fill="#fff" stroke="#231f20" stroke-width="2.3"/>
<clipPath id="cp1546_1092"><ellipse cx="1546.9" cy="1092.8" rx="14.8" ry="26.5" transform="rotate(30 1546.9 1092.8)"/></clipPath>
<g clip-path="url(#cp1546_1092)">
<ellipse cx="1537.4" cy="1087.3" rx="14.8" ry="26.5" transform="rotate(30.0 1537.4 1087.3)" fill="none" stroke="#231f20" stroke-width="1.6"/>
</g>
<ellipse cx="1546.9" cy="1092.8" rx="13.7" ry="24.5" transform="rotate(30.0 1546.9 1092.8)" fill="none" stroke="#231f20" stroke-width="1.6"/>
<ellipse cx="1612.4" cy="1127.2" rx="24.0" ry="40.0" transform="rotate(30.0 1612.4 1127.2)" fill="#fff" stroke="#231f20" stroke-width="2.2"/>
<path d="M1592.4,1161.8 L1619.3,1177.3 L1659.3,1108.0 L1632.4,1092.5 Z" fill="#fff" stroke="none" stroke-width="0" stroke-linejoin="round" stroke-linecap="round" />
<line x1="1592.4" y1="1161.8" x2="1619.3" y2="1177.3" stroke="#231f20" stroke-width="2.2" />
<line x1="1632.4" y1="1092.5" x2="1659.3" y2="1108.0" stroke="#231f20" stroke-width="2.2" />
<ellipse cx="1639.3" cy="1142.7" rx="24.0" ry="40.0" transform="rotate(30.0 1639.3 1142.7)" fill="#fff" stroke="#231f20" stroke-width="2.2"/>
<path d="M1611.5,1172.8 L1609.9,1171.8 L1608.5,1170.5 L1607.2,1169.1 L1606.1,1167.4 L1605.1,1165.6 L1604.2,1163.6 L1603.6,1161.5 L1603.1,1159.2 L1602.8,1156.7 L1602.7,1154.2 L1602.7,1151.6 L1602.9,1148.8 L1603.3,1146.1 L1603.9,1143.2 L1604.6,1140.4 L1605.5,1137.5 L1606.6,1134.6 L1607.8,1131.8 L1609.2,1128.9 L1610.7,1126.2 L1612.3,1123.5 L1614.1,1120.9 L1616.0,1118.4 L1617.9,1116.1 L1619.9,1113.8 L1622.1,1111.8 L1624.2,1109.9 L1626.4,1108.1 L1628.7,1106.6 L1630.9,1105.2 L1633.2,1104.1 L1635.5,1103.1 L1637.7,1102.4 L1639.9,1101.9 L1642.0,1101.6 L1644.1,1101.5 L1646.1,1101.7 L1648.0,1102.1 L1649.8,1102.7 L1651.5,1103.5" fill="none" stroke="#231f20" stroke-width="1.2" stroke-linejoin="round" stroke-linecap="round" />
<path d="M1607.6,1170.6 L1606.0,1169.5 L1604.6,1168.3 L1603.3,1166.8 L1602.2,1165.2 L1601.2,1163.4 L1600.3,1161.4 L1599.7,1159.2 L1599.2,1156.9 L1598.9,1154.5 L1598.8,1151.9 L1598.8,1149.3 L1599.0,1146.6 L1599.4,1143.8 L1600.0,1141.0 L1600.7,1138.1 L1601.7,1135.2 L1602.7,1132.4 L1603.9,1129.5 L1605.3,1126.7 L1606.8,1123.9 L1608.4,1121.3 L1610.2,1118.7 L1612.1,1116.2 L1614.0,1113.8 L1616.1,1111.6 L1618.2,1109.5 L1620.3,1107.6 L1622.5,1105.9 L1624.8,1104.3 L1627.0,1103.0 L1629.3,1101.8 L1631.6,1100.9 L1633.8,1100.1 L1636.0,1099.6 L1638.1,1099.3 L1640.2,1099.3 L1642.2,1099.5 L1644.1,1099.8 L1645.9,1100.5 L1647.6,1101.3" fill="none" stroke="#231f20" stroke-width="1.2" stroke-linejoin="round" stroke-linecap="round" />
<path d="M1603.7,1168.3 L1602.1,1167.3 L1600.7,1166.0 L1599.4,1164.6 L1598.3,1162.9 L1597.3,1161.1 L1596.4,1159.1 L1595.8,1157.0 L1595.3,1154.7 L1595.0,1152.2 L1594.9,1149.7 L1594.9,1147.1 L1595.1,1144.3 L1595.5,1141.6 L1596.1,1138.7 L1596.8,1135.9 L1597.8,1133.0 L1598.8,1130.1 L1600.0,1127.3 L1601.4,1124.4 L1602.9,1121.7 L1604.6,1119.0 L1606.3,1116.4 L1608.2,1113.9 L1610.1,1111.6 L1612.2,1109.3 L1614.3,1107.3 L1616.4,1105.4 L1618.6,1103.6 L1620.9,1102.1 L1623.1,1100.7 L1625.4,1099.6 L1627.7,1098.6 L1629.9,1097.9 L1632.1,1097.4 L1634.2,1097.1 L1636.3,1097.0 L1638.3,1097.2 L1640.2,1097.6 L1642.0,1098.2 L1643.7,1099.0" fill="none" stroke="#231f20" stroke-width="1.2" stroke-linejoin="round" stroke-linecap="round" />
<path d="M1613.1,1177.4 L1613.9,1185.5 L1619.0,1185.1 L1622.7,1180.4" fill="#fff" stroke="#231f20" stroke-width="1.8" stroke-linejoin="round" stroke-linecap="round" />
<path d="M1613.9,1119.8 L1619.8,1120.5 L1620.5,1125.0 L1614.6,1127.2" fill="none" stroke="#231f20" stroke-width="1.3" stroke-linejoin="round" stroke-linecap="round" />
<ellipse cx="1639.3" cy="1142.7" rx="24.0" ry="40.0" transform="rotate(30.0 1639.3 1142.7)" fill="#fff" stroke="#231f20" stroke-width="2.2"/>
<ellipse cx="1639.3" cy="1142.7" rx="22.2" ry="37.0" transform="rotate(30.0 1639.3 1142.7)" fill="none" stroke="#231f20" stroke-width="1.1"/>
<ellipse cx="1639.3" cy="1142.7" rx="20.4" ry="34.0" transform="rotate(30.0 1639.3 1142.7)" fill="none" stroke="#231f20" stroke-width="1.2"/>
<ellipse cx="1638.3" cy="1142.7" rx="18.0" ry="31.0" transform="rotate(30.0 1638.3 1142.7)" fill="#fff" stroke="#231f20" stroke-width="1.9"/>
<clipPath id="cpinsb"><ellipse cx="1638.3" cy="1142.7" rx="18.0" ry="31" transform="rotate(30 1638.3 1142.7)"/></clipPath>
<g clip-path="url(#cpinsb)">
<ellipse cx="1630.3" cy="1138.7" rx="17.4" ry="30.0" transform="rotate(30.0 1630.3 1138.7)" fill="none" stroke="#231f20" stroke-width="1.4"/>
<ellipse cx="1624.3" cy="1134.7" rx="15.7" ry="27.0" transform="rotate(30.0 1624.3 1134.7)" fill="none" stroke="#231f20" stroke-width="1.4"/>
</g>
<ellipse cx="1686.3" cy="1176.7" rx="5.7" ry="10.3" transform="rotate(27.7 1686.3 1176.7)" fill="#fff" stroke="#231f20" stroke-width="2.2"/>
<path d="M1681.5,1185.8 L1711.0,1201.3 L1720.6,1183.1 L1691.1,1167.6 Z" fill="#fff" stroke="none" stroke-width="0" stroke-linejoin="round" stroke-linecap="round" />
<line x1="1681.5" y1="1185.8" x2="1711.0" y2="1201.3" stroke="#231f20" stroke-width="2.2" />
<line x1="1691.1" y1="1167.6" x2="1720.6" y2="1183.1" stroke="#231f20" stroke-width="2.2" />
<path d="M1716.5,1178.8 L1716.9,1179.1 L1717.2,1179.4 L1717.5,1179.7 L1717.8,1180.1 L1718.0,1180.6 L1718.2,1181.1 L1718.3,1181.6 L1718.4,1182.2 L1718.5,1182.8 L1718.5,1183.4 L1718.5,1184.1 L1718.4,1184.8 L1718.3,1185.5 L1718.1,1186.2 L1717.9,1187.0 L1717.7,1187.7 L1717.4,1188.4 L1717.0,1189.2 L1716.7,1189.9 L1716.3,1190.6 L1715.9,1191.3 L1715.4,1191.9 L1715.0,1192.6 L1714.5,1193.2 L1714.0,1193.8 L1713.4,1194.3 L1712.9,1194.8 L1712.3,1195.3 L1711.8,1195.7 L1711.2,1196.1 L1710.7,1196.4 L1710.1,1196.6 L1709.6,1196.8 L1709.0,1197.0 L1708.5,1197.1 L1708.0,1197.1 L1707.5,1197.1 L1707.1,1197.0 L1706.6,1196.9 L1706.2,1196.7" fill="none" stroke="#231f20" stroke-width="2.6" stroke-linejoin="round" stroke-linecap="round" />
<path d="M1693.7,1170.0 L1700.3,1171.5" fill="none" stroke="#231f20" stroke-width="1.3" stroke-linejoin="round" stroke-linecap="round" />
<path d="M1719.5,1183.3 L1732.1,1178.2 L1735.8,1178.9 L1726.9,1201.1 L1715.8,1214.3 L1712.1,1205.5 L1711.4,1196.6 L1714.3,1187.8 Z" fill="#fff" stroke="#231f20" stroke-width="2.0" stroke-linejoin="round" stroke-linecap="round" />
<path d="M1713.8,1215.7 L1751.0,1236.4 L1771.4,1199.7 L1734.2,1179.0 Z" fill="#fff" stroke="none" stroke-width="0" stroke-linejoin="round" stroke-linecap="round" />
<line x1="1713.8" y1="1215.7" x2="1751.0" y2="1236.4" stroke="#231f20" stroke-width="2.2" />
<line x1="1734.2" y1="1179.0" x2="1771.4" y2="1199.7" stroke="#231f20" stroke-width="2.2" />
<ellipse cx="1761.2" cy="1218.0" rx="12.2" ry="21.0" transform="rotate(29.1 1761.2 1218.0)" fill="#fff" stroke="#231f20" stroke-width="2.2"/>
<ellipse cx="1761.2" cy="1218.0" rx="10.1" ry="17.5" transform="rotate(30.0 1761.2 1218.0)" fill="#fff" stroke="#231f20" stroke-width="1.5"/>
<path d="M1738.7,1181.8 L1764.6,1197.4 L1761.6,1202.5" fill="none" stroke="#231f20" stroke-width="1.3" stroke-linejoin="round" stroke-linecap="round" />
<path d="M1746.9,1230.6 L1749.8,1235.0" fill="none" stroke="#231f20" stroke-width="1.3" stroke-linejoin="round" stroke-linecap="round" />
<path d="M1748.3,1221.7 L1755.0,1225.4 L1758.7,1233.6" fill="none" stroke="#231f20" stroke-width="1.2" stroke-linejoin="round" stroke-linecap="round" />
<path d="M1752.8,1209.9 L1761.6,1214.3" fill="none" stroke="#231f20" stroke-width="1.2" stroke-linejoin="round" stroke-linecap="round" />
<path d="M1761.6,1202.5 L1763.8,1205.5 L1761.6,1214.3" fill="none" stroke="#231f20" stroke-width="1.2" stroke-linejoin="round" stroke-linecap="round" />
<path d="M2027.5,1319.6 C2027.7,1316.6 2029.8,1313.4 2031.9,1311.7 C2034.1,1309.9 2042.9,1305.2 2046.0,1304.6 C2049.1,1304.0 2055.6,1305.3 2058.3,1306.4 C2061.0,1307.5 2064.8,1311.0 2068.9,1314.3 C2073.0,1317.6 2084.5,1328.5 2093.5,1334.5 C2102.5,1340.6 2133.9,1358.8 2146.3,1366.2 C2158.6,1373.6 2190.2,1393.1 2199.0,1397.9 C2207.9,1402.6 2216.2,1404.4 2221.9,1406.6 C2227.6,1408.9 2243.8,1414.5 2248.3,1417.2 C2252.8,1419.9 2258.6,1426.6 2260.6,1429.5 C2262.5,1432.4 2264.8,1438.8 2265.0,1441.8 C2265.2,1444.9 2264.1,1453.3 2262.4,1455.9 C2260.6,1458.5 2251.9,1463.4 2250.0,1463.8 C2248.2,1464.2 2247.1,1460.3 2246.5,1459.4 C2245.9,1458.5 2250.3,1459.4 2244.8,1455.9 C2239.2,1452.4 2210.5,1436.5 2199.0,1429.5 C2187.5,1422.5 2158.6,1403.7 2146.3,1396.1 C2133.9,1388.5 2103.8,1370.0 2093.5,1364.4 C2083.2,1358.9 2064.3,1352.1 2058.3,1348.6 C2052.4,1345.1 2045.4,1336.0 2042.5,1334.5 C2039.6,1333.1 2035.1,1336.0 2033.7,1336.3 C2032.2,1336.6 2030.9,1339.1 2030.2,1337.2 C2029.4,1335.2 2027.3,1322.6 2027.5,1319.6 Z" fill="#fff" stroke="#231f20" stroke-width="2.3" stroke-linejoin="round" stroke-linecap="round" />
<path d="M2049.5,1316.1 C2056.0,1320.9 2064.2,1330.0 2088.2,1345.1 C2112.3,1360.2 2169.4,1394.0 2193.8,1406.6 C2218.1,1419.3 2224.8,1416.3 2234.2,1420.7 C2243.6,1425.1 2247.4,1431.0 2250.0,1433.0" fill="none" stroke="#231f20" stroke-width="1.2" stroke-linejoin="round" stroke-linecap="round" />
<path d="M2040.7,1316.1 C2040.4,1317.7 2038.7,1322.7 2039.0,1325.7 C2039.3,1328.8 2041.9,1333.1 2042.5,1334.5" fill="none" stroke="#231f20" stroke-width="1.3" stroke-linejoin="round" stroke-linecap="round" />
<ellipse cx="2053.4" cy="1329.6" rx="8.8" ry="12.5" transform="rotate(-28.0 2053.4 1329.6)" fill="#fff" stroke="#231f20" stroke-width="1.7"/>
<ellipse cx="2055.9" cy="1330.6" rx="7.5" ry="11.5" transform="rotate(-28.0 2055.9 1330.6)" fill="none" stroke="#231f20" stroke-width="1.2"/>
<ellipse cx="2241.2" cy="1440.4" rx="8.2" ry="11.8" transform="rotate(-28.0 2241.2 1440.4)" fill="#fff" stroke="#231f20" stroke-width="1.7"/>
<ellipse cx="2243.7" cy="1441.4" rx="7.0" ry="10.8" transform="rotate(-28.0 2243.7 1441.4)" fill="none" stroke="#231f20" stroke-width="1.2"/>
<path d="M2249.2,1433.9 L2259.7,1427.8" fill="none" stroke="#231f20" stroke-width="1.2" stroke-linejoin="round" stroke-linecap="round" />
<path d="M2251.8,1434.8 C2252.7,1436.6 2256.5,1441.5 2257.1,1445.3 C2257.7,1449.2 2255.6,1455.6 2255.3,1457.7" fill="none" stroke="#231f20" stroke-width="1.3" stroke-linejoin="round" stroke-linecap="round" />
<ellipse cx="2094.7" cy="1357.4" rx="4.0" ry="5.6" transform="rotate(-28.0 2094.7 1357.4)" fill="#fff" stroke="#231f20" stroke-width="1.7"/>
<ellipse cx="2096.0" cy="1357.7" rx="3.0" ry="4.8" transform="rotate(-28.0 2096.0 1357.7)" fill="#231f20" stroke="#231f20" stroke-width="1.2"/>
<ellipse cx="2201.7" cy="1419.8" rx="4.0" ry="5.6" transform="rotate(-28.0 2201.7 1419.8)" fill="#fff" stroke="#231f20" stroke-width="1.7"/>
<ellipse cx="2203.0" cy="1420.1" rx="3.0" ry="4.8" transform="rotate(-28.0 2203.0 1420.1)" fill="#231f20" stroke="#231f20" stroke-width="1.2"/>
<path d="M1939.6,1378.5 L1944.0,1369.7 L1954.5,1364.8 L1965.1,1368.0 L1991.5,1389.1 L2040.7,1419.0 L2111.1,1461.2 L2137.5,1471.7 L2153.3,1480.5 L2163.0,1492.8 L2164.7,1503.4 L2160.3,1510.4 L2149.8,1513.9 L2141.0,1512.2 L2065.3,1468.2 L2063.6,1464.7 L2060.9,1462.9 L2057.4,1464.7 L2056.6,1474.4 L2039.8,1464.7 L2039.0,1454.1 L2033.7,1446.2 L2029.3,1448.9 L2025.8,1448.0 L1946.6,1401.4 L1941.3,1392.6 Z" fill="#fff" stroke="#231f20" stroke-width="2.3" stroke-linejoin="round" stroke-linecap="round" />
<path d="M1946.6,1374.1 C1948.5,1374.0 1950.6,1369.6 1958.0,1373.2 C1965.5,1376.9 1977.7,1387.3 1991.5,1396.1 C2005.2,1404.9 2020.8,1414.0 2040.7,1426.0 C2060.7,1438.0 2095.0,1459.4 2111.1,1468.2 C2127.2,1477.0 2130.7,1475.5 2137.5,1478.8 C2144.2,1482.0 2148.3,1484.0 2151.5,1487.6 C2154.8,1491.1 2156.2,1495.8 2156.8,1499.9 C2157.4,1504.0 2155.4,1510.1 2155.1,1512.2" fill="none" stroke="#231f20" stroke-width="1.2" stroke-linejoin="round" stroke-linecap="round" />
<ellipse cx="1953.6" cy="1387.3" rx="5.0" ry="6.6" transform="rotate(-28.0 1953.6 1387.3)" fill="#fff" stroke="#231f20" stroke-width="1.7"/>
<ellipse cx="1994.6" cy="1415.8" rx="4.2" ry="5.4" transform="rotate(-28.0 1994.6 1415.8)" fill="#fff" stroke="#231f20" stroke-width="1.7"/>
<ellipse cx="2101.8" cy="1477.9" rx="4.2" ry="5.4" transform="rotate(-28.0 2101.8 1477.9)" fill="#fff" stroke="#231f20" stroke-width="1.7"/>
<ellipse cx="2142.7" cy="1497.2" rx="5.0" ry="6.6" transform="rotate(-28.0 2142.7 1497.2)" fill="#fff" stroke="#231f20" stroke-width="1.7"/>
<path d="M2057.4,1464.7 C2057.7,1463.5 2058.0,1458.5 2059.2,1457.7 C2060.4,1456.8 2063.4,1457.7 2064.5,1459.4 C2065.5,1461.2 2065.2,1466.7 2065.3,1468.2" fill="none" stroke="#231f20" stroke-width="1.3" stroke-linejoin="round" stroke-linecap="round" />
<path d="M1646.5,1549.7 L1652.3,1541.6 L1662.8,1537.6 L1671.0,1540.4 L1701.4,1573.1 L1708.5,1576.6 L1802.0,1631.6 L1813.7,1634.0 L1837.1,1637.5 L1848.8,1645.7 L1855.9,1659.7 L1854.7,1673.7 L1846.5,1694.8 L1837.1,1700.7 L1816.1,1686.6 L1814.9,1676.1 L1802.0,1669.1 L1688.6,1603.6 L1680.4,1608.2 L1678.0,1607.1 L1657.0,1595.4 L1654.6,1584.8 L1647.6,1563.8 Z" fill="#fff" stroke="#231f20" stroke-width="2.3" stroke-linejoin="round" stroke-linecap="round" />
<path d="M1662.8,1538.5 L1689.7,1563.8 L1703.8,1580.6 L1797.4,1636.3 L1809.1,1638.7 L1836.0,1643.3 L1846.5,1652.7 L1848.8,1669.1 L1841.8,1690.1" fill="none" stroke="#231f20" stroke-width="1.2" stroke-linejoin="round" stroke-linecap="round" />
<path d="M1701.4,1573.1 L1703.8,1580.6" fill="none" stroke="#231f20" stroke-width="1.2" stroke-linejoin="round" stroke-linecap="round" />
<path d="M1802.0,1631.6 L1797.4,1636.3" fill="none" stroke="#231f20" stroke-width="1.2" stroke-linejoin="round" stroke-linecap="round" />
<path d="M1680.4,1608.2 L1679.9,1597.7 L1688.6,1603.6" fill="none" stroke="#231f20" stroke-width="1.3" stroke-linejoin="round" stroke-linecap="round" />
<path d="M1837.1,1700.7 L1838.3,1690.1" fill="none" stroke="#231f20" stroke-width="1.2" stroke-linejoin="round" stroke-linecap="round" />
<ellipse cx="1659.8" cy="1560.3" rx="5.2" ry="6.8" transform="rotate(-28.0 1659.8 1560.3)" fill="#fff" stroke="#231f20" stroke-width="1.7"/>
<ellipse cx="1693.3" cy="1589.5" rx="4.2" ry="5.6" transform="rotate(-28.0 1693.3 1589.5)" fill="#fff" stroke="#231f20" stroke-width="1.7"/>
<ellipse cx="1800.9" cy="1651.5" rx="4.2" ry="5.6" transform="rotate(-28.0 1800.9 1651.5)" fill="#fff" stroke="#231f20" stroke-width="1.7"/>
<ellipse cx="1834.3" cy="1660.2" rx="5.2" ry="6.8" transform="rotate(-28.0 1834.3 1660.2)" fill="#fff" stroke="#231f20" stroke-width="1.7"/>
<ellipse cx="1886.3" cy="1425.7" rx="2.6" ry="5.2" transform="rotate(149.0 1886.3 1425.7)" fill="#fff" stroke="#231f20" stroke-width="2.1"/>
<path d="M1883.6,1421.2 L1731.5,1512.5 L1736.9,1521.5 L1889.0,1430.2 Z" fill="#fff" stroke="none" stroke-width="0" stroke-linejoin="round" stroke-linecap="round" />
<line x1="1883.6" y1="1421.2" x2="1731.5" y2="1512.5" stroke="#231f20" stroke-width="2.1" />
<line x1="1889.0" y1="1430.2" x2="1736.9" y2="1521.5" stroke="#231f20" stroke-width="2.1" />
<ellipse cx="1734.2" cy="1517.0" rx="2.6" ry="5.2" transform="rotate(149.0 1734.2 1517.0)" fill="#fff" stroke="#231f20" stroke-width="2.1"/>
<line x1="1738.0" y1="1511.0" x2="1884.0" y2="1423.5" stroke="#231f20" stroke-width="1.1" />
<ellipse cx="2076.7" cy="1537.0" rx="2.6" ry="5.2" transform="rotate(154.5 2076.7 1537.0)" fill="#fff" stroke="#231f20" stroke-width="2.1"/>
<path d="M2074.5,1532.3 L1906.3,1612.5 L1910.7,1621.9 L2078.9,1541.7 Z" fill="#fff" stroke="none" stroke-width="0" stroke-linejoin="round" stroke-linecap="round" />
<line x1="2074.5" y1="1532.3" x2="1906.3" y2="1612.5" stroke="#231f20" stroke-width="2.1" />
<line x1="2078.9" y1="1541.7" x2="1910.7" y2="1621.9" stroke="#231f20" stroke-width="2.1" />
<ellipse cx="1908.5" cy="1617.2" rx="2.6" ry="5.2" transform="rotate(154.5 1908.5 1617.2)" fill="#fff" stroke="#231f20" stroke-width="2.1"/>
<line x1="1912.0" y1="1612.0" x2="2075.0" y2="1534.5" stroke="#231f20" stroke-width="1.1" />
<path d="M1544.7,1603.6 L1551.7,1594.2 L1565.7,1586.0 L1577.4,1590.7 L1582.1,1598.9 L1580.9,1610.6 L1596.2,1631.6 L1633.6,1646.8 L1641.8,1645.2 L1703.8,1683.1 L1727.2,1684.3 L1745.9,1691.3 L1759.9,1706.5 L1765.8,1722.9 L1764.6,1743.9 L1750.6,1751.0 L1743.6,1756.8 L1727.2,1751.0 L1722.5,1746.3 L1713.1,1751.0 L1696.8,1742.8 L1699.1,1725.2 L1689.7,1713.5 L1602.0,1660.9 L1584.5,1657.4 L1582.1,1664.4 L1570.4,1665.6 L1561.1,1659.7 L1545.8,1652.7 L1552.9,1624.6 Z" fill="#fff" stroke="#231f20" stroke-width="2.3" stroke-linejoin="round" stroke-linecap="round" />
<path d="M1606.7,1651.5 L1692.1,1701.8" fill="none" stroke="#231f20" stroke-width="2.4" stroke-linejoin="round" stroke-linecap="round" />
<path d="M1610.2,1641.0 L1703.8,1693.6" fill="none" stroke="#231f20" stroke-width="1.2" stroke-linejoin="round" stroke-linecap="round" />
<path d="M1605.5,1634.0 L1638.3,1652.7 L1701.4,1689.0" fill="none" stroke="#231f20" stroke-width="1.1" stroke-linejoin="round" stroke-linecap="round" />
<path d="M1633.6,1646.8 L1628.9,1653.9" fill="none" stroke="#231f20" stroke-width="1.1" stroke-linejoin="round" stroke-linecap="round" />
<path d="M1703.8,1683.1 L1696.8,1691.3" fill="none" stroke="#231f20" stroke-width="1.2" stroke-linejoin="round" stroke-linecap="round" />
<path d="M1550.5,1603.6 C1551.9,1602.6 1555.4,1597.7 1558.7,1597.7 C1562.0,1597.7 1567.7,1600.2 1570.4,1603.6 C1573.1,1606.9 1574.3,1615.3 1575.1,1617.6" fill="none" stroke="#231f20" stroke-width="1.4" stroke-linejoin="round" stroke-linecap="round" />
<path d="M1548.2,1608.2 C1549.6,1607.5 1553.3,1603.2 1556.4,1603.6 C1559.5,1603.9 1565.2,1609.4 1566.9,1610.6" fill="none" stroke="#231f20" stroke-width="1.2" stroke-linejoin="round" stroke-linecap="round" />
<path d="M1556.4,1619.9 L1572.8,1622.3 L1575.1,1636.3 L1562.2,1656.2 L1547.0,1651.5 L1556.4,1619.9" fill="none" stroke="#231f20" stroke-width="1.5" stroke-linejoin="round" stroke-linecap="round" />
<path d="M1559.9,1624.6 L1569.2,1627.0 L1564.6,1648.0 L1551.7,1645.7" fill="none" stroke="#231f20" stroke-width="1.1" stroke-linejoin="round" stroke-linecap="round" />
<ellipse cx="1591.9" cy="1648.5" rx="9.5" ry="13.0" transform="rotate(-28.0 1591.9 1648.5)" fill="#fff" stroke="#231f20" stroke-width="1.6"/>
<ellipse cx="1594.4" cy="1649.5" rx="6.5" ry="9.5" transform="rotate(-28.0 1594.4 1649.5)" fill="none" stroke="#231f20" stroke-width="1.3"/>
<path d="M1575.1,1617.6 L1580.9,1631.6 L1579.8,1652.7" fill="none" stroke="#231f20" stroke-width="1.2" stroke-linejoin="round" stroke-linecap="round" />
<path d="M1570.4,1665.6 L1571.6,1657.4 L1582.1,1656.2" fill="none" stroke="#231f20" stroke-width="1.2" stroke-linejoin="round" stroke-linecap="round" />
<ellipse cx="1699.1" cy="1707.7" rx="9.5" ry="13.0" transform="rotate(-28.0 1699.1 1707.7)" fill="#fff" stroke="#231f20" stroke-width="1.6"/>
<ellipse cx="1701.6" cy="1708.7" rx="6.5" ry="9.5" transform="rotate(-28.0 1701.6 1708.7)" fill="none" stroke="#231f20" stroke-width="1.3"/>
<path d="M1708.5,1713.5 L1724.8,1704.2 L1727.2,1725.2 L1713.1,1746.3 L1697.9,1740.4 L1708.5,1713.5" fill="none" stroke="#231f20" stroke-width="1.5" stroke-linejoin="round" stroke-linecap="round" />
<path d="M1712.0,1717.0 L1721.3,1711.2 L1716.6,1736.9 L1703.8,1736.9" fill="none" stroke="#231f20" stroke-width="1.1" stroke-linejoin="round" stroke-linecap="round" />
<path d="M1724.8,1704.2 C1726.8,1703.8 1733.0,1700.3 1736.5,1701.8 C1740.0,1703.4 1744.1,1708.5 1745.9,1713.5 C1747.7,1718.6 1748.2,1728.3 1747.1,1732.2 C1745.9,1736.1 1740.2,1736.1 1738.9,1736.9" fill="none" stroke="#231f20" stroke-width="1.4" stroke-linejoin="round" stroke-linecap="round" />
<path d="M1727.2,1699.5 C1729.5,1699.7 1737.1,1698.3 1741.2,1700.7 C1745.3,1703.0 1750.0,1707.9 1751.7,1713.5 C1753.5,1719.2 1751.7,1731.1 1751.7,1734.6" fill="none" stroke="#231f20" stroke-width="1.2" stroke-linejoin="round" stroke-linecap="round" />
<path d="M1727.2,1725.2 L1731.9,1727.6 L1731.9,1751.0" fill="none" stroke="#231f20" stroke-width="1.2" stroke-linejoin="round" stroke-linecap="round" />
<path d="M1750.6,1751.0 L1751.7,1706.5" fill="none" stroke="#231f20" stroke-width="1.1" stroke-linejoin="round" stroke-linecap="round" />
<path d="M1703.8,1683.1 L1701.4,1689.0 L1713.1,1692.5" fill="none" stroke="#231f20" stroke-width="1.1" stroke-linejoin="round" stroke-linecap="round" />
<ellipse cx="2291.0" cy="1207.4" rx="6.9" ry="11.2" transform="rotate(149.4 2291.0 1207.4)" fill="#fff" stroke="#231f20" stroke-width="1.9"/>
<line x1="2287.6" y1="1209.4" x2="2169.1" y2="1279.5" stroke="#231f20" stroke-width="12.0"/>
<line x1="2287.6" y1="1209.4" x2="2169.1" y2="1279.5" stroke="#fff" stroke-width="7.2"/>
<line x1="2287.6" y1="1209.4" x2="2169.1" y2="1279.5" stroke="#231f20" stroke-width="7.2" stroke-dasharray="1.05 0.85"/>
<ellipse cx="2169.1" cy="1279.5" rx="3.4" ry="5.2" transform="rotate(149.4 2169.1 1279.5)" fill="#fff" stroke="#231f20" stroke-width="1.7"/>
<ellipse cx="2398.2" cy="1270.2" rx="6.9" ry="11.2" transform="rotate(149.4 2398.2 1270.2)" fill="#fff" stroke="#231f20" stroke-width="1.9"/>
<line x1="2394.8" y1="1272.2" x2="2276.3" y2="1342.3" stroke="#231f20" stroke-width="12.0"/>
<line x1="2394.8" y1="1272.2" x2="2276.3" y2="1342.3" stroke="#fff" stroke-width="7.2"/>
<line x1="2394.8" y1="1272.2" x2="2276.3" y2="1342.3" stroke="#231f20" stroke-width="7.2" stroke-dasharray="1.05 0.85"/>
<ellipse cx="2276.3" cy="1342.3" rx="3.4" ry="5.2" transform="rotate(149.4 2276.3 1342.3)" fill="#fff" stroke="#231f20" stroke-width="1.7"/>
<ellipse cx="1516.9" cy="1695.2" rx="7.1" ry="9.8" transform="rotate(-30.5 1516.9 1695.2)" fill="#fff" stroke="#231f20" stroke-width="2.0"/>
<line x1="1520.7" y1="1693.0" x2="1548.3" y2="1676.7" stroke="#231f20" stroke-width="9.2"/>
<line x1="1520.7" y1="1693.0" x2="1548.3" y2="1676.7" stroke="#fff" stroke-width="5.5" stroke-dasharray="0.42 1.5"/>
<ellipse cx="1548.3" cy="1676.7" rx="2.6" ry="3.8" transform="rotate(-30.5 1548.3 1676.7)" fill="#fff" stroke="#231f20" stroke-width="1.7"/>
<ellipse cx="1619.6" cy="1757.3" rx="7.1" ry="9.8" transform="rotate(-32.0 1619.6 1757.3)" fill="#fff" stroke="#231f20" stroke-width="2.0"/>
<line x1="1623.3" y1="1755.0" x2="1652.3" y2="1736.9" stroke="#231f20" stroke-width="9.2"/>
<line x1="1623.3" y1="1755.0" x2="1652.3" y2="1736.9" stroke="#fff" stroke-width="5.5" stroke-dasharray="0.42 1.5"/>
<ellipse cx="1652.3" cy="1736.9" rx="2.6" ry="3.8" transform="rotate(-32.0 1652.3 1736.9)" fill="#fff" stroke="#231f20" stroke-width="1.7"/>
<ellipse cx="1516.4" cy="1695.5" rx="2.2" ry="3.0" transform="rotate(-30.0 1516.4 1695.5)" fill="#fff" stroke="#231f20" stroke-width="1.3"/>
<ellipse cx="1619.1" cy="1757.6" rx="2.2" ry="3.0" transform="rotate(-30.0 1619.1 1757.6)" fill="#fff" stroke="#231f20" stroke-width="1.3"/>
<ellipse cx="2630.2" cy="1350.2" rx="8.8" ry="11.0" transform="rotate(144.4 2630.2 1350.2)" fill="#fff" stroke="#231f20" stroke-width="2.0"/>
<line x1="2630.2" y1="1350.2" x2="2574.1" y2="1379.5" stroke="#231f20" stroke-width="10.0"/>
<line x1="2630.2" y1="1350.2" x2="2574.1" y2="1379.5" stroke="#fff" stroke-width="6.0" stroke-dasharray="0.42 1.5"/>
<ellipse cx="2574.1" cy="1379.5" rx="2.8" ry="4.2" transform="rotate(152.4 2574.1 1379.5)" fill="#fff" stroke="#231f20" stroke-width="1.7"/>
<ellipse cx="2969.3" cy="1615.5" rx="8.8" ry="11.0" transform="rotate(146.7 2969.3 1615.5)" fill="#fff" stroke="#231f20" stroke-width="2.0"/>
<line x1="2969.3" y1="1615.5" x2="2909.0" y2="1644.0" stroke="#231f20" stroke-width="10.0"/>
<line x1="2969.3" y1="1615.5" x2="2909.0" y2="1644.0" stroke="#fff" stroke-width="6.0" stroke-dasharray="0.42 1.5"/>
<ellipse cx="2909.0" cy="1644.0" rx="2.8" ry="4.2" transform="rotate(154.7 2909.0 1644.0)" fill="#fff" stroke="#231f20" stroke-width="1.7"/>
<path d="M2562.7,1377.9 L2563.0,1389.4 L2557.7,1395.7 L2552.1,1390.5 L2551.8,1379.0 L2557.1,1372.7 Z" fill="#fff" stroke="#231f20" stroke-width="1.8" stroke-linejoin="round" stroke-linecap="round" />
<path d="M2558.7,1380.1 L2559.0,1391.6 L2553.7,1397.9 L2548.1,1392.7 L2547.8,1381.2 L2553.1,1374.9 Z" fill="#fff" stroke="#231f20" stroke-width="1.8" stroke-linejoin="round" stroke-linecap="round" />
<ellipse cx="2544.8" cy="1392.0" rx="5.0" ry="9.0" transform="rotate(-33.1 2544.8 1392.0)" fill="#fff" stroke="#231f20" stroke-width="1.5"/>
<ellipse cx="2536.2" cy="1397.6" rx="13.0" ry="12.7" transform="rotate(0.0 2536.2 1397.6)" fill="#fff" stroke="#231f20" stroke-width="2.1"/>
<ellipse cx="2531.3" cy="1400.8" rx="5.5" ry="7.8" transform="rotate(-33.1 2531.3 1400.8)" fill="#fff" stroke="#231f20" stroke-width="1.6"/>
<ellipse cx="2531.3" cy="1400.8" rx="3.4" ry="5.2" transform="rotate(-33.1 2531.3 1400.8)" fill="#fff" stroke="#231f20" stroke-width="1.4"/>
<path d="M2897.8,1642.3 L2897.7,1653.8 L2892.2,1659.3 L2886.8,1653.3 L2886.9,1641.8 L2892.4,1636.3 Z" fill="#fff" stroke="#231f20" stroke-width="1.8" stroke-linejoin="round" stroke-linecap="round" />
<path d="M2893.8,1644.5 L2893.7,1656.0 L2888.2,1661.5 L2882.8,1655.5 L2882.9,1644.0 L2888.4,1638.5 Z" fill="#fff" stroke="#231f20" stroke-width="1.8" stroke-linejoin="round" stroke-linecap="round" />
<ellipse cx="2879.7" cy="1654.8" rx="5.0" ry="9.0" transform="rotate(-28.8 2879.7 1654.8)" fill="#fff" stroke="#231f20" stroke-width="1.5"/>
<ellipse cx="2871.0" cy="1659.5" rx="12.0" ry="11.8" transform="rotate(0.0 2871.0 1659.5)" fill="#fff" stroke="#231f20" stroke-width="2.1"/>
<ellipse cx="2866.3" cy="1662.1" rx="5.0" ry="7.2" transform="rotate(-28.8 2866.3 1662.1)" fill="#fff" stroke="#231f20" stroke-width="1.6"/>
<ellipse cx="2866.3" cy="1662.1" rx="3.1" ry="4.8" transform="rotate(-28.8 2866.3 1662.1)" fill="#fff" stroke="#231f20" stroke-width="1.4"/>
<path d="M2493.7,1452.7 L2538.2,1482.8 L2553.2,1460.6 L2508.7,1430.5 Z" fill="#fff" stroke="none" stroke-width="0" stroke-linejoin="round" stroke-linecap="round" />
<line x1="2493.7" y1="1452.7" x2="2538.2" y2="1482.8" stroke="#231f20" stroke-width="2.1" />
<line x1="2508.7" y1="1430.5" x2="2553.2" y2="1460.6" stroke="#231f20" stroke-width="2.1" />
<ellipse cx="2545.7" cy="1471.7" rx="6.7" ry="13.4" transform="rotate(34.0 2545.7 1471.7)" fill="#fff" stroke="#231f20" stroke-width="2.1"/>
<ellipse cx="2545.7" cy="1471.7" rx="4.6" ry="8.2" transform="rotate(34.0 2545.7 1471.7)" fill="#fff" stroke="#231f20" stroke-width="1.5"/>
<path d="M2493.7,1452.7 L2487.0,1446.5 L2500.4,1426.6 L2508.7,1430.5 Z" fill="#fff" stroke="#231f20" stroke-width="1.6" stroke-linejoin="round" stroke-linecap="round" />
<ellipse cx="2489.6" cy="1430.6" rx="15.5" ry="22.5" transform="rotate(-41.0 2489.6 1430.6)" fill="#fff" stroke="#231f20" stroke-width="2.0"/>
<ellipse cx="2487.1" cy="1432.1" rx="15.5" ry="22.5" transform="rotate(-41.0 2487.1 1432.1)" fill="#fff" stroke="#231f20" stroke-width="2.3"/>
<ellipse cx="2487.1" cy="1432.1" rx="12.2" ry="18.6" transform="rotate(-41.0 2487.1 1432.1)" fill="none" stroke="#231f20" stroke-width="1.2"/>
<ellipse cx="2487.1" cy="1432.1" rx="8.8" ry="13.8" transform="rotate(-41.0 2487.1 1432.1)" fill="#fff" stroke="#231f20" stroke-width="1.9"/>
<ellipse cx="2488.6" cy="1431.6" rx="7.2" ry="12.2" transform="rotate(-41.0 2488.6 1431.6)" fill="none" stroke="#231f20" stroke-width="1.2"/>
<line x1="2506.2" y1="1437.8" x2="2521.1" y2="1447.8" stroke="#231f20" stroke-width="1.2" />
<line x1="2507.9" y1="1435.3" x2="2517.8" y2="1442.0" stroke="#231f20" stroke-width="1.2" />
<ellipse cx="2776.2" cy="1648.3" rx="6.7" ry="13.4" transform="rotate(37.7 2776.2 1648.3)" fill="#fff" stroke="#231f20" stroke-width="2.1"/>
<path d="M2768.0,1658.9 L2808.1,1689.9 L2824.5,1668.7 L2784.4,1637.7 Z" fill="#fff" stroke="none" stroke-width="0" stroke-linejoin="round" stroke-linecap="round" />
<line x1="2768.0" y1="1658.9" x2="2808.1" y2="1689.9" stroke="#231f20" stroke-width="2.1" />
<line x1="2784.4" y1="1637.7" x2="2824.5" y2="1668.7" stroke="#231f20" stroke-width="2.1" />
<path d="M2824.5,1668.7 L2830.7,1675.3 L2816.0,1694.3 L2808.1,1689.9 Z" fill="#fff" stroke="#231f20" stroke-width="1.6" stroke-linejoin="round" stroke-linecap="round" />
<ellipse cx="2832.2" cy="1688.2" rx="15.5" ry="22.5" transform="rotate(-217.3 2832.2 1688.2)" fill="#fff" stroke="#231f20" stroke-width="2.0"/>
<ellipse cx="2829.7" cy="1689.7" rx="15.5" ry="22.5" transform="rotate(-217.3 2829.7 1689.7)" fill="#fff" stroke="#231f20" stroke-width="2.3"/>
<ellipse cx="2829.7" cy="1689.7" rx="12.2" ry="18.6" transform="rotate(-217.3 2829.7 1689.7)" fill="none" stroke="#231f20" stroke-width="1.2"/>
<ellipse cx="2829.7" cy="1689.7" rx="8.8" ry="13.8" transform="rotate(-217.3 2829.7 1689.7)" fill="#fff" stroke="#231f20" stroke-width="1.9"/>
<ellipse cx="2831.2" cy="1689.2" rx="7.2" ry="12.2" transform="rotate(-217.3 2831.2 1689.2)" fill="none" stroke="#231f20" stroke-width="1.2"/>
<line x1="2811.0" y1="1682.8" x2="2796.8" y2="1671.8" stroke="#231f20" stroke-width="1.2" />
<line x1="2809.2" y1="1685.2" x2="2799.7" y2="1677.8" stroke="#231f20" stroke-width="1.2" />
<path d="M2461.0,1445.0 L2460.1,1457.5 L2451.0,1462.8 L2442.8,1455.6 L2443.7,1443.1 L2452.8,1437.8 Z" fill="#fff" stroke="#231f20" stroke-width="1.8" stroke-linejoin="round" stroke-linecap="round" />
<path d="M2456.5,1447.5 L2455.6,1460.0 L2446.5,1465.3 L2438.3,1458.1 L2439.2,1445.6 L2448.3,1440.3 Z" fill="#fff" stroke="#231f20" stroke-width="1.9" stroke-linejoin="round" stroke-linecap="round" />
<line x1="2456.5" y1="1447.5" x2="2461.0" y2="1445.0" stroke="#231f20" stroke-width="1.4" />
<line x1="2455.6" y1="1460.0" x2="2460.1" y2="1457.5" stroke="#231f20" stroke-width="1.4" />
<line x1="2448.3" y1="1440.3" x2="2452.8" y2="1437.8" stroke="#231f20" stroke-width="1.4" />
<ellipse cx="2447.4" cy="1452.8" rx="6.2" ry="7.8" transform="rotate(0.0 2447.4 1452.8)" fill="#fff" stroke="#231f20" stroke-width="1.6"/>
<ellipse cx="2447.4" cy="1452.8" rx="4.2" ry="5.2" transform="rotate(0.0 2447.4 1452.8)" fill="#fff" stroke="#231f20" stroke-width="1.5"/>
<ellipse cx="2447.4" cy="1452.8" rx="2.0" ry="2.5" transform="rotate(0.0 2447.4 1452.8)" fill="#fff" stroke="#231f20" stroke-width="1.2"/>
<path d="M2795.8,1702.5 L2794.9,1715.0 L2785.8,1720.3 L2777.6,1713.1 L2778.5,1700.6 L2787.6,1695.3 Z" fill="#fff" stroke="#231f20" stroke-width="1.8" stroke-linejoin="round" stroke-linecap="round" />
<path d="M2791.3,1705.0 L2790.4,1717.5 L2781.3,1722.8 L2773.1,1715.6 L2774.0,1703.1 L2783.1,1697.8 Z" fill="#fff" stroke="#231f20" stroke-width="1.9" stroke-linejoin="round" stroke-linecap="round" />
<line x1="2791.3" y1="1705.0" x2="2795.8" y2="1702.5" stroke="#231f20" stroke-width="1.4" />
<line x1="2790.4" y1="1717.5" x2="2794.9" y2="1715.0" stroke="#231f20" stroke-width="1.4" />
<line x1="2783.1" y1="1697.8" x2="2787.6" y2="1695.3" stroke="#231f20" stroke-width="1.4" />
<ellipse cx="2782.2" cy="1710.3" rx="6.2" ry="7.8" transform="rotate(0.0 2782.2 1710.3)" fill="#fff" stroke="#231f20" stroke-width="1.6"/>
<ellipse cx="2782.2" cy="1710.3" rx="4.2" ry="5.2" transform="rotate(0.0 2782.2 1710.3)" fill="#fff" stroke="#231f20" stroke-width="1.5"/>
<ellipse cx="2782.2" cy="1710.3" rx="2.0" ry="2.5" transform="rotate(0.0 2782.2 1710.3)" fill="#fff" stroke="#231f20" stroke-width="1.2"/>
<path d="M2595.8,1517.4 L2724.4,1613.0 L2729.9,1605.7 L2601.2,1510.0 Z" fill="#fff" stroke="none" stroke-width="0" stroke-linejoin="round" stroke-linecap="round" />
<line x1="2595.8" y1="1517.4" x2="2724.4" y2="1613.0" stroke="#231f20" stroke-width="1.8" />
<line x1="2601.2" y1="1510.0" x2="2729.9" y2="1605.7" stroke="#231f20" stroke-width="1.8" />
<line x1="2601.7" y1="1516.1" x2="2724.8" y2="1607.6" stroke="#231f20" stroke-width="1.0" />
<line x1="2602.5" y1="1516.7" x2="2566.4" y2="1489.8" stroke="#231f20" stroke-width="13.6"/>
<line x1="2602.5" y1="1516.7" x2="2566.4" y2="1489.8" stroke="#fff" stroke-width="8.6" stroke-dasharray="0.42 1.5"/>
<ellipse cx="2566.4" cy="1489.8" rx="3.8" ry="6.0" transform="rotate(-143.4 2566.4 1489.8)" fill="#fff" stroke="#231f20" stroke-width="1.7"/>
<line x1="2724.8" y1="1607.6" x2="2763.3" y2="1636.2" stroke="#231f20" stroke-width="13.6"/>
<line x1="2724.8" y1="1607.6" x2="2763.3" y2="1636.2" stroke="#fff" stroke-width="8.6" stroke-dasharray="0.42 1.5"/>
<ellipse cx="2763.3" cy="1636.2" rx="3.8" ry="6.0" transform="rotate(36.6 2763.3 1636.2)" fill="#fff" stroke="#231f20" stroke-width="1.7"/>
<path d="M2649.7,1551.7 L2648.8,1562.9 L2669.7,1578.4 L2680.2,1574.4 L2681.0,1563.2 L2660.1,1547.7 Z" fill="#fff" stroke="#231f20" stroke-width="2.0" stroke-linejoin="round" stroke-linecap="round" />
<line x1="2652.7" y1="1557.7" x2="2673.6" y2="1573.2" stroke="#231f20" stroke-width="1.2" />
<line x1="2656.9" y1="1552.1" x2="2677.7" y2="1567.6" stroke="#231f20" stroke-width="1.2" />
<line x1="2648.8" y1="1562.9" x2="2660.1" y2="1547.7" stroke="#231f20" stroke-width="1.2" />
<line x1="2669.7" y1="1578.4" x2="2681.0" y2="1563.2" stroke="#231f20" stroke-width="1.2" />
<path d="M2401.4,1559.6 L2606.8,1718.5 L2613.2,1710.1 L2407.8,1551.2 Z" fill="#fff" stroke="none" stroke-width="0" stroke-linejoin="round" stroke-linecap="round" />
<line x1="2401.4" y1="1559.6" x2="2606.8" y2="1718.5" stroke="#231f20" stroke-width="2.1" />
<line x1="2407.8" y1="1551.2" x2="2613.2" y2="1710.1" stroke="#231f20" stroke-width="2.1" />
<path d="M2402.9,1530.4 C2404.9,1530.2 2409.3,1530.5 2410.9,1532.1 C2412.5,1533.8 2413.1,1537.5 2412.7,1540.2 C2412.2,1542.9 2408.1,1546.3 2408.2,1548.2 C2408.4,1550.1 2414.2,1549.6 2413.6,1551.8 C2413.0,1554.0 2407.2,1560.0 2404.6,1561.6 C2402.1,1563.2 2399.9,1560.7 2398.4,1561.6 C2396.9,1562.5 2397.4,1565.8 2395.7,1567.0 C2394.1,1568.2 2390.5,1569.5 2388.6,1568.8 C2386.6,1568.0 2384.0,1564.9 2384.1,1562.5 C2384.3,1560.1 2389.2,1557.0 2389.5,1554.5 C2389.8,1551.9 2385.3,1549.7 2385.9,1547.3 C2386.5,1544.9 2391.0,1542.6 2393.0,1540.2 C2395.1,1537.8 2396.8,1534.7 2398.4,1533.0 C2400.0,1531.4 2400.8,1530.5 2402.9,1530.4 Z" fill="#fff" stroke="#231f20" stroke-width="2.1" stroke-linejoin="round" stroke-linecap="round" />
<path d="M2396.6,1542.9 C2397.4,1544.3 2400.8,1549.0 2401.1,1551.8 C2401.4,1554.6 2398.8,1558.5 2398.4,1559.8" fill="none" stroke="#231f20" stroke-width="1.2" stroke-linejoin="round" stroke-linecap="round" />
<line x1="2668.4" y1="1759.0" x2="2699.2" y2="1777.5" stroke="#231f20" stroke-width="16.0"/>
<line x1="2668.4" y1="1759.0" x2="2699.2" y2="1777.5" stroke="#fff" stroke-width="11.0" stroke-dasharray="0.42 1.5"/>
<ellipse cx="2699.2" cy="1777.5" rx="4.5" ry="7.2" transform="rotate(31.0 2699.2 1777.5)" fill="#fff" stroke="#231f20" stroke-width="1.7"/>
<path d="M2641.9,1756.5 L2664.1,1769.9 L2676.0,1750.1 L2653.7,1736.7 Z" fill="#fff" stroke="none" stroke-width="0" stroke-linejoin="round" stroke-linecap="round" />
<line x1="2641.9" y1="1756.5" x2="2664.1" y2="1769.9" stroke="#231f20" stroke-width="2.0" />
<line x1="2653.7" y1="1736.7" x2="2676.0" y2="1750.1" stroke="#231f20" stroke-width="2.0" />
<ellipse cx="2670.1" cy="1760.0" rx="5.8" ry="11.5" transform="rotate(31.0 2670.1 1760.0)" fill="#fff" stroke="#231f20" stroke-width="2.0"/>
<path d="M2634.7,1756.8 L2643.2,1761.9 L2659.2,1735.4 L2650.6,1730.2 Z" fill="#fff" stroke="none" stroke-width="0" stroke-linejoin="round" stroke-linecap="round" />
<line x1="2634.7" y1="1756.8" x2="2643.2" y2="1761.9" stroke="#231f20" stroke-width="2.0" />
<line x1="2650.6" y1="1730.2" x2="2659.2" y2="1735.4" stroke="#231f20" stroke-width="2.0" />
<ellipse cx="2651.2" cy="1748.7" rx="7.8" ry="15.5" transform="rotate(31.0 2651.2 1748.7)" fill="#fff" stroke="#231f20" stroke-width="2.0"/>
<ellipse cx="2613.5" cy="1726.0" rx="10.8" ry="21.5" transform="rotate(31.0 2613.5 1726.0)" fill="#fff" stroke="#231f20" stroke-width="2.2"/>
<path d="M2602.4,1744.4 L2635.3,1759.5 L2653.4,1729.5 L2624.6,1707.6 Z" fill="#fff" stroke="none" stroke-width="0" stroke-linejoin="round" stroke-linecap="round" />
<line x1="2602.4" y1="1744.4" x2="2635.3" y2="1759.5" stroke="#231f20" stroke-width="2.2" />
<line x1="2624.6" y1="1707.6" x2="2653.4" y2="1729.5" stroke="#231f20" stroke-width="2.2" />
<ellipse cx="2644.4" cy="1744.5" rx="8.8" ry="17.5" transform="rotate(31.0 2644.4 1744.5)" fill="#fff" stroke="#231f20" stroke-width="1.6"/>
<ellipse cx="2611.8" cy="1725.0" rx="9.7" ry="22.5" transform="rotate(31.0 2611.8 1725.0)" fill="#fff" stroke="#231f20" stroke-width="2.1"/>
<ellipse cx="2614.4" cy="1726.5" rx="9.7" ry="21.5" transform="rotate(31.0 2614.4 1726.5)" fill="none" stroke="#231f20" stroke-width="1.2"/>
<ellipse cx="2621.8" cy="1739.2" rx="2.0" ry="3.2" transform="rotate(31.0 2621.8 1739.2)" fill="#fff" stroke="#231f20" stroke-width="1.5"/>
<ellipse cx="2662.2" cy="1757.9" rx="2.2" ry="2.2" transform="rotate(0.0 2662.2 1757.9)" fill="#fff" stroke="#231f20" stroke-width="1.3"/>
<ellipse cx="2470.7" cy="1764.3" rx="8.8" ry="11.0" transform="rotate(147.8 2470.7 1764.3)" fill="#fff" stroke="#231f20" stroke-width="2.0"/>
<line x1="2470.7" y1="1764.3" x2="2417.1" y2="1788.4" stroke="#231f20" stroke-width="10.0"/>
<line x1="2470.7" y1="1764.3" x2="2417.1" y2="1788.4" stroke="#fff" stroke-width="6.0"/>
<line x1="2470.7" y1="1764.3" x2="2417.1" y2="1788.4" stroke="#231f20" stroke-width="6.0" stroke-dasharray="1.05 0.85"/>
<ellipse cx="2417.1" cy="1788.4" rx="2.8" ry="4.2" transform="rotate(155.8 2417.1 1788.4)" fill="#fff" stroke="#231f20" stroke-width="1.7"/>
<path d="M2112.4,1763.8 L2115.4,1751.6 L2123.5,1745.1 L2155.0,1730.3 L2166.2,1731.3 L2177.4,1724.2 L2186.5,1724.2 L2193.7,1731.3 L2199.8,1740.4 L2204.8,1742.5 L2222.1,1734.3 L2214.0,1724.2 L2210.9,1711.0 L2215.0,1702.4 L2256.7,1680.5 L2266.8,1680.9 L2273.9,1687.6 L2278.6,1697.8 L2279.0,1705.9 L2415.2,1808.5 L2423.3,1826.8 L2478.2,1879.7 L2483.3,1889.8 L2482.3,1901.0 L2474.1,1907.7 L2464.0,1909.1 L2453.8,1904.1 L2407.1,1877.6 L2363.4,1879.7 L2362.4,1893.9 L2398.9,1920.3 L2403.0,1928.5 L2401.0,1938.6 L2392.8,1945.7 L2382.7,1947.2 L2141.8,1782.1 L2130.7,1781.1 L2120.5,1777.0 L2114.4,1772.0 Z" fill="#fff" stroke="#231f20" stroke-width="2.4" stroke-linejoin="round" stroke-linecap="round" />
<ellipse cx="2123.5" cy="1767.3" rx="6.8" ry="9.2" transform="rotate(-25.0 2123.5 1767.3)" fill="#fff" stroke="#231f20" stroke-width="1.8"/>
<ellipse cx="2123.5" cy="1767.3" rx="3.2" ry="4.6" transform="rotate(-25.0 2123.5 1767.3)" fill="#fff" stroke="#231f20" stroke-width="1.5"/>
<path d="M2123.5,1745.1 C2125.6,1746.2 2132.4,1748.2 2135.7,1751.6 C2139.0,1755.1 2142.2,1760.8 2143.3,1765.9 C2144.3,1770.9 2142.1,1779.4 2141.8,1782.1" fill="none" stroke="#231f20" stroke-width="1.5" stroke-linejoin="round" stroke-linecap="round" />
<ellipse cx="2221.7" cy="1718.1" rx="9.2" ry="12.5" transform="rotate(-25.0 2221.7 1718.1)" fill="#fff" stroke="#231f20" stroke-width="1.9"/>
<ellipse cx="2221.7" cy="1718.1" rx="3.8" ry="5.8" transform="rotate(-25.0 2221.7 1718.1)" fill="#fff" stroke="#231f20" stroke-width="1.5"/>
<path d="M2232.3,1711.0 C2233.8,1712.0 2239.4,1714.4 2241.4,1717.1 C2243.5,1719.8 2244.0,1725.5 2244.5,1727.2" fill="none" stroke="#231f20" stroke-width="1.3" stroke-linejoin="round" stroke-linecap="round" />
<path d="M2233.3,1708.9 L2258.7,1695.7 L2273.9,1700.8" fill="none" stroke="#231f20" stroke-width="1.3" stroke-linejoin="round" stroke-linecap="round" />
<path d="M2222.1,1734.3 L2244.5,1724.2" fill="none" stroke="#231f20" stroke-width="1.4" stroke-linejoin="round" stroke-linecap="round" />
<path d="M2166.2,1731.3 L2171.3,1739.4 L2181.5,1741.5 L2199.8,1740.4" fill="none" stroke="#231f20" stroke-width="1.3" stroke-linejoin="round" stroke-linecap="round" />
<path d="M2171.3,1739.4 L2170.3,1731.3" fill="none" stroke="#231f20" stroke-width="1.2" stroke-linejoin="round" stroke-linecap="round" />
<ellipse cx="2189.6" cy="1742.5" rx="9.0" ry="6.0" transform="rotate(-10.0 2189.6 1742.5)" fill="#fff" stroke="#231f20" stroke-width="1.4"/>
<line x1="2151.0" y1="1751.6" x2="2159.1" y2="1755.7" stroke="#231f20" stroke-width="3.2" />
<line x1="2160.1" y1="1745.5" x2="2170.3" y2="1749.6" stroke="#231f20" stroke-width="3.2" />
<line x1="2143.9" y1="1749.6" x2="2157.1" y2="1745.5" stroke="#231f20" stroke-width="1.2" />
<path d="M2209.9,1749.6 L2246.5,1733.3 L2257.7,1760.8 Z" fill="none" stroke="#231f20" stroke-width="1.5" stroke-linejoin="round" stroke-linecap="round" />
<path d="M2246.5,1733.3 L2247.5,1755.7 L2257.7,1760.8" fill="none" stroke="#231f20" stroke-width="1.2" stroke-linejoin="round" stroke-linecap="round" />
<path d="M2214.0,1749.6 L2247.5,1755.7" fill="none" stroke="#231f20" stroke-width="1.0" stroke-linejoin="round" stroke-linecap="round" />
<path d="M2253.6,1710.0 L2259.7,1707.9 L2303.4,1778.0 L2319.7,1780.1 L2331.9,1775.0" fill="none" stroke="#231f20" stroke-width="1.5" stroke-linejoin="round" stroke-linecap="round" />
<path d="M2256.7,1713.0 L2272.9,1747.6 L2301.4,1780.1" fill="none" stroke="#231f20" stroke-width="1.3" stroke-linejoin="round" stroke-linecap="round" />
<path d="M2268.9,1737.4 L2281.1,1737.4 L2282.1,1743.5 L2272.9,1744.5" fill="none" stroke="#231f20" stroke-width="1.3" stroke-linejoin="round" stroke-linecap="round" />
<path d="M2167.2,1755.7 L2185.5,1757.7 L2201.8,1776.0 L2220.1,1772.0 L2250.6,1780.1 L2266.8,1792.3 L2252.6,1790.2" fill="none" stroke="#231f20" stroke-width="1.4" stroke-linejoin="round" stroke-linecap="round" />
<path d="M2171.3,1760.8 L2195.7,1776.0 L2203.8,1774.0" fill="none" stroke="#231f20" stroke-width="1.2" stroke-linejoin="round" stroke-linecap="round" />
<path d="M2220.1,1772.0 L2258.7,1792.3 L2264.8,1780.1 L2251.6,1772.0" fill="none" stroke="#231f20" stroke-width="1.3" stroke-linejoin="round" stroke-linecap="round" />
<path d="M2208.9,1788.2 C2210.1,1787.5 2212.5,1784.1 2216.0,1784.1 C2219.6,1784.1 2226.5,1785.8 2230.2,1788.2 C2234.0,1790.6 2235.0,1795.0 2238.4,1798.4 C2241.8,1801.8 2248.5,1806.8 2250.6,1808.5" fill="none" stroke="#231f20" stroke-width="1.4" stroke-linejoin="round" stroke-linecap="round" />
<path d="M2208.9,1788.2 L2212.0,1792.3 L2222.1,1787.2" fill="none" stroke="#231f20" stroke-width="1.2" stroke-linejoin="round" stroke-linecap="round" />
<ellipse cx="2238.8" cy="1803.5" rx="2.6" ry="4.2" transform="rotate(-25.0 2238.8 1803.5)" fill="#fff" stroke="#231f20" stroke-width="1.4"/>
<ellipse cx="2209.5" cy="1817.7" rx="3.0" ry="4.6" transform="rotate(-25.0 2209.5 1817.7)" fill="#fff" stroke="#231f20" stroke-width="1.4"/>
<path d="M2152.0,1776.0 L2189.6,1804.5 L2193.7,1801.4" fill="none" stroke="#231f20" stroke-width="1.3" stroke-linejoin="round" stroke-linecap="round" />
<path d="M2151.0,1782.1 L2187.6,1808.5" fill="none" stroke="#231f20" stroke-width="1.2" stroke-linejoin="round" stroke-linecap="round" />
<path d="M2157.1,1777.0 L2191.6,1800.4" fill="none" stroke="#231f20" stroke-width="1.0" stroke-linejoin="round" stroke-linecap="round" />
<path d="M2152.0,1776.0 L2151.0,1782.1" fill="none" stroke="#231f20" stroke-width="1.2" stroke-linejoin="round" stroke-linecap="round" />
<path d="M2222.1,1826.8 L2317.6,1888.8 L2319.7,1892.9 L2311.5,1893.9 L2223.1,1833.9 L2222.1,1826.8" fill="none" stroke="#231f20" stroke-width="1.4" stroke-linejoin="round" stroke-linecap="round" />
<path d="M2225.2,1826.8 L2313.6,1885.8" fill="none" stroke="#231f20" stroke-width="1.0" stroke-linejoin="round" stroke-linecap="round" />
<path d="M2305.4,1886.8 L2317.6,1888.8" fill="none" stroke="#231f20" stroke-width="1.2" stroke-linejoin="round" stroke-linecap="round" />
<path d="M2256.7,1812.6 L2268.9,1806.5 L2277.0,1824.8 L2266.8,1823.8 Z" fill="none" stroke="#231f20" stroke-width="1.4" stroke-linejoin="round" stroke-linecap="round" />
<path d="M2268.9,1806.5 L2269.9,1822.8" fill="none" stroke="#231f20" stroke-width="1.1" stroke-linejoin="round" stroke-linecap="round" />
<path d="M2283.1,1778.0 L2301.4,1780.1 L2293.3,1812.6 L2344.1,1844.1 L2348.1,1828.9" fill="none" stroke="#231f20" stroke-width="1.6" stroke-linejoin="round" stroke-linecap="round" />
<path d="M2282.1,1782.1 L2290.2,1810.6 L2293.3,1812.6" fill="none" stroke="#231f20" stroke-width="1.2" stroke-linejoin="round" stroke-linecap="round" />
<path d="M2305.4,1792.3 L2313.6,1818.7 L2319.7,1812.6 L2342.0,1802.4 L2374.6,1816.7 L2360.3,1822.8" fill="none" stroke="#231f20" stroke-width="1.3" stroke-linejoin="round" stroke-linecap="round" />
<path d="M2319.7,1812.6 L2318.7,1822.8 L2345.1,1843.1" fill="none" stroke="#231f20" stroke-width="1.3" stroke-linejoin="round" stroke-linecap="round" />
<path d="M2309.5,1782.1 L2329.8,1792.3 L2352.2,1796.3" fill="none" stroke="#231f20" stroke-width="1.1" stroke-linejoin="round" stroke-linecap="round" />
<ellipse cx="2370.5" cy="1800.4" rx="2.8" ry="4.2" transform="rotate(-25.0 2370.5 1800.4)" fill="#fff" stroke="#231f20" stroke-width="1.4"/>
<ellipse cx="2380.7" cy="1806.5" rx="2.8" ry="4.2" transform="rotate(-25.0 2380.7 1806.5)" fill="#fff" stroke="#231f20" stroke-width="1.4"/>
<ellipse cx="2390.8" cy="1812.6" rx="2.8" ry="4.2" transform="rotate(-25.0 2390.8 1812.6)" fill="#fff" stroke="#231f20" stroke-width="1.4"/>
<ellipse cx="2326.8" cy="1820.7" rx="3.0" ry="4.4" transform="rotate(-25.0 2326.8 1820.7)" fill="#fff" stroke="#231f20" stroke-width="1.4"/>
<ellipse cx="2338.0" cy="1827.8" rx="3.0" ry="4.4" transform="rotate(-25.0 2338.0 1827.8)" fill="#fff" stroke="#231f20" stroke-width="1.4"/>
<path d="M2368.5,1784.1 C2370.8,1784.8 2377.3,1784.8 2382.7,1788.2 C2388.1,1791.6 2397.4,1800.1 2401.0,1804.5 C2404.5,1808.9 2405.0,1811.6 2404.0,1814.6 C2403.0,1817.7 2398.8,1821.7 2394.9,1822.8 C2391.0,1823.8 2383.0,1821.1 2380.7,1820.7" fill="none" stroke="#231f20" stroke-width="1.4" stroke-linejoin="round" stroke-linecap="round" />
<path d="M2358.3,1782.1 L2362.4,1785.2 L2368.5,1784.1" fill="none" stroke="#231f20" stroke-width="1.1" stroke-linejoin="round" stroke-linecap="round" />
<path d="M2287.2,1826.8 L2293.3,1825.8 L2303.4,1832.9 L2291.2,1837.0 Z" fill="none" stroke="#231f20" stroke-width="1.2" stroke-linejoin="round" stroke-linecap="round" />
<path d="M2308.5,1851.2 L2317.6,1848.2 L2342.0,1853.3 L2339.0,1871.5 Z" fill="none" stroke="#231f20" stroke-width="1.3" stroke-linejoin="round" stroke-linecap="round" />
<path d="M2339.0,1855.3 L2341.0,1870.5" fill="none" stroke="#231f20" stroke-width="2.2" stroke-linejoin="round" stroke-linecap="round" />
<path d="M2367.4,1828.9 L2374.6,1827.8 L2407.1,1832.9 L2417.2,1841.1 L2405.0,1845.1 L2370.5,1841.1 L2367.4,1828.9" fill="none" stroke="#231f20" stroke-width="1.4" stroke-linejoin="round" stroke-linecap="round" />
<path d="M2406.1,1835.0 L2406.1,1843.1" fill="none" stroke="#231f20" stroke-width="2.0" stroke-linejoin="round" stroke-linecap="round" />
<path d="M2360.3,1855.3 L2361.3,1879.7" fill="none" stroke="#231f20" stroke-width="1.3" stroke-linejoin="round" stroke-linecap="round" />
<path d="M2361.3,1861.4 L2382.7,1863.4 L2384.7,1870.5 L2363.4,1879.7" fill="none" stroke="#231f20" stroke-width="1.3" stroke-linejoin="round" stroke-linecap="round" />
<path d="M2378.6,1841.1 L2388.8,1851.2 L2419.3,1857.3 L2425.4,1870.5 L2441.6,1873.6" fill="none" stroke="#231f20" stroke-width="1.2" stroke-linejoin="round" stroke-linecap="round" />
<path d="M2419.3,1857.3 L2423.3,1863.4 L2482.3,1901.0" fill="none" stroke="#231f20" stroke-width="1.2" stroke-linejoin="round" stroke-linecap="round" />
<ellipse cx="2457.9" cy="1895.3" rx="3.8" ry="5.6" transform="rotate(-25.0 2457.9 1895.3)" fill="#fff" stroke="#231f20" stroke-width="1.5"/>
<path d="M2443.7,1873.6 C2446.7,1874.9 2457.7,1878.3 2462.0,1881.7 C2466.2,1885.1 2468.0,1889.8 2469.1,1893.9 C2470.1,1898.0 2468.2,1904.1 2468.0,1906.1" fill="none" stroke="#231f20" stroke-width="1.2" stroke-linejoin="round" stroke-linecap="round" />
<ellipse cx="2378.6" cy="1933.5" rx="3.8" ry="5.6" transform="rotate(-25.0 2378.6 1933.5)" fill="#fff" stroke="#231f20" stroke-width="1.5"/>
<path d="M2376.6,1912.2 C2377.9,1913.6 2382.7,1916.9 2384.7,1920.3 C2386.7,1923.7 2388.3,1928.5 2388.8,1932.5 C2389.3,1936.6 2387.9,1942.7 2387.8,1944.7" fill="none" stroke="#231f20" stroke-width="1.2" stroke-linejoin="round" stroke-linecap="round" />
<path d="M2232.3,1833.9 L2374.6,1932.5" fill="none" stroke="#231f20" stroke-width="1.0" stroke-linejoin="round" stroke-linecap="round" />
<path d="M2334.2,1948.7 L2233.0,1996.6 L2237.8,2006.7 L2339.0,1958.8 Z" fill="#fff" stroke="none" stroke-width="0" stroke-linejoin="round" stroke-linecap="round" />
<line x1="2334.2" y1="1948.7" x2="2233.0" y2="1996.6" stroke="#231f20" stroke-width="2.0" />
<line x1="2339.0" y1="1958.8" x2="2237.8" y2="2006.7" stroke="#231f20" stroke-width="2.0" />
<line x1="2334.8" y1="1954.6" x2="2349.3" y2="1947.8" stroke="#231f20" stroke-width="11.2"/>
<line x1="2334.8" y1="1954.6" x2="2349.3" y2="1947.8" stroke="#fff" stroke-width="6.7" stroke-dasharray="0.42 1.5"/>
<ellipse cx="2349.3" cy="1947.8" rx="3.1" ry="4.8" transform="rotate(-25.3 2349.3 1947.8)" fill="#fff" stroke="#231f20" stroke-width="1.7"/>
<line x1="2239.0" y1="1999.9" x2="2222.7" y2="2007.6" stroke="#231f20" stroke-width="11.2"/>
<line x1="2239.0" y1="1999.9" x2="2222.7" y2="2007.6" stroke="#fff" stroke-width="6.7" stroke-dasharray="0.42 1.5"/>
<ellipse cx="2222.7" cy="2007.6" rx="3.1" ry="4.8" transform="rotate(154.7 2222.7 2007.6)" fill="#fff" stroke="#231f20" stroke-width="1.7"/>
<path d="M2210.6,2013.1 L2209.7,2025.6 L2200.6,2030.9 L2192.4,2023.7 L2193.3,2011.2 L2202.4,2005.9 Z" fill="#fff" stroke="#231f20" stroke-width="1.8" stroke-linejoin="round" stroke-linecap="round" />
<path d="M2206.1,2015.6 L2205.2,2028.1 L2196.1,2033.4 L2187.9,2026.2 L2188.8,2013.7 L2197.9,2008.4 Z" fill="#fff" stroke="#231f20" stroke-width="1.9" stroke-linejoin="round" stroke-linecap="round" />
<line x1="2206.1" y1="2015.6" x2="2210.6" y2="2013.1" stroke="#231f20" stroke-width="1.4" />
<line x1="2205.2" y1="2028.1" x2="2209.7" y2="2025.6" stroke="#231f20" stroke-width="1.4" />
<line x1="2197.9" y1="2008.4" x2="2202.4" y2="2005.9" stroke="#231f20" stroke-width="1.4" />
<ellipse cx="2197.0" cy="2020.9" rx="6.2" ry="7.8" transform="rotate(0.0 2197.0 2020.9)" fill="#fff" stroke="#231f20" stroke-width="1.6"/>
<ellipse cx="2197.0" cy="2020.9" rx="4.2" ry="5.2" transform="rotate(0.0 2197.0 2020.9)" fill="#fff" stroke="#231f20" stroke-width="1.5"/>
<ellipse cx="2197.0" cy="2020.9" rx="2.0" ry="2.5" transform="rotate(0.0 2197.0 2020.9)" fill="#fff" stroke="#231f20" stroke-width="1.2"/>
<path d="M2528.6,1909.9 C2528.6,1907.6 2531.0,1904.6 2532.3,1903.4 C2533.6,1902.2 2537.8,1899.8 2539.7,1899.7 C2541.7,1899.6 2546.4,1901.0 2548.9,1902.5 C2551.5,1904.0 2560.5,1913.5 2561.9,1912.6 C2563.3,1911.8 2560.7,1897.9 2561.0,1895.1 C2561.2,1892.3 2562.4,1889.8 2563.7,1888.6 C2565.0,1887.4 2570.0,1885.2 2572.0,1884.9 C2574.1,1884.7 2577.6,1884.5 2581.3,1886.8 C2584.9,1889.0 2600.2,1901.2 2603.4,1904.3 C2606.7,1907.5 2606.9,1907.5 2609.0,1913.6 C2611.0,1919.6 2618.8,1947.6 2621.0,1956.0 C2623.1,1964.5 2625.9,1981.1 2627.4,1985.6 C2629.0,1990.1 2632.9,1992.5 2633.9,1994.8 C2634.9,1997.2 2636.0,2003.3 2635.8,2005.9 C2635.5,2008.5 2631.8,2015.1 2632.1,2017.0 C2632.3,2018.9 2636.6,2021.0 2637.6,2022.5 C2638.6,2024.0 2640.5,2028.0 2640.4,2029.9 C2640.3,2031.9 2638.8,2037.0 2636.7,2039.2 C2634.5,2041.3 2626.2,2046.4 2621.9,2048.4 C2617.6,2050.4 2602.8,2055.3 2599.7,2056.7 C2596.7,2058.1 2598.4,2059.0 2596.0,2060.4 C2593.7,2061.8 2582.4,2068.0 2579.4,2068.7 C2576.4,2069.5 2572.1,2067.9 2570.2,2066.9 C2568.2,2065.8 2564.1,2061.4 2562.8,2059.5 C2561.5,2057.5 2559.3,2052.2 2559.1,2050.2 C2558.9,2048.3 2562.5,2047.2 2561.0,2042.9 C2559.4,2038.5 2548.0,2018.7 2546.2,2013.3 C2544.3,2007.9 2544.8,2000.3 2545.3,1996.7 C2545.7,1993.0 2549.7,1985.4 2549.9,1981.9 C2550.1,1978.5 2549.1,1974.0 2547.1,1967.1 C2545.1,1960.2 2534.5,1929.5 2532.3,1922.8 C2530.2,1916.1 2528.6,1912.1 2528.6,1909.9 Z" fill="#fff" stroke="#231f20" stroke-width="2.3" stroke-linejoin="round" stroke-linecap="round" />
<path d="M2548.9,1902.5 L2572.0,1921.0 L2576.7,1933.9 L2586.8,1978.2 L2592.4,1993.0" fill="none" stroke="#231f20" stroke-width="1.6" stroke-linejoin="round" stroke-linecap="round" />
<path d="M2561.9,1912.6 L2563.7,1915.4 L2569.3,1923.7 L2581.3,1978.2 L2584.0,1993.0 L2579.4,2007.8 L2581.3,2026.2 L2585.0,2044.7" fill="none" stroke="#231f20" stroke-width="1.4" stroke-linejoin="round" stroke-linecap="round" />
<path d="M2572.0,1921.0 L2569.3,1923.7" fill="none" stroke="#231f20" stroke-width="1.2" stroke-linejoin="round" stroke-linecap="round" />
<path d="M2532.3,1908.0 L2539.7,1904.3 L2546.2,1906.2 L2563.7,1919.1" fill="none" stroke="#231f20" stroke-width="1.1" stroke-linejoin="round" stroke-linecap="round" />
<path d="M2563.7,1892.3 L2571.1,1889.6 L2599.7,1906.2 L2605.7,1915.4 L2618.2,1959.7 L2623.8,1987.4" fill="none" stroke="#231f20" stroke-width="1.3" stroke-linejoin="round" stroke-linecap="round" />
<path d="M2592.4,1926.5 L2596.0,1941.3 L2597.0,1970.8 L2603.4,1978.2 L2608.1,1970.8" fill="none" stroke="#231f20" stroke-width="1.2" stroke-linejoin="round" stroke-linecap="round" />
<path d="M2586.8,1930.2 L2590.5,1946.8 L2588.7,1963.4" fill="none" stroke="#231f20" stroke-width="1.1" stroke-linejoin="round" stroke-linecap="round" />
<path d="M2588.7,1970.8 L2600.7,1966.2 L2607.1,1972.7" fill="none" stroke="#231f20" stroke-width="1.2" stroke-linejoin="round" stroke-linecap="round" />
<ellipse cx="2540.6" cy="1920.0" rx="3.6" ry="5.0" transform="rotate(-22.0 2540.6 1920.0)" fill="#fff" stroke="#231f20" stroke-width="1.5"/>
<ellipse cx="2556.3" cy="1928.3" rx="3.6" ry="5.0" transform="rotate(-22.0 2556.3 1928.3)" fill="#fff" stroke="#231f20" stroke-width="1.5"/>
<ellipse cx="2573.3" cy="1904.3" rx="3.6" ry="5.0" transform="rotate(-22.0 2573.3 1904.3)" fill="#fff" stroke="#231f20" stroke-width="1.5"/>
<ellipse cx="2589.6" cy="1912.6" rx="3.6" ry="5.0" transform="rotate(-22.0 2589.6 1912.6)" fill="#fff" stroke="#231f20" stroke-width="1.5"/>
<ellipse cx="2613.0" cy="2010.0" rx="22.0" ry="29.5" transform="rotate(18.0 2613.0 2010.0)" fill="#fff" stroke="#231f20" stroke-width="2.0"/>
<ellipse cx="2613.0" cy="2010.0" rx="17.0" ry="24.0" transform="rotate(18.0 2613.0 2010.0)" fill="#fff" stroke="#231f20" stroke-width="1.6"/>
<ellipse cx="2615.0" cy="2009.0" rx="14.5" ry="21.5" transform="rotate(18.0 2615.0 2009.0)" fill="none" stroke="#231f20" stroke-width="1.2"/>
<path d="M2592.4,1989.3 C2594.2,1987.8 2599.1,1981.6 2603.4,1980.1 C2607.7,1978.5 2613.9,1978.5 2618.2,1980.1 C2622.5,1981.6 2627.4,1987.8 2629.3,1989.3" fill="none" stroke="#231f20" stroke-width="1.3" stroke-linejoin="round" stroke-linecap="round" />
<path d="M2632.1,2017.0 C2631.6,2018.5 2631.6,2023.2 2629.3,2026.2 C2627.0,2029.3 2622.5,2033.6 2618.2,2035.5 C2613.9,2037.3 2605.9,2037.0 2603.4,2037.3" fill="none" stroke="#231f20" stroke-width="1.2" stroke-linejoin="round" stroke-linecap="round" />
<path d="M2549.9,1981.9 L2561.9,1993.0 L2559.1,2018.8" fill="none" stroke="#231f20" stroke-width="1.3" stroke-linejoin="round" stroke-linecap="round" />
<path d="M2561.9,1993.0 L2573.9,2004.1 L2574.8,2026.2" fill="none" stroke="#231f20" stroke-width="1.2" stroke-linejoin="round" stroke-linecap="round" />
<path d="M2546.2,2007.8 L2555.4,2011.5 L2561.0,2022.5 L2561.0,2042.9" fill="none" stroke="#231f20" stroke-width="1.2" stroke-linejoin="round" stroke-linecap="round" />
<path d="M2585.0,2044.7 L2596.0,2060.4" fill="none" stroke="#231f20" stroke-width="1.2" stroke-linejoin="round" stroke-linecap="round" />
<path d="M2599.7,2056.7 L2597.9,2046.6 L2621.9,2037.3" fill="none" stroke="#231f20" stroke-width="1.1" stroke-linejoin="round" stroke-linecap="round" />
<ellipse cx="2571.1" cy="2053.4" rx="10.5" ry="12.5" transform="rotate(-20.0 2571.1 2053.4)" fill="#fff" stroke="#231f20" stroke-width="1.9"/>
<ellipse cx="2570.6" cy="2053.9" rx="4.6" ry="6.0" transform="rotate(-20.0 2570.6 2053.9)" fill="#fff" stroke="#231f20" stroke-width="1.5"/>
<path d="M2577.6,2041.9 C2578.5,2042.7 2581.7,2044.2 2583.1,2046.6 C2584.5,2048.9 2585.7,2052.7 2585.9,2055.8 C2586.0,2058.9 2584.3,2063.5 2584.0,2065.0" fill="none" stroke="#231f20" stroke-width="1.3" stroke-linejoin="round" stroke-linecap="round" />
<ellipse cx="2492.6" cy="1944.0" rx="18.5" ry="30.9" transform="rotate(30.0 2492.6 1944.0)" fill="#fff" stroke="#231f20" stroke-width="2.3"/>
<path d="M2477.1,1970.8 L2488.0,1977.1 L2518.8,1923.5 L2508.0,1917.3 Z" fill="#fff" stroke="none" stroke-width="0" stroke-linejoin="round" stroke-linecap="round" />
<line x1="2477.1" y1="1970.8" x2="2488.0" y2="1977.1" stroke="#231f20" stroke-width="2.3" />
<line x1="2508.0" y1="1917.3" x2="2518.8" y2="1923.5" stroke="#231f20" stroke-width="2.3" />
<ellipse cx="2503.4" cy="1950.3" rx="18.5" ry="30.9" transform="rotate(30.0 2503.4 1950.3)" fill="#fff" stroke="#231f20" stroke-width="2.3"/>
<ellipse cx="2503.4" cy="1950.3" rx="17.4" ry="29.0" transform="rotate(30.0 2503.4 1950.3)" fill="none" stroke="#231f20" stroke-width="1.0"/>
<ellipse cx="2503.4" cy="1950.3" rx="14.7" ry="24.5" transform="rotate(30.0 2503.4 1950.3)" fill="none" stroke="#231f20" stroke-width="1.6"/>
<ellipse cx="2503.4" cy="1950.3" rx="12.9" ry="21.5" transform="rotate(30.0 2503.4 1950.3)" fill="#fff" stroke="#231f20" stroke-width="2.3"/>
<clipPath id="cp2503_1950"><ellipse cx="2503.4" cy="1950.3" rx="12.9" ry="21.5" transform="rotate(30 2503.4 1950.3)"/></clipPath>
<g clip-path="url(#cp2503_1950)">
<ellipse cx="2494.7" cy="1945.3" rx="12.9" ry="21.5" transform="rotate(30.0 2494.7 1945.3)" fill="none" stroke="#231f20" stroke-width="1.6"/>
</g>
<ellipse cx="2503.4" cy="1950.3" rx="12.0" ry="20.0" transform="rotate(30.0 2503.4 1950.3)" fill="none" stroke="#231f20" stroke-width="1.2"/>
<ellipse cx="2668.9" cy="2043.7" rx="12.9" ry="21.5" transform="rotate(30.0 2668.9 2043.7)" fill="#fff" stroke="#231f20" stroke-width="2.3"/>
<path d="M2658.2,2062.3 L2671.2,2069.8 L2692.7,2032.6 L2679.7,2025.1 Z" fill="#fff" stroke="none" stroke-width="0" stroke-linejoin="round" stroke-linecap="round" />
<line x1="2658.2" y1="2062.3" x2="2671.2" y2="2069.8" stroke="#231f20" stroke-width="2.3" />
<line x1="2679.7" y1="2025.1" x2="2692.7" y2="2032.6" stroke="#231f20" stroke-width="2.3" />
<ellipse cx="2681.9" cy="2051.2" rx="12.9" ry="21.5" transform="rotate(30.0 2681.9 2051.2)" fill="#fff" stroke="#231f20" stroke-width="2.3"/>
<ellipse cx="2681.9" cy="2051.2" rx="11.9" ry="19.8" transform="rotate(30.0 2681.9 2051.2)" fill="none" stroke="#231f20" stroke-width="1.0"/>
<ellipse cx="2681.9" cy="2051.2" rx="9.3" ry="15.5" transform="rotate(30.0 2681.9 2051.2)" fill="none" stroke="#231f20" stroke-width="1.8"/>
<ellipse cx="2681.9" cy="2051.2" rx="7.2" ry="12.0" transform="rotate(30.0 2681.9 2051.2)" fill="#fff" stroke="#231f20" stroke-width="2.3"/>
<clipPath id="cp2681_2051"><ellipse cx="2681.9" cy="2051.2" rx="7.2" ry="12.0" transform="rotate(30 2681.9 2051.2)"/></clipPath>
<g clip-path="url(#cp2681_2051)">
<ellipse cx="2675.0" cy="2047.2" rx="7.2" ry="12.0" transform="rotate(30.0 2675.0 2047.2)" fill="none" stroke="#231f20" stroke-width="1.6"/>
</g>
<ellipse cx="2681.9" cy="2051.2" rx="8.1" ry="13.5" transform="rotate(30.0 2681.9 2051.2)" fill="none" stroke="#231f20" stroke-width="1.1"/>
<ellipse cx="2734.6" cy="2081.6" rx="1.8" ry="3.5" transform="rotate(-168.4 2734.6 2081.6)" fill="#fff" stroke="#231f20" stroke-width="1.9"/>
<path d="M2735.3,2078.2 L2708.5,2072.7 L2707.1,2079.5 L2733.9,2085.0 Z" fill="#fff" stroke="none" stroke-width="0" stroke-linejoin="round" stroke-linecap="round" />
<line x1="2735.3" y1="2078.2" x2="2708.5" y2="2072.7" stroke="#231f20" stroke-width="1.9" />
<line x1="2733.9" y1="2085.0" x2="2707.1" y2="2079.5" stroke="#231f20" stroke-width="1.9" />
<ellipse cx="2707.8" cy="2076.1" rx="1.8" ry="3.5" transform="rotate(-168.4 2707.8 2076.1)" fill="#fff" stroke="#231f20" stroke-width="1.9"/>
<line x1="2710.0" y1="2075.0" x2="2733.0" y2="2079.8" stroke="#231f20" stroke-width="1.0" />
<path d="M2764.9,2112.2 L2746.7,2118.2 L2739.8,2102.1 L2751.1,2079.8 L2769.3,2073.8 L2776.2,2089.9 Z" fill="#fff" stroke="#231f20" stroke-width="2.0" stroke-linejoin="round" stroke-linecap="round" />
<path d="M2764.9,2112.2 L2746.7,2118.2 L2757.2,2124.2 L2775.4,2118.2 Z" fill="#fff" stroke="#231f20" stroke-width="1.6" stroke-linejoin="round" stroke-linecap="round" />
<path d="M2746.7,2118.2 L2739.8,2102.1 L2750.3,2108.1 L2757.2,2124.2 Z" fill="#fff" stroke="#231f20" stroke-width="1.6" stroke-linejoin="round" stroke-linecap="round" />
<path d="M2739.8,2102.1 L2751.1,2079.8 L2761.6,2085.8 L2750.3,2108.1 Z" fill="#fff" stroke="#231f20" stroke-width="1.6" stroke-linejoin="round" stroke-linecap="round" />
<path d="M2751.1,2079.8 L2769.3,2073.8 L2779.8,2079.8 L2761.6,2085.8 Z" fill="#fff" stroke="#231f20" stroke-width="1.6" stroke-linejoin="round" stroke-linecap="round" />
<path d="M2769.3,2073.8 L2776.2,2089.9 L2786.7,2095.9 L2779.8,2079.8 Z" fill="#fff" stroke="#231f20" stroke-width="1.6" stroke-linejoin="round" stroke-linecap="round" />
<path d="M2776.2,2089.9 L2764.9,2112.2 L2775.4,2118.2 L2786.7,2095.9 Z" fill="#fff" stroke="#231f20" stroke-width="1.6" stroke-linejoin="round" stroke-linecap="round" />
<path d="M2775.4,2118.2 L2757.2,2124.2 L2750.3,2108.1 L2761.6,2085.8 L2779.8,2079.8 L2786.7,2095.9 Z" fill="#fff" stroke="#231f20" stroke-width="2.0" stroke-linejoin="round" stroke-linecap="round" />
<ellipse cx="2767.5" cy="2101.5" rx="6.2" ry="10.0" transform="rotate(30.0 2767.5 2101.5)" fill="#fff" stroke="#231f20" stroke-width="1.7"/>
<path d="M2771.5,2092.9 L2771.8,2093.4 L2772.0,2094.0 L2772.2,2094.6 L2772.3,2095.2 L2772.3,2095.9 L2772.3,2096.6 L2772.3,2097.3 L2772.2,2098.0 L2772.1,2098.8 L2771.9,2099.5 L2771.6,2100.3 L2771.4,2101.1 L2771.0,2101.8 L2770.7,2102.6 L2770.3,2103.3 L2769.8,2104.0 L2769.3,2104.7 L2768.8,2105.3 L2768.3,2105.9 L2767.8,2106.5 L2767.2,2107.0 L2766.6,2107.5 L2766.0,2107.9 L2765.4,2108.2 L2764.8,2108.6 L2764.2,2108.8 L2763.6,2109.0 L2763.0,2109.1 L2762.4,2109.2 L2761.8,2109.2 L2761.3,2109.1 L2760.8,2109.0 L2760.3,2108.8 L2759.9,2108.6 L2759.4,2108.3 L2759.1,2107.9 L2758.7,2107.5 L2758.4,2107.0 L2758.2,2106.5 L2758.0,2105.9" fill="none" stroke="#231f20" stroke-width="1.2" stroke-linejoin="round" stroke-linecap="round" />
<ellipse cx="2809.1" cy="2124.7" rx="12.9" ry="18.5" transform="rotate(30.0 2809.1 2124.7)" fill="#fff" stroke="#231f20" stroke-width="2.0"/>
<ellipse cx="2812.1" cy="2126.5" rx="12.9" ry="18.5" transform="rotate(30.0 2812.1 2126.5)" fill="#fff" stroke="#231f20" stroke-width="2.0"/>
<ellipse cx="2813.1" cy="2127.0" rx="11.5" ry="16.5" transform="rotate(30.0 2813.1 2127.0)" fill="none" stroke="#231f20" stroke-width="1.1"/>
<path d="M2821.7,2134.8 L2810.4,2141.1 L2802.7,2133.8 L2806.5,2120.2 L2817.8,2113.9 L2825.5,2121.2 Z" fill="#fff" stroke="#231f20" stroke-width="1.7" stroke-linejoin="round" stroke-linecap="round" />
<path d="M2826.7,2137.6 L2815.4,2143.9 L2807.7,2136.6 L2811.5,2123.0 L2822.8,2116.7 L2830.5,2124.0 Z" fill="#fff" stroke="#231f20" stroke-width="1.7" stroke-linejoin="round" stroke-linecap="round" />
<line x1="2821.7" y1="2134.8" x2="2826.7" y2="2137.6" stroke="#231f20" stroke-width="1.2" />
<line x1="2810.4" y1="2141.1" x2="2815.4" y2="2143.9" stroke="#231f20" stroke-width="1.2" />
<line x1="2802.7" y1="2133.8" x2="2807.7" y2="2136.6" stroke="#231f20" stroke-width="1.2" />
<line x1="2806.5" y1="2120.2" x2="2811.5" y2="2123.0" stroke="#231f20" stroke-width="1.2" />
<line x1="2817.8" y1="2113.9" x2="2822.8" y2="2116.7" stroke="#231f20" stroke-width="1.2" />
<line x1="2825.5" y1="2121.2" x2="2830.5" y2="2124.0" stroke="#231f20" stroke-width="1.2" />
<ellipse cx="2819.6" cy="2130.5" rx="6.8" ry="9.5" transform="rotate(30.0 2819.6 2130.5)" fill="#fff" stroke="#231f20" stroke-width="1.7"/>
<ellipse cx="2819.6" cy="2130.5" rx="5.0" ry="7.0" transform="rotate(30.0 2819.6 2130.5)" fill="none" stroke="#231f20" stroke-width="1.4"/>
<ellipse cx="2819.1" cy="2130.2" rx="3.5" ry="4.8" transform="rotate(30.0 2819.1 2130.2)" fill="none" stroke="#231f20" stroke-width="1.3"/>
<path d="M2531.0,1860.3 L2530.2,1871.8 L2521.9,1876.7 L2514.4,1870.1 L2515.2,1858.6 L2523.5,1853.7 Z" fill="#fff" stroke="#231f20" stroke-width="1.8" stroke-linejoin="round" stroke-linecap="round" />
<path d="M2526.5,1862.8 L2525.7,1874.3 L2517.4,1879.2 L2509.9,1872.6 L2510.7,1861.1 L2519.0,1856.2 Z" fill="#fff" stroke="#231f20" stroke-width="1.9" stroke-linejoin="round" stroke-linecap="round" />
<line x1="2526.5" y1="1862.8" x2="2531.0" y2="1860.3" stroke="#231f20" stroke-width="1.4" />
<line x1="2525.7" y1="1874.3" x2="2530.2" y2="1871.8" stroke="#231f20" stroke-width="1.4" />
<line x1="2519.0" y1="1856.2" x2="2523.5" y2="1853.7" stroke="#231f20" stroke-width="1.4" />
<ellipse cx="2518.2" cy="1867.7" rx="5.7" ry="7.1" transform="rotate(0.0 2518.2 1867.7)" fill="#fff" stroke="#231f20" stroke-width="1.6"/>
<ellipse cx="2518.2" cy="1867.7" rx="3.9" ry="4.8" transform="rotate(0.0 2518.2 1867.7)" fill="#fff" stroke="#231f20" stroke-width="1.5"/>
<ellipse cx="2518.2" cy="1867.7" rx="1.8" ry="2.3" transform="rotate(0.0 2518.2 1867.7)" fill="#fff" stroke="#231f20" stroke-width="1.2"/>
<line x1="409.5" y1="299.8" x2="259.3" y2="318.3" stroke="#231f20" stroke-width="2.1" />
<line x1="409.5" y1="299.8" x2="304.2" y2="321.6" stroke="#231f20" stroke-width="2.1" />
<line x1="409.5" y1="299.8" x2="241.6" y2="377.5" stroke="#231f20" stroke-width="2.1" />
<line x1="409.5" y1="299.8" x2="297.5" y2="391.4" stroke="#231f20" stroke-width="2.1" />
<line x1="601.6" y1="426.8" x2="534.0" y2="463.8" stroke="#231f20" stroke-width="2.1" />
<line x1="298.6" y1="499.6" x2="376.2" y2="413.9" stroke="#231f20" stroke-width="2.1" />
<line x1="543.2" y1="534.0" x2="464.9" y2="622.9" stroke="#231f20" stroke-width="2.1" />
<line x1="491.9" y1="722.4" x2="631.9" y2="616.6" stroke="#231f20" stroke-width="2.1" />
<line x1="491.9" y1="722.4" x2="872.3" y2="1018.6" stroke="#231f20" stroke-width="2.1" />
<line x1="696.6" y1="969.5" x2="794.5" y2="1047.1" stroke="#231f20" stroke-width="2.1" />
<line x1="395.7" y1="1205.5" x2="489.8" y2="1173.7" stroke="#231f20" stroke-width="2.1" />
<line x1="395.7" y1="1205.5" x2="460.6" y2="1240.7" stroke="#231f20" stroke-width="2.1" />
<line x1="561.3" y1="1217.6" x2="575.3" y2="1301.2" stroke="#231f20" stroke-width="2.1" />
<line x1="1204.6" y1="227.3" x2="1267.5" y2="220.6" stroke="#231f20" stroke-width="2.1" />
<line x1="1204.6" y1="227.3" x2="1393.1" y2="293.8" stroke="#231f20" stroke-width="2.1" />
<line x1="1204.6" y1="227.3" x2="1255.3" y2="347.4" stroke="#231f20" stroke-width="2.1" />
<line x1="1204.6" y1="227.3" x2="1389.4" y2="369.5" stroke="#231f20" stroke-width="2.1" />
<line x1="987.4" y1="280.1" x2="1062.4" y2="280.1" stroke="#231f20" stroke-width="2.1" />
<line x1="854.9" y1="529.5" x2="764.4" y2="590.0" stroke="#231f20" stroke-width="2.1" />
<line x1="854.9" y1="529.5" x2="801.6" y2="644.0" stroke="#231f20" stroke-width="2.1" />
<line x1="1604.6" y1="561.9" x2="1508.5" y2="595.3" stroke="#231f20" stroke-width="2.1" />
<line x1="1604.6" y1="561.9" x2="1582.4" y2="644.0" stroke="#231f20" stroke-width="2.1" />
<line x1="2140.3" y1="570.9" x2="1960.4" y2="403.0" stroke="#231f20" stroke-width="2.1" />
<line x1="2140.3" y1="570.9" x2="2055.3" y2="458.5" stroke="#231f20" stroke-width="2.1" />
<line x1="2140.3" y1="570.9" x2="2026.5" y2="586.8" stroke="#231f20" stroke-width="2.1" />
<line x1="2140.3" y1="570.9" x2="1985.1" y2="723.4" stroke="#231f20" stroke-width="2.1" />
<line x1="1522.0" y1="760.0" x2="1602.0" y2="760.0" stroke="#231f20" stroke-width="2.1" />
<line x1="1675.2" y1="1062.9" x2="1637.5" y2="1108.7" stroke="#231f20" stroke-width="2.1" />
<line x1="1473.1" y1="930.7" x2="1364.5" y2="958.6" stroke="#231f20" stroke-width="2.1" />
<line x1="1473.1" y1="930.7" x2="1384.3" y2="986.2" stroke="#231f20" stroke-width="2.1" />
<line x1="1473.1" y1="930.7" x2="1435.2" y2="990.5" stroke="#231f20" stroke-width="2.1" />
<line x1="1163.2" y1="1004.3" x2="1163.2" y2="1078.5" stroke="#231f20" stroke-width="2.1" />
<line x1="1518.8" y1="1109.5" x2="1439.3" y2="1200.0" stroke="#231f20" stroke-width="2.1" />
<line x1="1737.3" y1="1207.0" x2="1659.1" y2="1292.4" stroke="#231f20" stroke-width="2.1" />
<line x1="848.4" y1="1208.8" x2="780.4" y2="1164.4" stroke="#231f20" stroke-width="2.1" />
<line x1="510.0" y1="1405.1" x2="748.4" y2="1354.0" stroke="#231f20" stroke-width="2.1" />
<line x1="510.0" y1="1405.1" x2="814.1" y2="1392.0" stroke="#231f20" stroke-width="2.1" />
<line x1="510.0" y1="1405.1" x2="634.9" y2="1425.2" stroke="#231f20" stroke-width="2.1" />
<line x1="510.0" y1="1405.1" x2="696.7" y2="1460.3" stroke="#231f20" stroke-width="2.1" />
<line x1="1545.7" y1="1365.2" x2="1563.4" y2="1596.1" stroke="#231f20" stroke-width="2.1" />
<line x1="1545.7" y1="1365.2" x2="2036.3" y2="1326.6" stroke="#231f20" stroke-width="2.1" />
<line x1="1731.0" y1="1413.8" x2="1958.4" y2="1394.7" stroke="#231f20" stroke-width="2.1" />
<line x1="1731.0" y1="1413.8" x2="1681.6" y2="1578.3" stroke="#231f20" stroke-width="2.1" />
<line x1="1923.7" y1="1497.1" x2="1830.1" y2="1460.4" stroke="#231f20" stroke-width="2.1" />
<line x1="1949.9" y1="1534.5" x2="1946.0" y2="1598.9" stroke="#231f20" stroke-width="2.1" />
<line x1="2387.1" y1="1484.5" x2="2442.2" y2="1457.1" stroke="#231f20" stroke-width="2.1" />
<line x1="2387.1" y1="1484.5" x2="2772.8" y2="1706.0" stroke="#231f20" stroke-width="2.1" />
<line x1="2412.7" y1="1621.4" x2="2458.2" y2="1598.8" stroke="#231f20" stroke-width="2.1" />
<line x1="2432.3" y1="1726.8" x2="2452.9" y2="1774.1" stroke="#231f20" stroke-width="2.1" />
<line x1="2929.0" y1="1368.1" x2="2637.1" y2="1348.4" stroke="#231f20" stroke-width="2.1" />
<line x1="2929.0" y1="1368.1" x2="2960.7" y2="1610.3" stroke="#231f20" stroke-width="2.1" />
<line x1="2721.6" y1="1471.7" x2="2548.3" y2="1399.7" stroke="#231f20" stroke-width="2.1" />
<line x1="2721.6" y1="1471.7" x2="2531.9" y2="1455.9" stroke="#231f20" stroke-width="2.1" />
<line x1="2721.6" y1="1471.7" x2="2665.5" y2="1555.3" stroke="#231f20" stroke-width="2.1" />
<line x1="2721.6" y1="1471.7" x2="2785.7" y2="1652.6" stroke="#231f20" stroke-width="2.1" />
<line x1="2721.6" y1="1471.7" x2="2878.8" y2="1649.1" stroke="#231f20" stroke-width="2.1" />
<line x1="2422.5" y1="1179.7" x2="2295.0" y2="1211.5" stroke="#231f20" stroke-width="2.1" />
<line x1="2422.5" y1="1179.7" x2="2400.1" y2="1269.7" stroke="#231f20" stroke-width="2.1" />
<line x1="2140.8" y1="1859.3" x2="2222.1" y2="1787.2" stroke="#231f20" stroke-width="2.1" />
<line x1="2175.2" y1="1960.1" x2="2261.4" y2="1990.0" stroke="#231f20" stroke-width="2.1" />
<line x1="2138.3" y1="2047.3" x2="2191.0" y2="2026.2" stroke="#231f20" stroke-width="2.1" />
<line x1="2407.3" y1="2029.5" x2="2478.6" y2="1962.5" stroke="#231f20" stroke-width="2.1" />
<line x1="2577.3" y1="1842.3" x2="2524.8" y2="1863.7" stroke="#231f20" stroke-width="2.1" />
<line x1="2694.9" y1="1894.2" x2="2619.1" y2="1956.0" stroke="#231f20" stroke-width="2.1" />
<line x1="2759.5" y1="1969.9" x2="2687.5" y2="2034.5" stroke="#231f20" stroke-width="2.1" />
<line x1="2773.4" y1="2036.4" x2="2724.4" y2="2076.1" stroke="#231f20" stroke-width="2.1" />
<line x1="2773.4" y1="2036.4" x2="2768.7" y2="2081.6" stroke="#231f20" stroke-width="2.1" />
<line x1="2841.7" y1="2088.1" x2="2821.4" y2="2119.5" stroke="#231f20" stroke-width="2.1" />
<line x1="1442.3" y1="1745.1" x2="1510.5" y2="1697.5" stroke="#231f20" stroke-width="2.1" />
<line x1="1442.3" y1="1745.1" x2="1617.0" y2="1756.0" stroke="#231f20" stroke-width="2.1" />
<path d="M891.6,562.8 L1335.4,816.2 L1335.4,890.5 L1229.7,1043.1 L804.4,799.3 L804.4,699.5 Z" fill="none" stroke="#231f20" stroke-width="2.1" stroke-linejoin="round" stroke-linecap="round" />
<rect x="1874" y="629.7" width="111.1" height="189.1" fill="none" stroke="#231f20" stroke-width="2.1"/>
</svg></body></html>
